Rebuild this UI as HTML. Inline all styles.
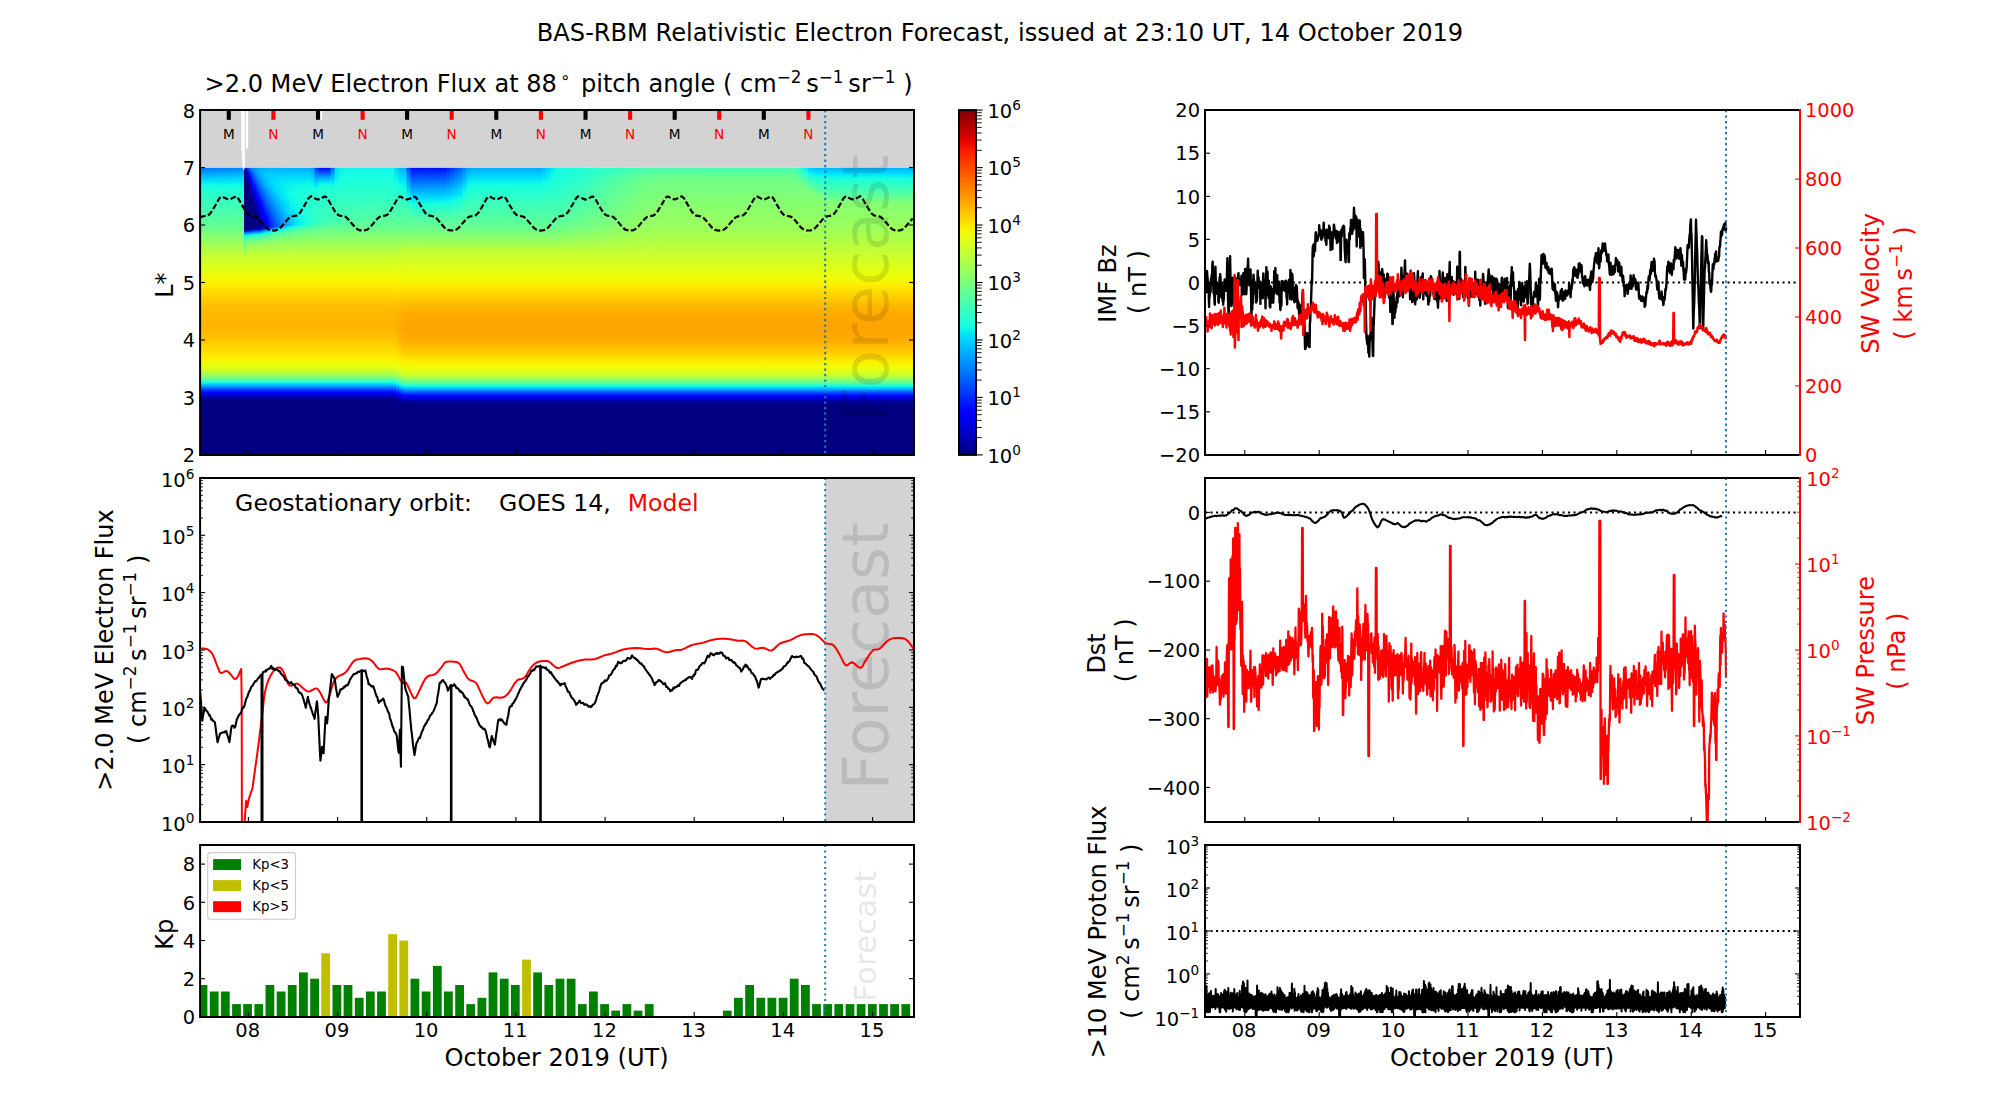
<!DOCTYPE html>
<html lang="en"><head><meta charset="utf-8"><title>BAS-RBM Relativistic Electron Forecast</title><style>html,body{margin:0;padding:0;background:#fff}body{width:2000px;height:1100px;overflow:hidden}svg text{font-family:'DejaVu Sans','Liberation Sans',sans-serif}</style></head><body>
<svg width="2000" height="1100" viewBox="0 0 2000 1100" font-family="'DejaVu Sans','Liberation Sans',sans-serif" style="display:block"><defs><linearGradient id="h0" x1="0" y1="0" x2="0" y2="1"><stop offset="0" stop-color="#c0ff37"/><stop offset=".114" stop-color="#f0fd07"/><stop offset=".137" stop-color="#f9f300"/><stop offset=".16" stop-color="#ffe900"/><stop offset=".263" stop-color="#ffbe00"/><stop offset=".349" stop-color="#ffb400"/><stop offset=".406" stop-color="#ffbd00"/><stop offset=".503" stop-color="#ffe500"/><stop offset=".52" stop-color="#feee00"/><stop offset=".537" stop-color="#f5f701"/><stop offset=".554" stop-color="#eaff0d"/><stop offset=".583" stop-color="#ceff29"/><stop offset=".617" stop-color="#7bff7b"/><stop offset=".64" stop-color="#19ffde"/><stop offset=".646" stop-color="#00e5f7"/><stop offset=".651" stop-color="#00c8ff"/><stop offset=".674" stop-color="#004fff"/><stop offset=".686" stop-color="#0010ff"/><stop offset=".691" stop-color="#0000ff"/><stop offset=".709" stop-color="#0000bb"/><stop offset=".714" stop-color="#0000a9"/><stop offset=".731" stop-color="#000080"/><stop offset="1" stop-color="#000080"/></linearGradient><linearGradient id="h1" x1="0" y1="0" x2="0" y2="1"><stop offset="0" stop-color="#c1ff36"/><stop offset=".114" stop-color="#f0fe07"/><stop offset=".137" stop-color="#f8f400"/><stop offset=".16" stop-color="#ffea00"/><stop offset=".263" stop-color="#ffbd00"/><stop offset=".349" stop-color="#ffb300"/><stop offset=".406" stop-color="#ffbc00"/><stop offset=".491" stop-color="#ffde00"/><stop offset=".52" stop-color="#feed00"/><stop offset=".543" stop-color="#f3f903"/><stop offset=".56" stop-color="#e6ff11"/><stop offset=".583" stop-color="#cfff28"/><stop offset=".617" stop-color="#7fff78"/><stop offset=".64" stop-color="#1fffd8"/><stop offset=".646" stop-color="#06edf1"/><stop offset=".651" stop-color="#00cfff"/><stop offset=".68" stop-color="#0037ff"/><stop offset=".686" stop-color="#0018ff"/><stop offset=".691" stop-color="#0000ff"/><stop offset=".697" stop-color="#0000f0"/><stop offset=".709" stop-color="#0000c1"/><stop offset=".714" stop-color="#0000ae"/><stop offset=".731" stop-color="#000083"/><stop offset=".771" stop-color="#000080"/><stop offset="1" stop-color="#000080"/></linearGradient><linearGradient id="h2" x1="0" y1="0" x2="0" y2="1"><stop offset="0" stop-color="#c2ff34"/><stop offset=".114" stop-color="#efff08"/><stop offset=".143" stop-color="#f9f200"/><stop offset=".16" stop-color="#ffea00"/><stop offset=".263" stop-color="#ffbc00"/><stop offset=".343" stop-color="#ffaf00"/><stop offset=".406" stop-color="#ffb600"/><stop offset=".469" stop-color="#ffcd00"/><stop offset=".526" stop-color="#feed00"/><stop offset=".543" stop-color="#f5f701"/><stop offset=".554" stop-color="#eeff09"/><stop offset=".583" stop-color="#d4ff23"/><stop offset=".6" stop-color="#b4ff43"/><stop offset=".617" stop-color="#8aff6d"/><stop offset=".634" stop-color="#4bffac"/><stop offset=".646" stop-color="#19ffdd"/><stop offset=".651" stop-color="#01e7f6"/><stop offset=".657" stop-color="#00c9ff"/><stop offset=".691" stop-color="#0011ff"/><stop offset=".697" stop-color="#0000ff"/><stop offset=".703" stop-color="#0000ed"/><stop offset=".709" stop-color="#0000d2"/><stop offset=".726" stop-color="#00009d"/><stop offset=".731" stop-color="#00008e"/><stop offset=".749" stop-color="#000080"/><stop offset="1" stop-color="#000080"/></linearGradient><linearGradient id="h3" x1="0" y1="0" x2="0" y2="1"><stop offset="0" stop-color="#c4ff32"/><stop offset=".12" stop-color="#f0fd07"/><stop offset=".143" stop-color="#f8f400"/><stop offset=".166" stop-color="#ffe800"/><stop offset=".263" stop-color="#ffba00"/><stop offset=".297" stop-color="#ffb000"/><stop offset=".371" stop-color="#ffa900"/><stop offset=".434" stop-color="#ffb600"/><stop offset=".491" stop-color="#ffd200"/><stop offset=".531" stop-color="#feee00"/><stop offset=".549" stop-color="#f5f701"/><stop offset=".56" stop-color="#eeff09"/><stop offset=".583" stop-color="#daff1d"/><stop offset=".6" stop-color="#c1ff35"/><stop offset=".617" stop-color="#97ff5f"/><stop offset=".634" stop-color="#62ff95"/><stop offset=".651" stop-color="#18ffde"/><stop offset=".657" stop-color="#00e5f7"/><stop offset=".663" stop-color="#00c7ff"/><stop offset=".691" stop-color="#002fff"/><stop offset=".697" stop-color="#0013ff"/><stop offset=".703" stop-color="#0000ff"/><stop offset=".72" stop-color="#0000bf"/><stop offset=".731" stop-color="#00009b"/><stop offset=".749" stop-color="#000080"/><stop offset="1" stop-color="#000080"/></linearGradient><linearGradient id="h4" x1="0" y1="0" x2="0" y2="1"><stop offset="0" stop-color="#c6ff31"/><stop offset=".12" stop-color="#effe08"/><stop offset=".149" stop-color="#faf200"/><stop offset=".166" stop-color="#ffe900"/><stop offset=".263" stop-color="#ffb800"/><stop offset=".291" stop-color="#ffae00"/><stop offset=".377" stop-color="#ffa500"/><stop offset=".434" stop-color="#ffaf00"/><stop offset=".491" stop-color="#ffcd00"/><stop offset=".537" stop-color="#fdee00"/><stop offset=".554" stop-color="#f4f802"/><stop offset=".566" stop-color="#eeff08"/><stop offset=".6" stop-color="#cdff2a"/><stop offset=".634" stop-color="#75ff82"/><stop offset=".657" stop-color="#13fde4"/><stop offset=".663" stop-color="#00defd"/><stop offset=".703" stop-color="#000aff"/><stop offset=".709" stop-color="#0000f9"/><stop offset=".726" stop-color="#0000b7"/><stop offset=".731" stop-color="#0000a5"/><stop offset=".749" stop-color="#000080"/><stop offset="1" stop-color="#000080"/></linearGradient><linearGradient id="h5" x1="0" y1="0" x2="0" y2="1"><stop offset="0" stop-color="#c7ff30"/><stop offset=".12" stop-color="#efff08"/><stop offset=".149" stop-color="#faf200"/><stop offset=".166" stop-color="#ffe900"/><stop offset=".257" stop-color="#ffba00"/><stop offset=".291" stop-color="#ffac00"/><stop offset=".377" stop-color="#ffa300"/><stop offset=".434" stop-color="#ffad00"/><stop offset=".491" stop-color="#ffcb00"/><stop offset=".537" stop-color="#feee00"/><stop offset=".554" stop-color="#f5f701"/><stop offset=".571" stop-color="#ebff0c"/><stop offset=".6" stop-color="#d0ff26"/><stop offset=".634" stop-color="#7bff7b"/><stop offset=".657" stop-color="#19ffde"/><stop offset=".663" stop-color="#00e6f7"/><stop offset=".669" stop-color="#00c8ff"/><stop offset=".691" stop-color="#004fff"/><stop offset=".703" stop-color="#0010ff"/><stop offset=".709" stop-color="#0000ff"/><stop offset=".726" stop-color="#0000bb"/><stop offset=".731" stop-color="#0000a9"/><stop offset=".749" stop-color="#000080"/><stop offset="1" stop-color="#000080"/></linearGradient><linearGradient id="h6" x1="0" y1="0" x2="0" y2="1"><stop offset="0" stop-color="#006fff"/><stop offset=".12" stop-color="#00caff"/><stop offset=".16" stop-color="#00e3f9"/><stop offset=".22" stop-color="#17ffe0"/><stop offset=".28" stop-color="#27ffd0"/><stop offset=".66" stop-color="#5fff98"/><stop offset="1" stop-color="#c0ff37"/></linearGradient><linearGradient id="h7" x1="0" y1="0" x2="0" y2="1"><stop offset="0" stop-color="#0071ff"/><stop offset=".12" stop-color="#00caff"/><stop offset=".14" stop-color="#00d7ff"/><stop offset=".16" stop-color="#00e3f9"/><stop offset=".22" stop-color="#17ffe0"/><stop offset=".28" stop-color="#27ffd0"/><stop offset=".66" stop-color="#5fff98"/><stop offset="1" stop-color="#c0ff37"/></linearGradient><linearGradient id="h8" x1="0" y1="0" x2="0" y2="1"><stop offset="0" stop-color="#0073ff"/><stop offset=".12" stop-color="#00cbff"/><stop offset=".14" stop-color="#00d8ff"/><stop offset=".16" stop-color="#00e4f8"/><stop offset=".2" stop-color="#10f9e7"/><stop offset=".22" stop-color="#17ffe0"/><stop offset=".28" stop-color="#27ffd0"/><stop offset=".66" stop-color="#5fff98"/><stop offset="1" stop-color="#c0ff37"/></linearGradient><linearGradient id="h9" x1="0" y1="0" x2="0" y2="1"><stop offset="0" stop-color="#0075ff"/><stop offset=".12" stop-color="#00ccff"/><stop offset=".14" stop-color="#00d8ff"/><stop offset=".16" stop-color="#00e4f8"/><stop offset=".2" stop-color="#10f9e7"/><stop offset=".24" stop-color="#1effd9"/><stop offset=".32" stop-color="#2bffcc"/><stop offset=".68" stop-color="#64ff93"/><stop offset="1" stop-color="#c0ff37"/></linearGradient><linearGradient id="h10" x1="0" y1="0" x2="0" y2="1"><stop offset="0" stop-color="#0077ff"/><stop offset=".12" stop-color="#00cdff"/><stop offset=".14" stop-color="#00d9ff"/><stop offset=".16" stop-color="#00e5f7"/><stop offset=".2" stop-color="#10f9e7"/><stop offset=".24" stop-color="#1effd9"/><stop offset=".32" stop-color="#2bffcc"/><stop offset=".68" stop-color="#64ff93"/><stop offset="1" stop-color="#c0ff37"/></linearGradient><linearGradient id="h11" x1="0" y1="0" x2="0" y2="1"><stop offset="0" stop-color="#0079ff"/><stop offset=".12" stop-color="#00ceff"/><stop offset=".14" stop-color="#00daff"/><stop offset=".16" stop-color="#00e5f7"/><stop offset=".2" stop-color="#10fae6"/><stop offset=".24" stop-color="#1effd9"/><stop offset=".32" stop-color="#2bffcc"/><stop offset=".68" stop-color="#64ff93"/><stop offset="1" stop-color="#c0ff37"/></linearGradient><linearGradient id="h12" x1="0" y1="0" x2="0" y2="1"><stop offset="0" stop-color="#007bff"/><stop offset=".12" stop-color="#00cfff"/><stop offset=".14" stop-color="#00daff"/><stop offset=".16" stop-color="#00e6f7"/><stop offset=".2" stop-color="#11fae6"/><stop offset=".24" stop-color="#1effd9"/><stop offset=".32" stop-color="#2bffcc"/><stop offset=".68" stop-color="#64ff93"/><stop offset="1" stop-color="#c0ff37"/></linearGradient><linearGradient id="h13" x1="0" y1="0" x2="0" y2="1"><stop offset="0" stop-color="#007dff"/><stop offset=".12" stop-color="#00cfff"/><stop offset=".14" stop-color="#00dbff"/><stop offset=".16" stop-color="#01e6f6"/><stop offset=".2" stop-color="#11fae6"/><stop offset=".24" stop-color="#1effd9"/><stop offset=".32" stop-color="#2bffcc"/><stop offset=".68" stop-color="#64ff93"/><stop offset="1" stop-color="#c0ff37"/></linearGradient><linearGradient id="h14" x1="0" y1="0" x2="0" y2="1"><stop offset="0" stop-color="#007fff"/><stop offset=".12" stop-color="#00d0ff"/><stop offset=".14" stop-color="#00dcff"/><stop offset=".16" stop-color="#01e7f6"/><stop offset=".2" stop-color="#11fbe6"/><stop offset=".26" stop-color="#23ffd3"/><stop offset=".68" stop-color="#64ff93"/><stop offset="1" stop-color="#c0ff37"/></linearGradient><linearGradient id="h15" x1="0" y1="0" x2="0" y2="1"><stop offset="0" stop-color="#0080ff"/><stop offset=".12" stop-color="#00d1ff"/><stop offset=".14" stop-color="#00dcfe"/><stop offset=".16" stop-color="#01e7f6"/><stop offset=".2" stop-color="#11fbe6"/><stop offset=".26" stop-color="#23ffd3"/><stop offset=".68" stop-color="#64ff93"/><stop offset="1" stop-color="#c0ff37"/></linearGradient><linearGradient id="h16" x1="0" y1="0" x2="0" y2="1"><stop offset="0" stop-color="#0080ff"/><stop offset=".12" stop-color="#00d0ff"/><stop offset=".14" stop-color="#00dbff"/><stop offset=".16" stop-color="#00e6f6"/><stop offset=".2" stop-color="#10fae6"/><stop offset=".24" stop-color="#1effd9"/><stop offset=".32" stop-color="#2bffcc"/><stop offset=".68" stop-color="#64ff93"/><stop offset="1" stop-color="#c0ff37"/></linearGradient><linearGradient id="h17" x1="0" y1="0" x2="0" y2="1"><stop offset="0" stop-color="#00009c"/><stop offset=".02" stop-color="#000080"/><stop offset=".72" stop-color="#000080"/><stop offset=".74" stop-color="#000fff"/><stop offset=".76" stop-color="#0085ff"/><stop offset=".78" stop-color="#00d9ff"/><stop offset=".8" stop-color="#15ffe2"/><stop offset=".9" stop-color="#58ff9f"/><stop offset="1" stop-color="#9eff59"/></linearGradient><linearGradient id="h18" x1="0" y1="0" x2="0" y2="1"><stop offset="0" stop-color="#0005ff"/><stop offset=".02" stop-color="#0000e7"/><stop offset=".06" stop-color="#00009b"/><stop offset=".08" stop-color="#000080"/><stop offset=".72" stop-color="#000080"/><stop offset=".74" stop-color="#001bff"/><stop offset=".76" stop-color="#008dff"/><stop offset=".78" stop-color="#00dffc"/><stop offset=".8" stop-color="#2affcd"/><stop offset=".82" stop-color="#4cffab"/><stop offset=".84" stop-color="#66ff91"/><stop offset=".88" stop-color="#88ff6e"/><stop offset=".96" stop-color="#b0ff47"/><stop offset="1" stop-color="#beff39"/></linearGradient><linearGradient id="h19" x1="0" y1="0" x2="0" y2="1"><stop offset="0" stop-color="#0043ff"/><stop offset=".04" stop-color="#0001ff"/><stop offset=".06" stop-color="#0000f0"/><stop offset=".12" stop-color="#00009c"/><stop offset=".14" stop-color="#000085"/><stop offset=".18" stop-color="#000080"/><stop offset=".7" stop-color="#000080"/><stop offset=".72" stop-color="#000089"/><stop offset=".74" stop-color="#0026ff"/><stop offset=".76" stop-color="#0095ff"/><stop offset=".78" stop-color="#00e4f8"/><stop offset=".8" stop-color="#2dffca"/><stop offset=".82" stop-color="#4effa9"/><stop offset=".86" stop-color="#7aff7d"/><stop offset=".92" stop-color="#9fff58"/><stop offset="1" stop-color="#beff39"/></linearGradient><linearGradient id="h20" x1="0" y1="0" x2="0" y2="1"><stop offset="0" stop-color="#0066ff"/><stop offset=".08" stop-color="#0003ff"/><stop offset=".1" stop-color="#0000f9"/><stop offset=".18" stop-color="#00009e"/><stop offset=".2" stop-color="#00008a"/><stop offset=".22" stop-color="#000080"/><stop offset=".7" stop-color="#000080"/><stop offset=".72" stop-color="#00009b"/><stop offset=".74" stop-color="#0031ff"/><stop offset=".76" stop-color="#009dff"/><stop offset=".78" stop-color="#03e9f4"/><stop offset=".8" stop-color="#30ffc7"/><stop offset=".82" stop-color="#50ffa7"/><stop offset=".86" stop-color="#7bff7c"/><stop offset=".92" stop-color="#a0ff57"/><stop offset="1" stop-color="#beff39"/></linearGradient><linearGradient id="h21" x1="0" y1="0" x2="0" y2="1"><stop offset="0" stop-color="#007cff"/><stop offset=".04" stop-color="#005aff"/><stop offset=".12" stop-color="#0006ff"/><stop offset=".14" stop-color="#0000ff"/><stop offset=".24" stop-color="#00009f"/><stop offset=".28" stop-color="#000080"/><stop offset=".7" stop-color="#000080"/><stop offset=".72" stop-color="#0000ac"/><stop offset=".74" stop-color="#003cff"/><stop offset=".76" stop-color="#00a4ff"/><stop offset=".78" stop-color="#07eff0"/><stop offset=".8" stop-color="#33ffc4"/><stop offset=".82" stop-color="#52ffa5"/><stop offset=".86" stop-color="#7cff7b"/><stop offset=".92" stop-color="#a0ff57"/><stop offset="1" stop-color="#beff39"/></linearGradient><linearGradient id="h22" x1="0" y1="0" x2="0" y2="1"><stop offset="0" stop-color="#0089ff"/><stop offset=".04" stop-color="#0075ff"/><stop offset=".16" stop-color="#0009ff"/><stop offset=".18" stop-color="#0000ff"/><stop offset=".2" stop-color="#0000f4"/><stop offset=".3" stop-color="#0000a0"/><stop offset=".34" stop-color="#000083"/><stop offset=".44" stop-color="#000080"/><stop offset=".7" stop-color="#000080"/><stop offset=".72" stop-color="#0000bd"/><stop offset=".74" stop-color="#0046ff"/><stop offset=".76" stop-color="#00abff"/><stop offset=".78" stop-color="#0bf3ec"/><stop offset=".8" stop-color="#35ffc2"/><stop offset=".82" stop-color="#54ffa3"/><stop offset=".86" stop-color="#7dff7a"/><stop offset=".92" stop-color="#a0ff57"/><stop offset="1" stop-color="#beff39"/></linearGradient><linearGradient id="h23" x1="0" y1="0" x2="0" y2="1"><stop offset="0" stop-color="#0092ff"/><stop offset=".02" stop-color="#0090ff"/><stop offset=".06" stop-color="#007cff"/><stop offset=".2" stop-color="#000cff"/><stop offset=".22" stop-color="#0000ff"/><stop offset=".24" stop-color="#0000fc"/><stop offset=".36" stop-color="#0000a0"/><stop offset=".4" stop-color="#000087"/><stop offset=".42" stop-color="#000080"/><stop offset=".7" stop-color="#000080"/><stop offset=".72" stop-color="#0000ce"/><stop offset=".74" stop-color="#0050ff"/><stop offset=".76" stop-color="#00b2ff"/><stop offset=".78" stop-color="#0ff8e8"/><stop offset=".8" stop-color="#38ffbf"/><stop offset=".82" stop-color="#56ffa1"/><stop offset=".86" stop-color="#7eff79"/><stop offset=".92" stop-color="#a0ff56"/><stop offset="1" stop-color="#beff39"/></linearGradient><linearGradient id="h24" x1="0" y1="0" x2="0" y2="1"><stop offset="0" stop-color="#0098ff"/><stop offset=".04" stop-color="#0096ff"/><stop offset=".1" stop-color="#0077ff"/><stop offset=".26" stop-color="#0001ff"/><stop offset=".28" stop-color="#0000ff"/><stop offset=".42" stop-color="#0000a1"/><stop offset=".48" stop-color="#000080"/><stop offset=".7" stop-color="#000080"/><stop offset=".72" stop-color="#0000de"/><stop offset=".74" stop-color="#005aff"/><stop offset=".76" stop-color="#00b9ff"/><stop offset=".78" stop-color="#13fde4"/><stop offset=".8" stop-color="#3affbc"/><stop offset=".82" stop-color="#58ff9f"/><stop offset=".86" stop-color="#7fff78"/><stop offset=".92" stop-color="#a1ff56"/><stop offset="1" stop-color="#beff39"/></linearGradient><linearGradient id="h25" x1="0" y1="0" x2="0" y2="1"><stop offset="0" stop-color="#009dff"/><stop offset=".04" stop-color="#00a1ff"/><stop offset=".1" stop-color="#008aff"/><stop offset=".3" stop-color="#0004ff"/><stop offset=".32" stop-color="#0000ff"/><stop offset=".36" stop-color="#0000ea"/><stop offset=".5" stop-color="#000097"/><stop offset=".54" stop-color="#000083"/><stop offset=".7" stop-color="#000080"/><stop offset=".72" stop-color="#0000ed"/><stop offset=".74" stop-color="#0063ff"/><stop offset=".76" stop-color="#00bfff"/><stop offset=".78" stop-color="#16ffe0"/><stop offset=".8" stop-color="#3dffba"/><stop offset=".82" stop-color="#59ff9d"/><stop offset=".86" stop-color="#7fff77"/><stop offset=".92" stop-color="#a1ff56"/><stop offset="1" stop-color="#beff39"/></linearGradient><linearGradient id="h26" x1="0" y1="0" x2="0" y2="1"><stop offset="0" stop-color="#00a1ff"/><stop offset=".04" stop-color="#00a9ff"/><stop offset=".08" stop-color="#00a2ff"/><stop offset=".16" stop-color="#007aff"/><stop offset=".34" stop-color="#0006ff"/><stop offset=".38" stop-color="#0000fc"/><stop offset=".54" stop-color="#0000a2"/><stop offset=".62" stop-color="#000080"/><stop offset=".7" stop-color="#000080"/><stop offset=".72" stop-color="#0000fc"/><stop offset=".74" stop-color="#006cff"/><stop offset=".76" stop-color="#00c6ff"/><stop offset=".78" stop-color="#1affdd"/><stop offset=".8" stop-color="#3fffb7"/><stop offset=".82" stop-color="#5bff9c"/><stop offset=".86" stop-color="#80ff77"/><stop offset=".92" stop-color="#a1ff56"/><stop offset="1" stop-color="#beff39"/></linearGradient><linearGradient id="h27" x1="0" y1="0" x2="0" y2="1"><stop offset="0" stop-color="#00a5ff"/><stop offset=".04" stop-color="#00afff"/><stop offset=".1" stop-color="#00a7ff"/><stop offset=".18" stop-color="#0081ff"/><stop offset=".38" stop-color="#0008ff"/><stop offset=".4" stop-color="#0000ff"/><stop offset=".42" stop-color="#0000ff"/><stop offset=".62" stop-color="#00009a"/><stop offset=".68" stop-color="#000080"/><stop offset=".7" stop-color="#000080"/><stop offset=".72" stop-color="#0000ff"/><stop offset=".74" stop-color="#0075ff"/><stop offset=".76" stop-color="#00ccff"/><stop offset=".78" stop-color="#1dffda"/><stop offset=".8" stop-color="#42ffb5"/><stop offset=".82" stop-color="#5dff9a"/><stop offset=".86" stop-color="#81ff76"/><stop offset=".92" stop-color="#a1ff55"/><stop offset="1" stop-color="#beff39"/></linearGradient><linearGradient id="h28" x1="0" y1="0" x2="0" y2="1"><stop offset="0" stop-color="#00a8ff"/><stop offset=".06" stop-color="#00b7ff"/><stop offset=".12" stop-color="#00acff"/><stop offset=".22" stop-color="#007dff"/><stop offset=".44" stop-color="#0001ff"/><stop offset=".48" stop-color="#0000fb"/><stop offset=".68" stop-color="#00009b"/><stop offset=".7" stop-color="#000093"/><stop offset=".72" stop-color="#0012ff"/><stop offset=".74" stop-color="#0085ff"/><stop offset=".76" stop-color="#00d7ff"/><stop offset=".78" stop-color="#24ffd3"/><stop offset=".8" stop-color="#46ffb1"/><stop offset=".82" stop-color="#60ff97"/><stop offset=".86" stop-color="#82ff74"/><stop offset=".94" stop-color="#aaff4d"/><stop offset="1" stop-color="#beff38"/></linearGradient><linearGradient id="h29" x1="0" y1="0" x2="0" y2="1"><stop offset="0" stop-color="#00abff"/><stop offset=".06" stop-color="#00bcff"/><stop offset=".12" stop-color="#00b6ff"/><stop offset=".2" stop-color="#0098ff"/><stop offset=".48" stop-color="#0004ff"/><stop offset=".52" stop-color="#0000ff"/><stop offset=".7" stop-color="#0000ad"/><stop offset=".72" stop-color="#002fff"/><stop offset=".74" stop-color="#0099ff"/><stop offset=".76" stop-color="#00e5f8"/><stop offset=".78" stop-color="#2bffcc"/><stop offset=".8" stop-color="#4bffab"/><stop offset=".84" stop-color="#76ff81"/><stop offset=".9" stop-color="#9aff5d"/><stop offset="1" stop-color="#beff38"/></linearGradient><linearGradient id="h30" x1="0" y1="0" x2="0" y2="1"><stop offset="0" stop-color="#00afff"/><stop offset=".06" stop-color="#00c1ff"/><stop offset=".12" stop-color="#00bfff"/><stop offset=".2" stop-color="#00a6ff"/><stop offset=".52" stop-color="#0007ff"/><stop offset=".54" stop-color="#0000ff"/><stop offset=".58" stop-color="#0000fb"/><stop offset=".7" stop-color="#0000c6"/><stop offset=".72" stop-color="#0049ff"/><stop offset=".74" stop-color="#00abff"/><stop offset=".76" stop-color="#09f1ed"/><stop offset=".78" stop-color="#32ffc5"/><stop offset=".8" stop-color="#50ffa7"/><stop offset=".84" stop-color="#78ff7f"/><stop offset=".9" stop-color="#9bff5c"/><stop offset="1" stop-color="#bfff38"/></linearGradient><linearGradient id="h31" x1="0" y1="0" x2="0" y2="1"><stop offset="0" stop-color="#00b2ff"/><stop offset=".06" stop-color="#00c5ff"/><stop offset=".12" stop-color="#00c7ff"/><stop offset=".2" stop-color="#00b2ff"/><stop offset=".34" stop-color="#0070ff"/><stop offset=".56" stop-color="#000aff"/><stop offset=".58" stop-color="#0001ff"/><stop offset=".62" stop-color="#0000ff"/><stop offset=".68" stop-color="#0000e6"/><stop offset=".7" stop-color="#0000ee"/><stop offset=".72" stop-color="#0061ff"/><stop offset=".74" stop-color="#00bcff"/><stop offset=".76" stop-color="#13fde4"/><stop offset=".78" stop-color="#39ffbe"/><stop offset=".8" stop-color="#55ffa2"/><stop offset=".84" stop-color="#7aff7d"/><stop offset=".9" stop-color="#9bff5b"/><stop offset="1" stop-color="#bfff38"/></linearGradient><linearGradient id="h32" x1="0" y1="0" x2="0" y2="1"><stop offset="0" stop-color="#00b2ff"/><stop offset=".08" stop-color="#00caff"/><stop offset=".14" stop-color="#00caff"/><stop offset=".22" stop-color="#00b5ff"/><stop offset=".6" stop-color="#000dff"/><stop offset=".64" stop-color="#0000ff"/><stop offset=".7" stop-color="#0002ff"/><stop offset=".72" stop-color="#0078ff"/><stop offset=".74" stop-color="#00cbff"/><stop offset=".76" stop-color="#1bffdc"/><stop offset=".78" stop-color="#3fffb8"/><stop offset=".8" stop-color="#59ff9e"/><stop offset=".84" stop-color="#7cff7b"/><stop offset=".92" stop-color="#a4ff53"/><stop offset="1" stop-color="#bfff38"/></linearGradient><linearGradient id="h33" x1="0" y1="0" x2="0" y2="1"><stop offset="0" stop-color="#00b2ff"/><stop offset=".08" stop-color="#00ccff"/><stop offset=".14" stop-color="#00cfff"/><stop offset=".22" stop-color="#00bfff"/><stop offset=".34" stop-color="#008eff"/><stop offset=".62" stop-color="#0017ff"/><stop offset=".68" stop-color="#0001ff"/><stop offset=".7" stop-color="#001fff"/><stop offset=".72" stop-color="#008cff"/><stop offset=".74" stop-color="#00d9ff"/><stop offset=".76" stop-color="#23ffd4"/><stop offset=".78" stop-color="#44ffb3"/><stop offset=".82" stop-color="#6fff88"/><stop offset=".88" stop-color="#94ff63"/><stop offset="1" stop-color="#bfff38"/></linearGradient><linearGradient id="h34" x1="0" y1="0" x2="0" y2="1"><stop offset="0" stop-color="#00b2ff"/><stop offset=".08" stop-color="#00cdff"/><stop offset=".14" stop-color="#00d3ff"/><stop offset=".22" stop-color="#00c7ff"/><stop offset=".34" stop-color="#009bff"/><stop offset=".66" stop-color="#001aff"/><stop offset=".68" stop-color="#0013ff"/><stop offset=".7" stop-color="#003bff"/><stop offset=".72" stop-color="#009fff"/><stop offset=".74" stop-color="#01e6f6"/><stop offset=".76" stop-color="#2affcc"/><stop offset=".78" stop-color="#49ffae"/><stop offset=".82" stop-color="#72ff85"/><stop offset=".88" stop-color="#95ff62"/><stop offset="1" stop-color="#bfff38"/></linearGradient><linearGradient id="h35" x1="0" y1="0" x2="0" y2="1"><stop offset="0" stop-color="#00b1ff"/><stop offset=".08" stop-color="#00ceff"/><stop offset=".16" stop-color="#00d6ff"/><stop offset=".24" stop-color="#00caff"/><stop offset=".38" stop-color="#0097ff"/><stop offset=".68" stop-color="#0024ff"/><stop offset=".7" stop-color="#0054ff"/><stop offset=".72" stop-color="#00b0ff"/><stop offset=".74" stop-color="#0af2ec"/><stop offset=".76" stop-color="#31ffc6"/><stop offset=".78" stop-color="#4effa9"/><stop offset=".82" stop-color="#74ff83"/><stop offset=".88" stop-color="#95ff61"/><stop offset="1" stop-color="#bfff38"/></linearGradient><linearGradient id="h36" x1="0" y1="0" x2="0" y2="1"><stop offset="0" stop-color="#00b1ff"/><stop offset=".1" stop-color="#00d4ff"/><stop offset=".18" stop-color="#00daff"/><stop offset=".28" stop-color="#00c7ff"/><stop offset=".68" stop-color="#0034ff"/><stop offset=".7" stop-color="#006bff"/><stop offset=".72" stop-color="#00c0ff"/><stop offset=".74" stop-color="#13fde4"/><stop offset=".76" stop-color="#37ffc0"/><stop offset=".78" stop-color="#52ffa5"/><stop offset=".82" stop-color="#76ff81"/><stop offset=".88" stop-color="#96ff61"/><stop offset="1" stop-color="#bfff38"/></linearGradient><linearGradient id="h37" x1="0" y1="0" x2="0" y2="1"><stop offset="0" stop-color="#00b1ff"/><stop offset=".1" stop-color="#00d5ff"/><stop offset=".18" stop-color="#00ddfd"/><stop offset=".28" stop-color="#00cfff"/><stop offset=".68" stop-color="#0043ff"/><stop offset=".7" stop-color="#0080ff"/><stop offset=".72" stop-color="#00cfff"/><stop offset=".74" stop-color="#1bffdb"/><stop offset=".76" stop-color="#3dffba"/><stop offset=".8" stop-color="#69ff8e"/><stop offset=".86" stop-color="#8eff69"/><stop offset="1" stop-color="#bfff38"/></linearGradient><linearGradient id="h38" x1="0" y1="0" x2="0" y2="1"><stop offset="0" stop-color="#00b1ff"/><stop offset=".1" stop-color="#00d5ff"/><stop offset=".18" stop-color="#00e1fb"/><stop offset=".26" stop-color="#00daff"/><stop offset=".42" stop-color="#00aaff"/><stop offset=".68" stop-color="#0052ff"/><stop offset=".7" stop-color="#0093ff"/><stop offset=".72" stop-color="#00dcfe"/><stop offset=".74" stop-color="#23ffd4"/><stop offset=".76" stop-color="#42ffb5"/><stop offset=".8" stop-color="#6bff8c"/><stop offset=".86" stop-color="#8fff68"/><stop offset="1" stop-color="#bfff38"/></linearGradient><linearGradient id="h39" x1="0" y1="0" x2="0" y2="1"><stop offset="0" stop-color="#00b0ff"/><stop offset=".12" stop-color="#00dbff"/><stop offset=".2" stop-color="#00e4f8"/><stop offset=".3" stop-color="#00d8ff"/><stop offset=".68" stop-color="#005fff"/><stop offset=".7" stop-color="#00a5ff"/><stop offset=".72" stop-color="#02e9f4"/><stop offset=".74" stop-color="#2affcd"/><stop offset=".76" stop-color="#47ffb0"/><stop offset=".8" stop-color="#6eff89"/><stop offset=".86" stop-color="#8fff67"/><stop offset="1" stop-color="#bfff37"/></linearGradient><linearGradient id="h40" x1="0" y1="0" x2="0" y2="1"><stop offset="0" stop-color="#00b0ff"/><stop offset=".12" stop-color="#00dcff"/><stop offset=".2" stop-color="#01e7f5"/><stop offset=".3" stop-color="#00defd"/><stop offset=".58" stop-color="#008bff"/><stop offset=".68" stop-color="#006cff"/><stop offset=".7" stop-color="#00b6ff"/><stop offset=".72" stop-color="#0cf4eb"/><stop offset=".74" stop-color="#30ffc7"/><stop offset=".76" stop-color="#4bffac"/><stop offset=".8" stop-color="#70ff87"/><stop offset=".86" stop-color="#90ff67"/><stop offset="1" stop-color="#bfff37"/></linearGradient><linearGradient id="h41" x1="0" y1="0" x2="0" y2="1"><stop offset="0" stop-color="#00b0ff"/><stop offset=".12" stop-color="#00ddfe"/><stop offset=".2" stop-color="#04eaf3"/><stop offset=".3" stop-color="#00e4f8"/><stop offset=".36" stop-color="#00d6ff"/><stop offset=".68" stop-color="#0079ff"/><stop offset=".7" stop-color="#00c5ff"/><stop offset=".72" stop-color="#14fee3"/><stop offset=".74" stop-color="#36ffc1"/><stop offset=".76" stop-color="#4fffa8"/><stop offset=".8" stop-color="#72ff85"/><stop offset=".88" stop-color="#99ff5e"/><stop offset="1" stop-color="#bfff37"/></linearGradient><linearGradient id="h42" x1="0" y1="0" x2="0" y2="1"><stop offset="0" stop-color="#00afff"/><stop offset=".12" stop-color="#00ddfe"/><stop offset=".2" stop-color="#05ecf1"/><stop offset=".3" stop-color="#03e9f4"/><stop offset=".38" stop-color="#00d8ff"/><stop offset=".66" stop-color="#0089ff"/><stop offset=".68" stop-color="#0089ff"/><stop offset=".7" stop-color="#00d3ff"/><stop offset=".72" stop-color="#1cffdb"/><stop offset=".74" stop-color="#3bffbb"/><stop offset=".78" stop-color="#65ff92"/><stop offset=".84" stop-color="#89ff6e"/><stop offset="1" stop-color="#bfff37"/></linearGradient><linearGradient id="h43" x1="0" y1="0" x2="0" y2="1"><stop offset="0" stop-color="#00afff"/><stop offset=".12" stop-color="#00ddfd"/><stop offset=".22" stop-color="#08f0ee"/><stop offset=".32" stop-color="#04eaf3"/><stop offset=".42" stop-color="#00d5ff"/><stop offset=".66" stop-color="#0094ff"/><stop offset=".68" stop-color="#009bff"/><stop offset=".7" stop-color="#00dffc"/><stop offset=".72" stop-color="#23ffd4"/><stop offset=".74" stop-color="#40ffb7"/><stop offset=".78" stop-color="#67ff8f"/><stop offset=".84" stop-color="#8aff6d"/><stop offset="1" stop-color="#c0ff37"/></linearGradient><linearGradient id="h44" x1="0" y1="0" x2="0" y2="1"><stop offset="0" stop-color="#00afff"/><stop offset=".12" stop-color="#00defd"/><stop offset=".22" stop-color="#0af2ed"/><stop offset=".32" stop-color="#07efef"/><stop offset=".42" stop-color="#00dcff"/><stop offset=".66" stop-color="#009fff"/><stop offset=".68" stop-color="#00acff"/><stop offset=".7" stop-color="#04ebf2"/><stop offset=".72" stop-color="#29ffcd"/><stop offset=".74" stop-color="#45ffb2"/><stop offset=".78" stop-color="#69ff8d"/><stop offset=".84" stop-color="#8aff6d"/><stop offset="1" stop-color="#c0ff37"/></linearGradient><linearGradient id="h45" x1="0" y1="0" x2="0" y2="1"><stop offset="0" stop-color="#00afff"/><stop offset=".12" stop-color="#00defd"/><stop offset=".22" stop-color="#0cf4eb"/><stop offset=".32" stop-color="#0bf3ec"/><stop offset=".42" stop-color="#00e2fa"/><stop offset=".5" stop-color="#00d1ff"/><stop offset=".66" stop-color="#00a8ff"/><stop offset=".68" stop-color="#00bbff"/><stop offset=".7" stop-color="#0df6ea"/><stop offset=".72" stop-color="#2fffc7"/><stop offset=".74" stop-color="#49ffae"/><stop offset=".78" stop-color="#6bff8b"/><stop offset=".86" stop-color="#93ff64"/><stop offset="1" stop-color="#c0ff37"/></linearGradient><linearGradient id="h46" x1="0" y1="0" x2="0" y2="1"><stop offset="0" stop-color="#00aeff"/><stop offset=".12" stop-color="#00defd"/><stop offset=".22" stop-color="#0df5ea"/><stop offset=".32" stop-color="#0ef7e9"/><stop offset=".46" stop-color="#00e0fb"/><stop offset=".62" stop-color="#00bcff"/><stop offset=".66" stop-color="#00b2ff"/><stop offset=".68" stop-color="#00caff"/><stop offset=".7" stop-color="#15ffe2"/><stop offset=".72" stop-color="#35ffc2"/><stop offset=".76" stop-color="#5fff98"/><stop offset=".82" stop-color="#83ff74"/><stop offset=".98" stop-color="#baff3d"/><stop offset="1" stop-color="#c0ff37"/></linearGradient><linearGradient id="h47" x1="0" y1="0" x2="0" y2="1"><stop offset="0" stop-color="#00aeff"/><stop offset=".12" stop-color="#00defd"/><stop offset=".22" stop-color="#0ef7e9"/><stop offset=".32" stop-color="#10fae6"/><stop offset=".48" stop-color="#00e2f9"/><stop offset=".56" stop-color="#00d2ff"/><stop offset=".66" stop-color="#00baff"/><stop offset=".68" stop-color="#00d7ff"/><stop offset=".7" stop-color="#1cffdb"/><stop offset=".72" stop-color="#3affbd"/><stop offset=".76" stop-color="#61ff96"/><stop offset=".82" stop-color="#84ff73"/><stop offset="1" stop-color="#c0ff37"/></linearGradient><linearGradient id="h48" x1="0" y1="0" x2="0" y2="1"><stop offset="0" stop-color="#00aeff"/><stop offset=".12" stop-color="#00defd"/><stop offset=".18" stop-color="#09f0ee"/><stop offset=".28" stop-color="#15ffe2"/><stop offset=".42" stop-color="#0df6ea"/><stop offset=".54" stop-color="#00e2f9"/><stop offset=".62" stop-color="#00d2ff"/><stop offset=".66" stop-color="#00c9ff"/><stop offset=".68" stop-color="#05ecf2"/><stop offset=".7" stop-color="#28ffcf"/><stop offset=".72" stop-color="#42ffb5"/><stop offset=".76" stop-color="#65ff92"/><stop offset=".84" stop-color="#8dff6a"/><stop offset="1" stop-color="#c0ff37"/></linearGradient><linearGradient id="h49" x1="0" y1="0" x2="0" y2="1"><stop offset="0" stop-color="#00adff"/><stop offset=".12" stop-color="#00defd"/><stop offset=".16" stop-color="#05ebf2"/><stop offset=".24" stop-color="#15ffe2"/><stop offset=".34" stop-color="#19ffde"/><stop offset=".46" stop-color="#12fce4"/><stop offset=".64" stop-color="#00e1fb"/><stop offset=".66" stop-color="#00ddfe"/><stop offset=".68" stop-color="#19ffdd"/><stop offset=".7" stop-color="#36ffc1"/><stop offset=".74" stop-color="#5cff9a"/><stop offset=".8" stop-color="#7eff79"/><stop offset=".98" stop-color="#baff3d"/><stop offset="1" stop-color="#c0ff37"/></linearGradient><linearGradient id="h50" x1="0" y1="0" x2="0" y2="1"><stop offset="0" stop-color="#00acff"/><stop offset=".12" stop-color="#00defd"/><stop offset=".16" stop-color="#05ecf2"/><stop offset=".24" stop-color="#16ffe1"/><stop offset=".36" stop-color="#1effd9"/><stop offset=".56" stop-color="#12fce5"/><stop offset=".64" stop-color="#09f1ee"/><stop offset=".66" stop-color="#0af2ec"/><stop offset=".68" stop-color="#29ffcd"/><stop offset=".72" stop-color="#53ffa3"/><stop offset=".78" stop-color="#77ff7f"/><stop offset=".94" stop-color="#aeff49"/><stop offset="1" stop-color="#c0ff37"/></linearGradient><linearGradient id="h51" x1="0" y1="0" x2="0" y2="1"><stop offset="0" stop-color="#00abff"/><stop offset=".12" stop-color="#00ddfd"/><stop offset=".16" stop-color="#05ecf2"/><stop offset=".22" stop-color="#13fee3"/><stop offset=".32" stop-color="#21ffd6"/><stop offset=".52" stop-color="#1effd9"/><stop offset=".64" stop-color="#14ffe2"/><stop offset=".66" stop-color="#1dffda"/><stop offset=".7" stop-color="#4affad"/><stop offset=".76" stop-color="#70ff86"/><stop offset=".9" stop-color="#a2ff54"/><stop offset="1" stop-color="#c0ff37"/></linearGradient><linearGradient id="h52" x1="0" y1="0" x2="0" y2="1"><stop offset="0" stop-color="#00abff"/><stop offset=".12" stop-color="#00ddfe"/><stop offset=".16" stop-color="#05ecf2"/><stop offset=".22" stop-color="#14fee3"/><stop offset=".34" stop-color="#24ffd3"/><stop offset=".54" stop-color="#24ffd2"/><stop offset=".64" stop-color="#1effd9"/><stop offset=".66" stop-color="#2bffcb"/><stop offset=".7" stop-color="#51ffa6"/><stop offset=".76" stop-color="#73ff84"/><stop offset=".94" stop-color="#aeff48"/><stop offset="1" stop-color="#c0ff37"/></linearGradient><linearGradient id="h53" x1="0" y1="0" x2="0" y2="1"><stop offset="0" stop-color="#009dff"/><stop offset=".14" stop-color="#00dffc"/><stop offset=".18" stop-color="#07eef0"/><stop offset=".24" stop-color="#17ffe0"/><stop offset=".34" stop-color="#26ffd1"/><stop offset=".56" stop-color="#2affcd"/><stop offset=".64" stop-color="#26ffd0"/><stop offset=".7" stop-color="#56ffa0"/><stop offset=".78" stop-color="#7cff7b"/><stop offset="1" stop-color="#c0ff37"/></linearGradient><linearGradient id="h54" x1="0" y1="0" x2="0" y2="1"><stop offset="0" stop-color="#0037ff"/><stop offset=".12" stop-color="#00a6ff"/><stop offset=".18" stop-color="#00d4ff"/><stop offset=".2" stop-color="#00e2fa"/><stop offset=".24" stop-color="#10f9e7"/><stop offset=".28" stop-color="#1fffd8"/><stop offset=".38" stop-color="#2bffcc"/><stop offset=".6" stop-color="#2fffc8"/><stop offset=".64" stop-color="#2effc8"/><stop offset=".7" stop-color="#5bff9c"/><stop offset=".8" stop-color="#84ff73"/><stop offset="1" stop-color="#c0ff37"/></linearGradient><linearGradient id="h55" x1="0" y1="0" x2="0" y2="1"><stop offset="0" stop-color="#0000ff"/><stop offset=".02" stop-color="#001aff"/><stop offset=".08" stop-color="#0078ff"/><stop offset=".14" stop-color="#00c6ff"/><stop offset=".16" stop-color="#00dbff"/><stop offset=".2" stop-color="#14ffe2"/><stop offset=".24" stop-color="#23ffd4"/><stop offset=".56" stop-color="#35ffc2"/><stop offset=".62" stop-color="#34ffc2"/><stop offset=".64" stop-color="#39ffbe"/><stop offset=".7" stop-color="#5eff99"/><stop offset=".82" stop-color="#8bff6c"/><stop offset="1" stop-color="#c0ff37"/></linearGradient><linearGradient id="h56" x1="0" y1="0" x2="0" y2="1"><stop offset="0" stop-color="#0000ff"/><stop offset=".02" stop-color="#001aff"/><stop offset=".08" stop-color="#0078ff"/><stop offset=".14" stop-color="#00c6ff"/><stop offset=".16" stop-color="#00dbff"/><stop offset=".2" stop-color="#15ffe2"/><stop offset=".24" stop-color="#23ffd4"/><stop offset=".56" stop-color="#39ffbe"/><stop offset=".62" stop-color="#39ffbd"/><stop offset=".74" stop-color="#71ff86"/><stop offset="1" stop-color="#c0ff37"/></linearGradient><linearGradient id="h57" x1="0" y1="0" x2="0" y2="1"><stop offset="0" stop-color="#0000ff"/><stop offset=".02" stop-color="#001aff"/><stop offset=".08" stop-color="#0078ff"/><stop offset=".14" stop-color="#00c6ff"/><stop offset=".16" stop-color="#00dbff"/><stop offset=".2" stop-color="#15ffe2"/><stop offset=".24" stop-color="#23ffd4"/><stop offset=".58" stop-color="#3dffba"/><stop offset=".62" stop-color="#3effb9"/><stop offset=".74" stop-color="#72ff85"/><stop offset="1" stop-color="#c0ff37"/></linearGradient><linearGradient id="h58" x1="0" y1="0" x2="0" y2="1"><stop offset="0" stop-color="#0060ff"/><stop offset=".1" stop-color="#00b5ff"/><stop offset=".16" stop-color="#00e0fc"/><stop offset=".22" stop-color="#17ffe0"/><stop offset=".28" stop-color="#26ffd0"/><stop offset=".6" stop-color="#41ffb6"/><stop offset=".62" stop-color="#42ffb5"/><stop offset=".76" stop-color="#79ff7e"/><stop offset="1" stop-color="#c0ff37"/></linearGradient><linearGradient id="h59" x1="0" y1="0" x2="0" y2="1"><stop offset="0" stop-color="#00d7ff"/><stop offset=".08" stop-color="#04eaf3"/><stop offset=".18" stop-color="#16ffe1"/><stop offset=".52" stop-color="#3fffb8"/><stop offset=".62" stop-color="#47ffb0"/><stop offset=".8" stop-color="#86ff71"/><stop offset="1" stop-color="#c0ff37"/></linearGradient><linearGradient id="h60" x1="0" y1="0" x2="0" y2="1"><stop offset="0" stop-color="#06edf1"/><stop offset=".14" stop-color="#17ffe0"/><stop offset=".62" stop-color="#4bffac"/><stop offset=".9" stop-color="#a3ff54"/><stop offset="1" stop-color="#c0ff37"/></linearGradient><linearGradient id="h61" x1="0" y1="0" x2="0" y2="1"><stop offset="0" stop-color="#0df5ea"/><stop offset=".12" stop-color="#18ffdf"/><stop offset=".46" stop-color="#3bffbb"/><stop offset=".6" stop-color="#49ffae"/><stop offset="1" stop-color="#c0ff37"/></linearGradient><linearGradient id="h62" x1="0" y1="0" x2="0" y2="1"><stop offset="0" stop-color="#0ef7e9"/><stop offset=".12" stop-color="#19ffde"/><stop offset=".42" stop-color="#37ffc0"/><stop offset=".6" stop-color="#4affac"/><stop offset="1" stop-color="#c0ff37"/></linearGradient><linearGradient id="h63" x1="0" y1="0" x2="0" y2="1"><stop offset="0" stop-color="#0ef7e9"/><stop offset=".12" stop-color="#19ffde"/><stop offset=".42" stop-color="#38ffbf"/><stop offset=".6" stop-color="#4dffaa"/><stop offset="1" stop-color="#c0ff37"/></linearGradient><linearGradient id="h64" x1="0" y1="0" x2="0" y2="1"><stop offset="0" stop-color="#0ef7e9"/><stop offset=".12" stop-color="#19ffde"/><stop offset=".4" stop-color="#35ffc2"/><stop offset=".6" stop-color="#4fffa8"/><stop offset=".92" stop-color="#a9ff4e"/><stop offset="1" stop-color="#c0ff37"/></linearGradient><linearGradient id="h65" x1="0" y1="0" x2="0" y2="1"><stop offset="0" stop-color="#0ef7e9"/><stop offset=".12" stop-color="#19ffde"/><stop offset=".4" stop-color="#35ffc1"/><stop offset=".62" stop-color="#55ffa2"/><stop offset=".82" stop-color="#8cff6b"/><stop offset="1" stop-color="#c0ff37"/></linearGradient><linearGradient id="h66" x1="0" y1="0" x2="0" y2="1"><stop offset="0" stop-color="#0ef7e9"/><stop offset=".12" stop-color="#19ffde"/><stop offset=".4" stop-color="#36ffc1"/><stop offset=".62" stop-color="#56ffa1"/><stop offset=".78" stop-color="#80ff76"/><stop offset="1" stop-color="#c0ff37"/></linearGradient><linearGradient id="h67" x1="0" y1="0" x2="0" y2="1"><stop offset="0" stop-color="#0ef7e9"/><stop offset=".12" stop-color="#19ffde"/><stop offset=".4" stop-color="#36ffc1"/><stop offset=".62" stop-color="#57ffa0"/><stop offset=".76" stop-color="#7bff7c"/><stop offset="1" stop-color="#c0ff37"/></linearGradient><linearGradient id="h68" x1="0" y1="0" x2="0" y2="1"><stop offset="0" stop-color="#0ef7e9"/><stop offset=".12" stop-color="#19ffde"/><stop offset=".4" stop-color="#36ffc1"/><stop offset=".66" stop-color="#5eff99"/><stop offset="1" stop-color="#c0ff37"/></linearGradient><linearGradient id="h69" x1="0" y1="0" x2="0" y2="1"><stop offset="0" stop-color="#0ef7e9"/><stop offset=".12" stop-color="#19ffde"/><stop offset=".4" stop-color="#36ffc1"/><stop offset=".66" stop-color="#5eff98"/><stop offset="1" stop-color="#c0ff37"/></linearGradient><linearGradient id="h70" x1="0" y1="0" x2="0" y2="1"><stop offset="0" stop-color="#0ef7e9"/><stop offset=".12" stop-color="#19ffde"/><stop offset=".38" stop-color="#33ffc4"/><stop offset=".68" stop-color="#64ff93"/><stop offset="1" stop-color="#c0ff37"/></linearGradient><linearGradient id="h71" x1="0" y1="0" x2="0" y2="1"><stop offset="0" stop-color="#00d4ff"/><stop offset=".08" stop-color="#03e9f4"/><stop offset=".18" stop-color="#15ffe1"/><stop offset=".68" stop-color="#64ff93"/><stop offset="1" stop-color="#c2ff35"/></linearGradient><linearGradient id="h72" x1="0" y1="0" x2="0" y2="1"><stop offset="0" stop-color="#00b3ff"/><stop offset=".12" stop-color="#00dffc"/><stop offset=".16" stop-color="#06edf1"/><stop offset=".22" stop-color="#15ffe2"/><stop offset=".54" stop-color="#4cffab"/><stop offset=".68" stop-color="#64ff93"/><stop offset=".86" stop-color="#9aff5c"/><stop offset="1" stop-color="#c4ff32"/></linearGradient><linearGradient id="h73" x1="0" y1="0" x2="0" y2="1"><stop offset="0" stop-color="#00b3ff"/><stop offset=".12" stop-color="#00ddfe"/><stop offset=".18" stop-color="#09f0ee"/><stop offset=".24" stop-color="#17ffe0"/><stop offset=".5" stop-color="#46ffb1"/><stop offset=".68" stop-color="#64ff93"/><stop offset=".84" stop-color="#93ff64"/><stop offset=".94" stop-color="#b8ff3f"/><stop offset="1" stop-color="#c7ff30"/></linearGradient><linearGradient id="h74" x1="0" y1="0" x2="0" y2="1"><stop offset="0" stop-color="#0048ff"/><stop offset=".22" stop-color="#00bfff"/><stop offset=".28" stop-color="#00dbff"/><stop offset=".32" stop-color="#05ecf2"/><stop offset=".36" stop-color="#14fee3"/><stop offset=".52" stop-color="#48ffaf"/><stop offset=".68" stop-color="#64ff93"/><stop offset=".84" stop-color="#93ff64"/><stop offset=".94" stop-color="#b9ff3e"/><stop offset="1" stop-color="#c7ff30"/></linearGradient><linearGradient id="h75" x1="0" y1="0" x2="0" y2="1"><stop offset="0" stop-color="#0009ff"/><stop offset=".22" stop-color="#0092ff"/><stop offset=".36" stop-color="#00defd"/><stop offset=".4" stop-color="#0cf4eb"/><stop offset=".42" stop-color="#14ffe3"/><stop offset=".58" stop-color="#4effa9"/><stop offset=".74" stop-color="#75ff82"/><stop offset=".86" stop-color="#9cff5b"/><stop offset=".96" stop-color="#beff39"/><stop offset="1" stop-color="#c7ff30"/></linearGradient><linearGradient id="h76" x1="0" y1="0" x2="0" y2="1"><stop offset="0" stop-color="#0008ff"/><stop offset=".22" stop-color="#0092ff"/><stop offset=".36" stop-color="#00dffc"/><stop offset=".4" stop-color="#0cf5eb"/><stop offset=".42" stop-color="#15ffe2"/><stop offset=".58" stop-color="#4effa9"/><stop offset=".74" stop-color="#75ff82"/><stop offset=".86" stop-color="#9cff5b"/><stop offset=".96" stop-color="#beff39"/><stop offset="1" stop-color="#c7ff30"/></linearGradient><linearGradient id="h77" x1="0" y1="0" x2="0" y2="1"><stop offset="0" stop-color="#0009ff"/><stop offset=".2" stop-color="#0087ff"/><stop offset=".36" stop-color="#00dffc"/><stop offset=".4" stop-color="#0df5ea"/><stop offset=".42" stop-color="#15ffe2"/><stop offset=".58" stop-color="#4fffa8"/><stop offset=".74" stop-color="#75ff82"/><stop offset=".86" stop-color="#9cff5b"/><stop offset=".96" stop-color="#beff39"/><stop offset="1" stop-color="#c7ff30"/></linearGradient><linearGradient id="h78" x1="0" y1="0" x2="0" y2="1"><stop offset="0" stop-color="#0008ff"/><stop offset=".2" stop-color="#0088ff"/><stop offset=".34" stop-color="#00d4ff"/><stop offset=".38" stop-color="#04ebf2"/><stop offset=".42" stop-color="#16ffe1"/><stop offset=".58" stop-color="#4fffa8"/><stop offset=".72" stop-color="#6fff87"/><stop offset=".84" stop-color="#93ff64"/><stop offset=".94" stop-color="#b9ff3e"/><stop offset="1" stop-color="#c7ff30"/></linearGradient><linearGradient id="h79" x1="0" y1="0" x2="0" y2="1"><stop offset="0" stop-color="#0009ff"/><stop offset=".2" stop-color="#0088ff"/><stop offset=".34" stop-color="#00d5ff"/><stop offset=".38" stop-color="#05ebf2"/><stop offset=".42" stop-color="#16ffe1"/><stop offset=".58" stop-color="#4fffa8"/><stop offset=".72" stop-color="#6fff87"/><stop offset=".84" stop-color="#93ff64"/><stop offset=".94" stop-color="#b9ff3e"/><stop offset="1" stop-color="#c7ff30"/></linearGradient><linearGradient id="h80" x1="0" y1="0" x2="0" y2="1"><stop offset="0" stop-color="#0008ff"/><stop offset=".2" stop-color="#0088ff"/><stop offset=".34" stop-color="#00d5ff"/><stop offset=".38" stop-color="#05ecf2"/><stop offset=".42" stop-color="#17ffe0"/><stop offset=".58" stop-color="#4fffa7"/><stop offset=".72" stop-color="#6fff87"/><stop offset=".84" stop-color="#93ff64"/><stop offset=".94" stop-color="#b9ff3e"/><stop offset="1" stop-color="#c7ff30"/></linearGradient><linearGradient id="h81" x1="0" y1="0" x2="0" y2="1"><stop offset="0" stop-color="#0009ff"/><stop offset=".2" stop-color="#0089ff"/><stop offset=".34" stop-color="#00d6ff"/><stop offset=".38" stop-color="#06edf1"/><stop offset=".42" stop-color="#17ffe0"/><stop offset=".58" stop-color="#50ffa7"/><stop offset=".72" stop-color="#6fff87"/><stop offset=".84" stop-color="#93ff64"/><stop offset=".94" stop-color="#b9ff3e"/><stop offset="1" stop-color="#c7ff30"/></linearGradient><linearGradient id="h82" x1="0" y1="0" x2="0" y2="1"><stop offset="0" stop-color="#0008ff"/><stop offset=".2" stop-color="#0089ff"/><stop offset=".34" stop-color="#00d6ff"/><stop offset=".36" stop-color="#00e2fa"/><stop offset=".42" stop-color="#18ffdf"/><stop offset=".58" stop-color="#50ffa7"/><stop offset=".72" stop-color="#6fff87"/><stop offset=".84" stop-color="#93ff64"/><stop offset=".94" stop-color="#b9ff3e"/><stop offset="1" stop-color="#c7ff30"/></linearGradient><linearGradient id="h83" x1="0" y1="0" x2="0" y2="1"><stop offset="0" stop-color="#0009ff"/><stop offset=".2" stop-color="#008aff"/><stop offset=".34" stop-color="#00d7ff"/><stop offset=".36" stop-color="#00e3f9"/><stop offset=".4" stop-color="#0ff9e7"/><stop offset=".42" stop-color="#18ffdf"/><stop offset=".56" stop-color="#4bffac"/><stop offset=".72" stop-color="#6fff87"/><stop offset=".84" stop-color="#93ff64"/><stop offset=".94" stop-color="#b9ff3e"/><stop offset="1" stop-color="#c7ff30"/></linearGradient><linearGradient id="h84" x1="0" y1="0" x2="0" y2="1"><stop offset="0" stop-color="#001cff"/><stop offset=".22" stop-color="#00a0ff"/><stop offset=".34" stop-color="#00ddfd"/><stop offset=".36" stop-color="#02e8f5"/><stop offset=".4" stop-color="#13fde4"/><stop offset=".56" stop-color="#4bffab"/><stop offset=".72" stop-color="#6fff87"/><stop offset=".84" stop-color="#93ff64"/><stop offset=".94" stop-color="#b9ff3e"/><stop offset="1" stop-color="#c7ff30"/></linearGradient><linearGradient id="h85" x1="0" y1="0" x2="0" y2="1"><stop offset="0" stop-color="#0033ff"/><stop offset=".22" stop-color="#00acff"/><stop offset=".32" stop-color="#00dbff"/><stop offset=".34" stop-color="#00e5f8"/><stop offset=".4" stop-color="#17ffe0"/><stop offset=".56" stop-color="#4cffab"/><stop offset=".7" stop-color="#6aff8d"/><stop offset=".84" stop-color="#93ff64"/><stop offset=".94" stop-color="#b9ff3e"/><stop offset="1" stop-color="#c7ff30"/></linearGradient><linearGradient id="h86" x1="0" y1="0" x2="0" y2="1"><stop offset="0" stop-color="#004aff"/><stop offset=".24" stop-color="#00c1ff"/><stop offset=".3" stop-color="#00dbff"/><stop offset=".34" stop-color="#05ecf2"/><stop offset=".38" stop-color="#14fee3"/><stop offset=".56" stop-color="#4dffaa"/><stop offset=".7" stop-color="#6aff8d"/><stop offset=".84" stop-color="#93ff64"/><stop offset=".94" stop-color="#b9ff3e"/><stop offset="1" stop-color="#c7ff30"/></linearGradient><linearGradient id="h87" x1="0" y1="0" x2="0" y2="1"><stop offset="0" stop-color="#0061ff"/><stop offset=".24" stop-color="#00ceff"/><stop offset=".28" stop-color="#00defd"/><stop offset=".32" stop-color="#06edf1"/><stop offset=".36" stop-color="#13fde3"/><stop offset=".56" stop-color="#4effa9"/><stop offset=".7" stop-color="#6aff8d"/><stop offset=".84" stop-color="#93ff64"/><stop offset=".94" stop-color="#b9ff3e"/><stop offset="1" stop-color="#c7ff30"/></linearGradient><linearGradient id="h88" x1="0" y1="0" x2="0" y2="1"><stop offset="0" stop-color="#0080ff"/><stop offset=".2" stop-color="#00daff"/><stop offset=".24" stop-color="#03eaf4"/><stop offset=".3" stop-color="#15ffe2"/><stop offset=".46" stop-color="#40ffb7"/><stop offset=".68" stop-color="#64ff93"/><stop offset=".84" stop-color="#93ff64"/><stop offset=".94" stop-color="#b9ff3e"/><stop offset="1" stop-color="#c7ff30"/></linearGradient><linearGradient id="h89" x1="0" y1="0" x2="0" y2="1"><stop offset="0" stop-color="#009fff"/><stop offset=".14" stop-color="#00defd"/><stop offset=".18" stop-color="#07eef0"/><stop offset=".24" stop-color="#18ffdf"/><stop offset=".44" stop-color="#3dffba"/><stop offset=".68" stop-color="#64ff93"/><stop offset=".84" stop-color="#93ff64"/><stop offset=".94" stop-color="#b9ff3e"/><stop offset="1" stop-color="#c7ff30"/></linearGradient><linearGradient id="h90" x1="0" y1="0" x2="0" y2="1"><stop offset="0" stop-color="#00aaff"/><stop offset=".1" stop-color="#00d8ff"/><stop offset=".14" stop-color="#02e8f4"/><stop offset=".2" stop-color="#14fee3"/><stop offset=".32" stop-color="#2bffcc"/><stop offset=".68" stop-color="#64ff93"/><stop offset=".84" stop-color="#93ff64"/><stop offset=".94" stop-color="#b9ff3e"/><stop offset="1" stop-color="#c7ff30"/></linearGradient><linearGradient id="h91" x1="0" y1="0" x2="0" y2="1"><stop offset="0" stop-color="#00acff"/><stop offset=".1" stop-color="#00d9ff"/><stop offset=".14" stop-color="#03e9f4"/><stop offset=".2" stop-color="#14ffe2"/><stop offset=".32" stop-color="#2bffcc"/><stop offset=".68" stop-color="#64ff93"/><stop offset=".84" stop-color="#93ff64"/><stop offset=".94" stop-color="#b9ff3e"/><stop offset="1" stop-color="#c7ff30"/></linearGradient><linearGradient id="h92" x1="0" y1="0" x2="0" y2="1"><stop offset="0" stop-color="#00c0ff"/><stop offset=".08" stop-color="#00ddfd"/><stop offset=".12" stop-color="#04ebf2"/><stop offset=".18" stop-color="#13fde4"/><stop offset=".32" stop-color="#2bffcc"/><stop offset=".68" stop-color="#64ff93"/><stop offset=".84" stop-color="#93ff64"/><stop offset=".94" stop-color="#b9ff3e"/><stop offset="1" stop-color="#c7ff30"/></linearGradient><linearGradient id="h93" x1="0" y1="0" x2="0" y2="1"><stop offset="0" stop-color="#00d4ff"/><stop offset=".06" stop-color="#00e5f7"/><stop offset=".16" stop-color="#14ffe3"/><stop offset=".68" stop-color="#64ff92"/><stop offset=".84" stop-color="#93ff63"/><stop offset=".94" stop-color="#b9ff3e"/><stop offset="1" stop-color="#c7ff30"/></linearGradient><linearGradient id="h94" x1="0" y1="0" x2="0" y2="1"><stop offset="0" stop-color="#02e8f5"/><stop offset=".12" stop-color="#15ffe2"/><stop offset=".48" stop-color="#45ffb2"/><stop offset=".68" stop-color="#65ff92"/><stop offset=".84" stop-color="#94ff63"/><stop offset=".94" stop-color="#b9ff3e"/><stop offset="1" stop-color="#c7ff30"/></linearGradient><linearGradient id="h95" x1="0" y1="0" x2="0" y2="1"><stop offset="0" stop-color="#10fae7"/><stop offset=".1" stop-color="#1affdc"/><stop offset=".4" stop-color="#3affbd"/><stop offset=".68" stop-color="#66ff91"/><stop offset=".84" stop-color="#94ff62"/><stop offset=".96" stop-color="#beff39"/><stop offset="1" stop-color="#c7ff30"/></linearGradient><linearGradient id="h96" x1="0" y1="0" x2="0" y2="1"><stop offset="0" stop-color="#12fbe5"/><stop offset=".2" stop-color="#26ffd1"/><stop offset=".42" stop-color="#3effb8"/><stop offset=".68" stop-color="#67ff8f"/><stop offset=".84" stop-color="#95ff62"/><stop offset=".96" stop-color="#beff39"/><stop offset="1" stop-color="#c7ff30"/></linearGradient><linearGradient id="h97" x1="0" y1="0" x2="0" y2="1"><stop offset="0" stop-color="#13fee3"/><stop offset=".4" stop-color="#3effb9"/><stop offset=".68" stop-color="#69ff8e"/><stop offset=".84" stop-color="#96ff61"/><stop offset=".96" stop-color="#beff38"/><stop offset="1" stop-color="#c7ff30"/></linearGradient><linearGradient id="h98" x1="0" y1="0" x2="0" y2="1"><stop offset="0" stop-color="#16ffe1"/><stop offset=".42" stop-color="#45ffb2"/><stop offset=".68" stop-color="#6cff8b"/><stop offset=".86" stop-color="#9fff57"/><stop offset=".98" stop-color="#c3ff34"/><stop offset="1" stop-color="#c7ff30"/></linearGradient><linearGradient id="h99" x1="0" y1="0" x2="0" y2="1"><stop offset="0" stop-color="#19ffdd"/><stop offset=".24" stop-color="#35ffc2"/><stop offset=".48" stop-color="#51ffa6"/><stop offset=".68" stop-color="#6eff88"/><stop offset=".86" stop-color="#a1ff56"/><stop offset=".98" stop-color="#c3ff34"/><stop offset="1" stop-color="#c7ff30"/></linearGradient><linearGradient id="h100" x1="0" y1="0" x2="0" y2="1"><stop offset="0" stop-color="#1dffda"/><stop offset=".2" stop-color="#36ffc0"/><stop offset=".44" stop-color="#50ffa7"/><stop offset=".68" stop-color="#72ff85"/><stop offset=".86" stop-color="#a2ff55"/><stop offset=".98" stop-color="#c3ff34"/><stop offset="1" stop-color="#c7ff30"/></linearGradient><linearGradient id="h101" x1="0" y1="0" x2="0" y2="1"><stop offset="0" stop-color="#20ffd6"/><stop offset=".18" stop-color="#3affbd"/><stop offset=".46" stop-color="#57ffa0"/><stop offset=".68" stop-color="#75ff82"/><stop offset=".86" stop-color="#a3ff53"/><stop offset="1" stop-color="#c7ff30"/></linearGradient><linearGradient id="h102" x1="0" y1="0" x2="0" y2="1"><stop offset="0" stop-color="#24ffd3"/><stop offset=".16" stop-color="#3effb8"/><stop offset=".46" stop-color="#5cff9b"/><stop offset=".68" stop-color="#79ff7e"/><stop offset=".88" stop-color="#abff4c"/><stop offset="1" stop-color="#c7ff30"/></linearGradient><linearGradient id="h103" x1="0" y1="0" x2="0" y2="1"><stop offset="0" stop-color="#28ffcf"/><stop offset=".16" stop-color="#44ffb2"/><stop offset=".5" stop-color="#66ff91"/><stop offset=".7" stop-color="#81ff76"/><stop offset="1" stop-color="#c7ff30"/></linearGradient><linearGradient id="h104" x1="0" y1="0" x2="0" y2="1"><stop offset="0" stop-color="#2cffcb"/><stop offset=".16" stop-color="#4affac"/><stop offset=".54" stop-color="#6fff88"/><stop offset=".7" stop-color="#84ff73"/><stop offset="1" stop-color="#c7ff30"/></linearGradient><linearGradient id="h105" x1="0" y1="0" x2="0" y2="1"><stop offset="0" stop-color="#30ffc7"/><stop offset=".16" stop-color="#50ffa6"/><stop offset=".64" stop-color="#7eff79"/><stop offset=".88" stop-color="#afff48"/><stop offset="1" stop-color="#c7ff30"/></linearGradient><linearGradient id="h106" x1="0" y1="0" x2="0" y2="1"><stop offset="0" stop-color="#34ffc3"/><stop offset=".14" stop-color="#55ffa2"/><stop offset=".66" stop-color="#84ff73"/><stop offset="1" stop-color="#c7ff30"/></linearGradient><linearGradient id="h107" x1="0" y1="0" x2="0" y2="1"><stop offset="0" stop-color="#38ffbf"/><stop offset=".14" stop-color="#5aff9c"/><stop offset=".68" stop-color="#8aff6c"/><stop offset="1" stop-color="#c7ff30"/></linearGradient><linearGradient id="h108" x1="0" y1="0" x2="0" y2="1"><stop offset="0" stop-color="#3bffbc"/><stop offset=".14" stop-color="#60ff97"/><stop offset=".7" stop-color="#91ff66"/><stop offset="1" stop-color="#c7ff30"/></linearGradient><linearGradient id="h109" x1="0" y1="0" x2="0" y2="1"><stop offset="0" stop-color="#3effb8"/><stop offset=".14" stop-color="#65ff92"/><stop offset=".7" stop-color="#94ff63"/><stop offset="1" stop-color="#c7ff30"/></linearGradient><linearGradient id="h110" x1="0" y1="0" x2="0" y2="1"><stop offset="0" stop-color="#41ffb6"/><stop offset=".14" stop-color="#69ff8e"/><stop offset=".7" stop-color="#96ff61"/><stop offset="1" stop-color="#c7ff30"/></linearGradient><linearGradient id="h111" x1="0" y1="0" x2="0" y2="1"><stop offset="0" stop-color="#43ffb3"/><stop offset=".14" stop-color="#6cff8a"/><stop offset=".7" stop-color="#98ff5f"/><stop offset="1" stop-color="#c7ff30"/></linearGradient><linearGradient id="h112" x1="0" y1="0" x2="0" y2="1"><stop offset="0" stop-color="#45ffb1"/><stop offset=".14" stop-color="#6fff88"/><stop offset=".7" stop-color="#9aff5d"/><stop offset="1" stop-color="#c7ff30"/></linearGradient><linearGradient id="h113" x1="0" y1="0" x2="0" y2="1"><stop offset="0" stop-color="#47ffb0"/><stop offset=".14" stop-color="#71ff86"/><stop offset=".7" stop-color="#9bff5c"/><stop offset="1" stop-color="#c7ff30"/></linearGradient><linearGradient id="h114" x1="0" y1="0" x2="0" y2="1"><stop offset="0" stop-color="#47ffb0"/><stop offset=".14" stop-color="#72ff85"/><stop offset=".7" stop-color="#9cff5b"/><stop offset="1" stop-color="#c7ff30"/></linearGradient><linearGradient id="h115" x1="0" y1="0" x2="0" y2="1"><stop offset="0" stop-color="#47ffaf"/><stop offset=".14" stop-color="#72ff85"/><stop offset=".7" stop-color="#9cff5b"/><stop offset="1" stop-color="#c7ff30"/></linearGradient><linearGradient id="h116" x1="0" y1="0" x2="0" y2="1"><stop offset="0" stop-color="#2fffc7"/><stop offset=".14" stop-color="#68ff8f"/><stop offset=".22" stop-color="#78ff7f"/><stop offset=".7" stop-color="#9cff5b"/><stop offset="1" stop-color="#c7ff30"/></linearGradient><linearGradient id="h117" x1="0" y1="0" x2="0" y2="1"><stop offset="0" stop-color="#15ffe1"/><stop offset=".14" stop-color="#5aff9d"/><stop offset=".22" stop-color="#78ff7f"/><stop offset=".7" stop-color="#9cff5b"/><stop offset="1" stop-color="#c7ff30"/></linearGradient><linearGradient id="h118" x1="0" y1="0" x2="0" y2="1"><stop offset="0" stop-color="#00e1fb"/><stop offset=".04" stop-color="#12fce5"/><stop offset=".14" stop-color="#49ffae"/><stop offset=".22" stop-color="#69ff8e"/><stop offset=".24" stop-color="#75ff81"/><stop offset=".34" stop-color="#80ff77"/><stop offset=".7" stop-color="#9cff5b"/><stop offset="1" stop-color="#c7ff30"/></linearGradient><linearGradient id="h119" x1="0" y1="0" x2="0" y2="1"><stop offset="0" stop-color="#00c2ff"/><stop offset=".04" stop-color="#00dffc"/><stop offset=".08" stop-color="#12fce4"/><stop offset=".16" stop-color="#3effb9"/><stop offset=".24" stop-color="#64ff93"/><stop offset=".28" stop-color="#7cff7b"/><stop offset=".7" stop-color="#9cff5b"/><stop offset="1" stop-color="#c7ff30"/></linearGradient><linearGradient id="h120" x1="0" y1="0" x2="0" y2="1"><stop offset="0" stop-color="#00b6ff"/><stop offset=".04" stop-color="#00d3ff"/><stop offset=".06" stop-color="#00e1fa"/><stop offset=".1" stop-color="#15ffe2"/><stop offset=".16" stop-color="#34ffc3"/><stop offset=".26" stop-color="#61ff96"/><stop offset=".3" stop-color="#7dff7a"/><stop offset=".7" stop-color="#9cff5b"/><stop offset="1" stop-color="#c7ff30"/></linearGradient><linearGradient id="h121" x1="0" y1="0" x2="0" y2="1"><stop offset="0" stop-color="#00b5ff"/><stop offset=".06" stop-color="#00dffc"/><stop offset=".1" stop-color="#12fce5"/><stop offset=".16" stop-color="#2fffc7"/><stop offset=".28" stop-color="#61ff96"/><stop offset=".32" stop-color="#7aff7d"/><stop offset=".38" stop-color="#83ff74"/><stop offset=".7" stop-color="#9cff5b"/><stop offset="1" stop-color="#c7ff30"/></linearGradient><linearGradient id="h122" x1="0" y1="0" x2="0" y2="1"><stop offset="0" stop-color="#00b5ff"/><stop offset=".06" stop-color="#00defd"/><stop offset=".08" stop-color="#05ebf2"/><stop offset=".1" stop-color="#10f9e7"/><stop offset=".14" stop-color="#25ffd2"/><stop offset=".3" stop-color="#61ff96"/><stop offset=".36" stop-color="#81ff75"/><stop offset=".7" stop-color="#9cff5b"/><stop offset="1" stop-color="#c7ff30"/></linearGradient><linearGradient id="h123" x1="0" y1="0" x2="0" y2="1"><stop offset="0" stop-color="#00b5ff"/><stop offset=".06" stop-color="#00dcfe"/><stop offset=".08" stop-color="#03e9f4"/><stop offset=".12" stop-color="#19ffde"/><stop offset=".34" stop-color="#6aff8c"/><stop offset=".38" stop-color="#83ff74"/><stop offset=".7" stop-color="#9cff5b"/><stop offset="1" stop-color="#c7ff30"/></linearGradient><linearGradient id="h124" x1="0" y1="0" x2="0" y2="1"><stop offset="0" stop-color="#00b4ff"/><stop offset=".06" stop-color="#00dbff"/><stop offset=".08" stop-color="#02e8f5"/><stop offset=".12" stop-color="#17ffe0"/><stop offset=".34" stop-color="#63ff94"/><stop offset=".38" stop-color="#75ff82"/><stop offset=".4" stop-color="#84ff73"/><stop offset=".7" stop-color="#9cff5b"/><stop offset="1" stop-color="#c7ff30"/></linearGradient><linearGradient id="h125" x1="0" y1="0" x2="0" y2="1"><stop offset="0" stop-color="#00b4ff"/><stop offset=".06" stop-color="#00daff"/><stop offset=".08" stop-color="#01e7f5"/><stop offset=".12" stop-color="#17ffe0"/><stop offset=".34" stop-color="#62ff94"/><stop offset=".38" stop-color="#75ff82"/><stop offset=".4" stop-color="#84ff73"/><stop offset=".7" stop-color="#9cff5b"/><stop offset="1" stop-color="#c7ff30"/></linearGradient><linearGradient id="h126" x1="0" y1="0" x2="0" y2="1"><stop offset="0" stop-color="#00b2ff"/><stop offset=".06" stop-color="#00d9ff"/><stop offset=".08" stop-color="#00e6f6"/><stop offset=".12" stop-color="#16ffe1"/><stop offset=".34" stop-color="#62ff95"/><stop offset=".38" stop-color="#75ff82"/><stop offset=".4" stop-color="#84ff73"/><stop offset=".7" stop-color="#9cff5b"/><stop offset="1" stop-color="#c7ff30"/></linearGradient><linearGradient id="h127" x1="0" y1="0" x2="0" y2="1"><stop offset="0" stop-color="#00b0ff"/><stop offset=".06" stop-color="#00d7ff"/><stop offset=".08" stop-color="#00e4f8"/><stop offset=".12" stop-color="#14ffe2"/><stop offset=".34" stop-color="#62ff95"/><stop offset=".38" stop-color="#75ff82"/><stop offset=".4" stop-color="#84ff73"/><stop offset=".7" stop-color="#9cff5b"/><stop offset="1" stop-color="#c7ff30"/></linearGradient><linearGradient id="h128" x1="0" y1="0" x2="0" y2="1"><stop offset="0" stop-color="#00aeff"/><stop offset=".06" stop-color="#00d5ff"/><stop offset=".08" stop-color="#00e2f9"/><stop offset=".12" stop-color="#13fde4"/><stop offset=".34" stop-color="#61ff96"/><stop offset=".38" stop-color="#75ff82"/><stop offset=".4" stop-color="#84ff73"/><stop offset=".7" stop-color="#9cff5b"/><stop offset="1" stop-color="#c7ff30"/></linearGradient><linearGradient id="jet" x1="0" y1="1" x2="0" y2="0"><stop offset="0.000" stop-color="#000080"/><stop offset="0.025" stop-color="#00009c"/><stop offset="0.050" stop-color="#0000b9"/><stop offset="0.075" stop-color="#0000d6"/><stop offset="0.100" stop-color="#0000f3"/><stop offset="0.125" stop-color="#0000ff"/><stop offset="0.150" stop-color="#0019ff"/><stop offset="0.175" stop-color="#0033ff"/><stop offset="0.200" stop-color="#004dff"/><stop offset="0.225" stop-color="#0066ff"/><stop offset="0.250" stop-color="#0080ff"/><stop offset="0.275" stop-color="#0099ff"/><stop offset="0.300" stop-color="#00b2ff"/><stop offset="0.325" stop-color="#00ccff"/><stop offset="0.350" stop-color="#00e5f7"/><stop offset="0.375" stop-color="#15ffe2"/><stop offset="0.400" stop-color="#29ffce"/><stop offset="0.425" stop-color="#3effb9"/><stop offset="0.450" stop-color="#52ffa5"/><stop offset="0.475" stop-color="#67ff90"/><stop offset="0.500" stop-color="#7bff7b"/><stop offset="0.525" stop-color="#90ff67"/><stop offset="0.550" stop-color="#a5ff52"/><stop offset="0.575" stop-color="#b9ff3e"/><stop offset="0.600" stop-color="#ceff29"/><stop offset="0.625" stop-color="#e2ff15"/><stop offset="0.650" stop-color="#f7f600"/><stop offset="0.675" stop-color="#ffde00"/><stop offset="0.700" stop-color="#ffc600"/><stop offset="0.725" stop-color="#ffaf00"/><stop offset="0.750" stop-color="#ff9700"/><stop offset="0.775" stop-color="#ff8000"/><stop offset="0.800" stop-color="#ff6800"/><stop offset="0.825" stop-color="#ff5000"/><stop offset="0.850" stop-color="#ff3900"/><stop offset="0.875" stop-color="#ff2100"/><stop offset="0.900" stop-color="#f30900"/><stop offset="0.925" stop-color="#d60000"/><stop offset="0.950" stop-color="#b90000"/><stop offset="0.975" stop-color="#9c0000"/><stop offset="1.000" stop-color="#800000"/></linearGradient></defs><rect width="2000" height="1100" fill="#fff"/><text x="1000" y="41.2" font-size="24.10" text-anchor="middle" fill="#000" id="sup">BAS-RBM Relativistic Electron Forecast, issued at 23:10 UT, 14 October 2019</text>
<text x="204.5" y="92.3" font-size="24.08" text-anchor="start" fill="#000" id="t1">&gt;2.0 MeV Electron Flux at 88<tspan dx="3" dy="-9.4" font-size="16.5">∘</tspan><tspan dy="9.4" dx="3"> </tspan>pitch angle ( cm<tspan dy="-9.6" font-size="16.80">−2</tspan><tspan dy="9.6" font-size="24.00"> </tspan>s<tspan dy="-9.6" font-size="16.80">−1</tspan><tspan dy="9.6" font-size="24.00"> </tspan>sr<tspan dy="-9.6" font-size="16.80">−1</tspan><tspan dy="9.6" font-size="24.00"> </tspan>)</text>
<rect x="200" y="253.3" width="193.5" height="201.6" fill="url(#h0)"/>
<rect x="393" y="253.3" width="3.5" height="201.6" fill="url(#h1)"/>
<rect x="396" y="253.3" width="3.5" height="201.6" fill="url(#h2)"/>
<rect x="399" y="253.3" width="3.5" height="201.6" fill="url(#h3)"/>
<rect x="402" y="253.3" width="3.5" height="201.6" fill="url(#h4)"/>
<rect x="405" y="253.3" width="509" height="201.6" fill="url(#h5)"/>
<rect x="200" y="167.6" width="4.5" height="86.2" fill="url(#h6)"/>
<rect x="204" y="167.6" width="4.5" height="86.2" fill="url(#h7)"/>
<rect x="208" y="167.6" width="4.5" height="86.2" fill="url(#h8)"/>
<rect x="212" y="167.6" width="4.5" height="86.2" fill="url(#h9)"/>
<rect x="216" y="167.6" width="4.5" height="86.2" fill="url(#h10)"/>
<rect x="220" y="167.6" width="4.5" height="86.2" fill="url(#h11)"/>
<rect x="224" y="167.6" width="4.5" height="86.2" fill="url(#h12)"/>
<rect x="228" y="167.6" width="4.5" height="86.2" fill="url(#h13)"/>
<rect x="232" y="167.6" width="4.5" height="86.2" fill="url(#h14)"/>
<rect x="236" y="167.6" width="4.5" height="86.2" fill="url(#h15)"/>
<rect x="240" y="167.6" width="4.5" height="86.2" fill="url(#h16)"/>
<rect x="244" y="167.6" width="2" height="86.2" fill="url(#h17)"/>
<rect x="245.5" y="167.6" width="2" height="86.2" fill="url(#h18)"/>
<rect x="247" y="167.6" width="2" height="86.2" fill="url(#h19)"/>
<rect x="248.5" y="167.6" width="2" height="86.2" fill="url(#h20)"/>
<rect x="250" y="167.6" width="2" height="86.2" fill="url(#h21)"/>
<rect x="251.5" y="167.6" width="2" height="86.2" fill="url(#h22)"/>
<rect x="253" y="167.6" width="2" height="86.2" fill="url(#h23)"/>
<rect x="254.5" y="167.6" width="2" height="86.2" fill="url(#h24)"/>
<rect x="256" y="167.6" width="2" height="86.2" fill="url(#h25)"/>
<rect x="257.5" y="167.6" width="2" height="86.2" fill="url(#h26)"/>
<rect x="259" y="167.6" width="2" height="86.2" fill="url(#h27)"/>
<rect x="260.5" y="167.6" width="2" height="86.2" fill="url(#h28)"/>
<rect x="262" y="167.6" width="2" height="86.2" fill="url(#h29)"/>
<rect x="263.5" y="167.6" width="2" height="86.2" fill="url(#h30)"/>
<rect x="265" y="167.6" width="2" height="86.2" fill="url(#h31)"/>
<rect x="266.5" y="167.6" width="2" height="86.2" fill="url(#h32)"/>
<rect x="268" y="167.6" width="2" height="86.2" fill="url(#h33)"/>
<rect x="269.5" y="167.6" width="2" height="86.2" fill="url(#h34)"/>
<rect x="271" y="167.6" width="2" height="86.2" fill="url(#h35)"/>
<rect x="272.5" y="167.6" width="2" height="86.2" fill="url(#h36)"/>
<rect x="274" y="167.6" width="2" height="86.2" fill="url(#h37)"/>
<rect x="275.5" y="167.6" width="2" height="86.2" fill="url(#h38)"/>
<rect x="277" y="167.6" width="2" height="86.2" fill="url(#h39)"/>
<rect x="278.5" y="167.6" width="2" height="86.2" fill="url(#h40)"/>
<rect x="280" y="167.6" width="2" height="86.2" fill="url(#h41)"/>
<rect x="281.5" y="167.6" width="2" height="86.2" fill="url(#h42)"/>
<rect x="283" y="167.6" width="2" height="86.2" fill="url(#h43)"/>
<rect x="284.5" y="167.6" width="2" height="86.2" fill="url(#h44)"/>
<rect x="286" y="167.6" width="2" height="86.2" fill="url(#h45)"/>
<rect x="287.5" y="167.6" width="2" height="86.2" fill="url(#h46)"/>
<rect x="289" y="167.6" width="2" height="86.2" fill="url(#h47)"/>
<rect x="290.5" y="167.6" width="4.5" height="86.2" fill="url(#h48)"/>
<rect x="294.5" y="167.6" width="4.5" height="86.2" fill="url(#h49)"/>
<rect x="298.5" y="167.6" width="4.5" height="86.2" fill="url(#h50)"/>
<rect x="302.5" y="167.6" width="4.5" height="86.2" fill="url(#h51)"/>
<rect x="306.5" y="167.6" width="4.5" height="86.2" fill="url(#h52)"/>
<rect x="310.5" y="167.6" width="4.5" height="86.2" fill="url(#h53)"/>
<rect x="314.5" y="167.6" width="4.5" height="86.2" fill="url(#h54)"/>
<rect x="318.5" y="167.6" width="4.5" height="86.2" fill="url(#h55)"/>
<rect x="322.5" y="167.6" width="4.5" height="86.2" fill="url(#h56)"/>
<rect x="326.5" y="167.6" width="4.5" height="86.2" fill="url(#h57)"/>
<rect x="330.5" y="167.6" width="4.5" height="86.2" fill="url(#h58)"/>
<rect x="334.5" y="167.6" width="4.5" height="86.2" fill="url(#h59)"/>
<rect x="338.5" y="167.6" width="4.5" height="86.2" fill="url(#h60)"/>
<rect x="342.5" y="167.6" width="4.5" height="86.2" fill="url(#h61)"/>
<rect x="346.5" y="167.6" width="4.5" height="86.2" fill="url(#h62)"/>
<rect x="350.5" y="167.6" width="4.5" height="86.2" fill="url(#h63)"/>
<rect x="354.5" y="167.6" width="4.5" height="86.2" fill="url(#h64)"/>
<rect x="358.5" y="167.6" width="4.5" height="86.2" fill="url(#h65)"/>
<rect x="362.5" y="167.6" width="4.5" height="86.2" fill="url(#h66)"/>
<rect x="366.5" y="167.6" width="4.5" height="86.2" fill="url(#h67)"/>
<rect x="370.5" y="167.6" width="4.5" height="86.2" fill="url(#h68)"/>
<rect x="374.5" y="167.6" width="4.5" height="86.2" fill="url(#h69)"/>
<rect x="378.5" y="167.6" width="4.5" height="86.2" fill="url(#h70)"/>
<rect x="382.5" y="167.6" width="4.5" height="86.2" fill="url(#h70)"/>
<rect x="386.5" y="167.6" width="4.5" height="86.2" fill="url(#h70)"/>
<rect x="390.5" y="167.6" width="4.5" height="86.2" fill="url(#h70)"/>
<rect x="394.5" y="167.6" width="4.5" height="86.2" fill="url(#h71)"/>
<rect x="398.5" y="167.6" width="4.5" height="86.2" fill="url(#h72)"/>
<rect x="402.5" y="167.6" width="4.5" height="86.2" fill="url(#h73)"/>
<rect x="406.5" y="167.6" width="4.5" height="86.2" fill="url(#h74)"/>
<rect x="410.5" y="167.6" width="4.5" height="86.2" fill="url(#h75)"/>
<rect x="414.5" y="167.6" width="4.5" height="86.2" fill="url(#h76)"/>
<rect x="418.5" y="167.6" width="4.5" height="86.2" fill="url(#h77)"/>
<rect x="422.5" y="167.6" width="4.5" height="86.2" fill="url(#h78)"/>
<rect x="426.5" y="167.6" width="4.5" height="86.2" fill="url(#h79)"/>
<rect x="430.5" y="167.6" width="4.5" height="86.2" fill="url(#h80)"/>
<rect x="434.5" y="167.6" width="4.5" height="86.2" fill="url(#h81)"/>
<rect x="438.5" y="167.6" width="4.5" height="86.2" fill="url(#h82)"/>
<rect x="442.5" y="167.6" width="4.5" height="86.2" fill="url(#h83)"/>
<rect x="446.5" y="167.6" width="4.5" height="86.2" fill="url(#h84)"/>
<rect x="450.5" y="167.6" width="4.5" height="86.2" fill="url(#h85)"/>
<rect x="454.5" y="167.6" width="4.5" height="86.2" fill="url(#h86)"/>
<rect x="458.5" y="167.6" width="4.5" height="86.2" fill="url(#h87)"/>
<rect x="462.5" y="167.6" width="4.5" height="86.2" fill="url(#h88)"/>
<rect x="466.5" y="167.6" width="4.5" height="86.2" fill="url(#h89)"/>
<rect x="470.5" y="167.6" width="4.5" height="86.2" fill="url(#h90)"/>
<rect x="474.5" y="167.6" width="4.5" height="86.2" fill="url(#h90)"/>
<rect x="478.5" y="167.6" width="4.5" height="86.2" fill="url(#h90)"/>
<rect x="482.5" y="167.6" width="4.5" height="86.2" fill="url(#h90)"/>
<rect x="486.5" y="167.6" width="4.5" height="86.2" fill="url(#h90)"/>
<rect x="490.5" y="167.6" width="4.5" height="86.2" fill="url(#h90)"/>
<rect x="494.5" y="167.6" width="4.5" height="86.2" fill="url(#h90)"/>
<rect x="498.5" y="167.6" width="4.5" height="86.2" fill="url(#h90)"/>
<rect x="502.5" y="167.6" width="4.5" height="86.2" fill="url(#h90)"/>
<rect x="506.5" y="167.6" width="4.5" height="86.2" fill="url(#h90)"/>
<rect x="510.5" y="167.6" width="4.5" height="86.2" fill="url(#h90)"/>
<rect x="514.5" y="167.6" width="4.5" height="86.2" fill="url(#h90)"/>
<rect x="518.5" y="167.6" width="4.5" height="86.2" fill="url(#h90)"/>
<rect x="522.5" y="167.6" width="4.5" height="86.2" fill="url(#h90)"/>
<rect x="526.5" y="167.6" width="4.5" height="86.2" fill="url(#h90)"/>
<rect x="530.5" y="167.6" width="4.5" height="86.2" fill="url(#h90)"/>
<rect x="534.5" y="167.6" width="4.5" height="86.2" fill="url(#h90)"/>
<rect x="538.5" y="167.6" width="4.5" height="86.2" fill="url(#h91)"/>
<rect x="542.5" y="167.6" width="4.5" height="86.2" fill="url(#h92)"/>
<rect x="546.5" y="167.6" width="4.5" height="86.2" fill="url(#h93)"/>
<rect x="550.5" y="167.6" width="4.5" height="86.2" fill="url(#h94)"/>
<rect x="554.5" y="167.6" width="4.5" height="86.2" fill="url(#h95)"/>
<rect x="558.5" y="167.6" width="4.5" height="86.2" fill="url(#h96)"/>
<rect x="562.5" y="167.6" width="6.5" height="86.2" fill="url(#h97)"/>
<rect x="568.5" y="167.6" width="6.5" height="86.2" fill="url(#h98)"/>
<rect x="574.5" y="167.6" width="6.5" height="86.2" fill="url(#h99)"/>
<rect x="580.5" y="167.6" width="6.5" height="86.2" fill="url(#h100)"/>
<rect x="586.5" y="167.6" width="6.5" height="86.2" fill="url(#h101)"/>
<rect x="592.5" y="167.6" width="6.5" height="86.2" fill="url(#h102)"/>
<rect x="598.5" y="167.6" width="6.5" height="86.2" fill="url(#h103)"/>
<rect x="604.5" y="167.6" width="6.5" height="86.2" fill="url(#h104)"/>
<rect x="610.5" y="167.6" width="6.5" height="86.2" fill="url(#h105)"/>
<rect x="616.5" y="167.6" width="6.5" height="86.2" fill="url(#h106)"/>
<rect x="622.5" y="167.6" width="6.5" height="86.2" fill="url(#h107)"/>
<rect x="628.5" y="167.6" width="6.5" height="86.2" fill="url(#h108)"/>
<rect x="634.5" y="167.6" width="6.5" height="86.2" fill="url(#h109)"/>
<rect x="640.5" y="167.6" width="6.5" height="86.2" fill="url(#h110)"/>
<rect x="646.5" y="167.6" width="6.5" height="86.2" fill="url(#h111)"/>
<rect x="652.5" y="167.6" width="6.5" height="86.2" fill="url(#h112)"/>
<rect x="658.5" y="167.6" width="6.5" height="86.2" fill="url(#h113)"/>
<rect x="664.5" y="167.6" width="6.5" height="86.2" fill="url(#h114)"/>
<rect x="670.5" y="167.6" width="6.5" height="86.2" fill="url(#h115)"/>
<rect x="676.5" y="167.6" width="6.5" height="86.2" fill="url(#h115)"/>
<rect x="682.5" y="167.6" width="6.5" height="86.2" fill="url(#h115)"/>
<rect x="688.5" y="167.6" width="6.5" height="86.2" fill="url(#h115)"/>
<rect x="694.5" y="167.6" width="30.5" height="86.2" fill="url(#h115)"/>
<rect x="724.5" y="167.6" width="30.5" height="86.2" fill="url(#h115)"/>
<rect x="754.5" y="167.6" width="30.5" height="86.2" fill="url(#h115)"/>
<rect x="784.5" y="167.6" width="4.5" height="86.2" fill="url(#h115)"/>
<rect x="788.5" y="167.6" width="4.5" height="86.2" fill="url(#h115)"/>
<rect x="792.5" y="167.6" width="4.5" height="86.2" fill="url(#h115)"/>
<rect x="796.5" y="167.6" width="4.5" height="86.2" fill="url(#h116)"/>
<rect x="800.5" y="167.6" width="4.5" height="86.2" fill="url(#h117)"/>
<rect x="804.5" y="167.6" width="4.5" height="86.2" fill="url(#h118)"/>
<rect x="808.5" y="167.6" width="4.5" height="86.2" fill="url(#h119)"/>
<rect x="812.5" y="167.6" width="4.5" height="86.2" fill="url(#h120)"/>
<rect x="816.5" y="167.6" width="4.5" height="86.2" fill="url(#h121)"/>
<rect x="820.5" y="167.6" width="4.5" height="86.2" fill="url(#h122)"/>
<rect x="824.5" y="167.6" width="4.5" height="86.2" fill="url(#h123)"/>
<rect x="828.5" y="167.6" width="4.5" height="86.2" fill="url(#h124)"/>
<rect x="832.5" y="167.6" width="4.5" height="86.2" fill="url(#h124)"/>
<rect x="836.5" y="167.6" width="4.5" height="86.2" fill="url(#h125)"/>
<rect x="840.5" y="167.6" width="30.5" height="86.2" fill="url(#h126)"/>
<rect x="870.5" y="167.6" width="30.5" height="86.2" fill="url(#h127)"/>
<rect x="900.5" y="167.6" width="13.5" height="86.2" fill="url(#h128)"/>
<rect x="200.1" y="110.1" width="713.9" height="57.5" fill="#d3d3d3"/>
<path d="M241.2 110H244.9V166L244.2 170H243L241.3 147Z" fill="#fff"/>
<path d="M247.05 110V148.5" stroke="#fff" stroke-width="2.3" fill="none"/>
<path d="M321.2 110V119.5" stroke="#fff" stroke-width="1.8" fill="none"/>
<line x1="228.8" y1="111" x2="228.8" y2="119.8" stroke="#000" stroke-width="4.1"/>
<line x1="273.4" y1="111" x2="273.4" y2="119.8" stroke="#f00" stroke-width="4.1"/>
<text x="228.8" y="138.9" font-size="13.60" text-anchor="middle" fill="#000">M</text>
<text x="273.4" y="138.9" font-size="13.60" text-anchor="middle" fill="#f00">N</text>
<line x1="318" y1="111" x2="318" y2="119.8" stroke="#000" stroke-width="4.1"/>
<line x1="362.6" y1="111" x2="362.6" y2="119.8" stroke="#f00" stroke-width="4.1"/>
<text x="318" y="138.9" font-size="13.60" text-anchor="middle" fill="#000">M</text>
<text x="362.6" y="138.9" font-size="13.60" text-anchor="middle" fill="#f00">N</text>
<line x1="407.1" y1="111" x2="407.1" y2="119.8" stroke="#000" stroke-width="4.1"/>
<line x1="451.7" y1="111" x2="451.7" y2="119.8" stroke="#f00" stroke-width="4.1"/>
<text x="407.1" y="138.9" font-size="13.60" text-anchor="middle" fill="#000">M</text>
<text x="451.7" y="138.9" font-size="13.60" text-anchor="middle" fill="#f00">N</text>
<line x1="496.3" y1="111" x2="496.3" y2="119.8" stroke="#000" stroke-width="4.1"/>
<line x1="540.9" y1="111" x2="540.9" y2="119.8" stroke="#f00" stroke-width="4.1"/>
<text x="496.3" y="138.9" font-size="13.60" text-anchor="middle" fill="#000">M</text>
<text x="540.9" y="138.9" font-size="13.60" text-anchor="middle" fill="#f00">N</text>
<line x1="585.5" y1="111" x2="585.5" y2="119.8" stroke="#000" stroke-width="4.1"/>
<line x1="630.1" y1="111" x2="630.1" y2="119.8" stroke="#f00" stroke-width="4.1"/>
<text x="585.5" y="138.9" font-size="13.60" text-anchor="middle" fill="#000">M</text>
<text x="630.1" y="138.9" font-size="13.60" text-anchor="middle" fill="#f00">N</text>
<line x1="674.7" y1="111" x2="674.7" y2="119.8" stroke="#000" stroke-width="4.1"/>
<line x1="719.2" y1="111" x2="719.2" y2="119.8" stroke="#f00" stroke-width="4.1"/>
<text x="674.7" y="138.9" font-size="13.60" text-anchor="middle" fill="#000">M</text>
<text x="719.2" y="138.9" font-size="13.60" text-anchor="middle" fill="#f00">N</text>
<line x1="763.8" y1="111" x2="763.8" y2="119.8" stroke="#000" stroke-width="4.1"/>
<line x1="808.4" y1="111" x2="808.4" y2="119.8" stroke="#f00" stroke-width="4.1"/>
<text x="763.8" y="138.9" font-size="13.60" text-anchor="middle" fill="#000">M</text>
<text x="808.4" y="138.9" font-size="13.60" text-anchor="middle" fill="#f00">N</text>
<path d="M200.1 217.8L201.6 216.8L203.1 216.3L204.6 216L206.1 215.8L207.6 215.5L209.1 214.6L210.6 212.9L212.1 210.8L213.6 208.3L215.1 205.8L216.6 203.3L218.1 200.5L219.6 197.9L221.1 196.7L222.6 196.7L224.1 197.6L225.6 198.3L227.1 198.9L228.6 199.5L230.1 199.1L231.6 198.5L233.1 197.8L234.6 196.9L236.1 196.3L237.6 197.5L239.1 199.8L240.6 202.6L242.1 205.1L243.6 207.6L245.1 210.2L246.6 212.5L248.1 214.2L249.6 215.3L251.1 215.7L252.6 215.9L254.1 216.2L255.6 216.7L257.1 217.5L258.6 218.7L260.1 220.5L261.6 222.2L263.1 224L264.6 225.8L266.1 227.6L267.6 228.8L269.1 229.8L270.6 230.2L272.1 230.4L273.6 230.6L275.1 230.3L276.6 230.1L278.1 229.5L279.6 228.4L281.1 227.1L282.6 225.3L284.1 223.5L285.6 221.7L287.1 220L288.6 218.4L290.1 217.1L291.6 216.5L293.1 216.1L294.6 215.9L296.1 215.7L297.6 215L299.1 213.7L300.6 212L302.1 209.4L303.6 206.9L305.1 204.4L306.6 201.8L308.1 198.9L309.6 197.2L311.1 196.3L312.6 197.2L314.1 198L315.6 198.7L317.1 199.3L318.6 199.4L320.1 198.8L321.6 198.2L323.1 197.3L324.6 196.5L326.1 197L327.6 198.5L329.1 201.3L330.6 204L332.1 206.5L333.6 209L335.1 211.6L336.6 213.4L338.1 214.9L339.6 215.6L341.1 215.8L342.6 216L344.1 216.5L345.6 216.9L347.1 218.2L348.6 219.7L350.1 221.5L351.6 223.2L353.1 225L354.6 226.8L356.1 228.3L357.6 229.3L359.1 230.1L360.6 230.3L362.1 230.5L363.6 230.4L365.1 230.2L366.6 230L368.1 228.9L369.6 227.9L371.1 226.1L372.6 224.3L374.1 222.5L375.6 220.8L377.1 219L378.6 217.7L380.1 216.7L381.6 216.3L383.1 215.9L384.6 215.7L386.1 215.4L387.6 214.5L389.1 212.8L390.6 210.6L392.1 208L393.6 205.5L395.1 203L396.6 200.2L398.1 197.7L399.6 196.5L401.1 196.8L402.6 197.7L404.1 198.4L405.6 199L407.1 199.6L408.6 199L410.1 198.4L411.6 197.7L413.1 196.9L414.6 196.5L416.1 197.7L417.6 200.1L419.1 202.9L420.6 205.4L422.1 207.9L423.6 210.4L425.1 212.7L426.6 214.4L428.1 215.4L429.6 215.7L431.1 215.9L432.6 216.3L434.1 216.7L435.6 217.6L437.1 218.9L438.6 220.7L440.1 222.4L441.6 224.2L443.1 226L444.6 227.8L446.1 228.9L447.6 229.9L449.1 230.2L450.6 230.4L452.1 230.5L453.6 230.3L455.1 230.1L456.6 229.4L458.1 228.3L459.6 226.9L461.1 225.1L462.6 223.3L464.1 221.5L465.6 219.8L467.1 218.2L468.6 217L470.1 216.5L471.6 216.1L473.1 215.8L474.6 215.6L476.1 214.9L477.6 213.5L479.1 211.7L480.6 209.2L482.1 206.7L483.6 204.1L485.1 201.5L486.6 198.6L488.1 197.1L489.6 196.4L491.1 197.3L492.6 198.1L494.1 198.7L495.6 199.3L497.1 199.3L498.6 198.7L500.1 198.1L501.6 197.2L503.1 196.4L504.6 197.1L506.1 198.8L507.6 201.6L509.1 204.3L510.6 206.8L512.1 209.3L513.6 211.8L515.1 213.6L516.6 215L518.1 215.6L519.6 215.8L521.1 216.1L522.6 216.5L524.1 217L525.6 218.3L527.1 219.9L528.6 221.6L530.1 223.4L531.6 225.2L533.1 227L534.6 228.4L536.1 229.4L537.6 230.1L539.1 230.3L540.6 230.6L542.1 230.4L543.6 230.2L545.1 229.9L546.6 228.8L548.1 227.7L549.6 225.9L551.1 224.1L552.6 222.3L554.1 220.6L555.6 218.8L557.1 217.5L558.6 216.7L560.1 216.2L561.6 215.9L563.1 215.7L564.6 215.3L566.1 214.3L567.6 212.6L569.1 210.3L570.6 207.8L572.1 205.3L573.6 202.7L575.1 199.9L576.6 197.6L578.1 196.4L579.6 196.9L581.1 197.7L582.6 198.5L584.1 199.1L585.6 199.6L587.1 199L588.6 198.4L590.1 197.6L591.6 196.8L593.1 196.6L594.6 197.8L596.1 200.3L597.6 203.1L599.1 205.7L600.6 208.2L602.1 210.7L603.6 212.9L605.1 214.6L606.6 215.4L608.1 215.8L609.6 215.9L611.1 216.3L612.6 216.7L614.1 217.7L615.6 219.1L617.1 220.9L618.6 222.6L620.1 224.4L621.6 226.2L623.1 227.9L624.6 229L626.1 230L627.6 230.2L629.1 230.5L630.6 230.5L632.1 230.3L633.6 230.1L635.1 229.3L636.6 228.2L638.1 226.7L639.6 224.9L641.1 223.1L642.6 221.4L644.1 219.6L645.6 218.1L647.1 216.9L648.6 216.4L650.1 216L651.6 215.8L653.1 215.6L654.6 214.8L656.1 213.4L657.6 211.4L659.1 208.9L660.6 206.4L662.1 203.9L663.6 201.2L665.1 198.3L666.6 196.9L668.1 196.5L669.6 197.4L671.1 198.2L672.6 198.8L674.1 199.4L675.6 199.2L677.1 198.6L678.6 198L680.1 197.1L681.6 196.3L683.1 197.3L684.6 199.1L686.1 201.9L687.6 204.5L689.1 207.1L690.6 209.6L692.1 212.1L693.6 213.8L695.1 215.1L696.6 215.7L698.1 215.9L699.6 216.1L701.1 216.6L702.6 217.2L704.1 218.4L705.6 220.1L707.1 221.8L708.6 223.6L710.1 225.4L711.6 227.2L713.1 228.5L714.6 229.6L716.1 230.1L717.6 230.4L719.1 230.6L720.6 230.4L722.1 230.2L723.6 229.8L725.1 228.7L726.6 227.5L728.1 225.7L729.6 223.9L731.1 222.1L732.6 220.4L734.1 218.7L735.6 217.4L737.1 216.6L738.6 216.2L740.1 215.9L741.6 215.7L743.1 215.2L744.6 214.1L746.1 212.4L747.6 210L749.1 207.5L750.6 205L752.1 202.4L753.6 199.6L755.1 197.5L756.6 196.3L758.1 197L759.6 197.8L761.1 198.5L762.6 199.1L764.1 199.5L765.6 198.9L767.1 198.3L768.6 197.5L770.1 196.7L771.6 196.7L773.1 197.9L774.6 200.6L776.1 203.4L777.6 205.9L779.1 208.5L780.6 211L782.1 213L783.6 214.7L785.1 215.5L786.6 215.8L788.1 216L789.6 216.4L791.1 216.8L792.6 217.9L794.1 219.3L795.6 221L797.1 222.8L798.6 224.6L800.1 226.4L801.6 228L803.1 229.1L804.6 230L806.1 230.3L807.6 230.5L809.1 230.5L810.6 230.3L812.1 230L813.6 229.2L815.1 228.1L816.6 226.5L818.1 224.7L819.6 222.9L821.1 221.2L822.6 219.4L824.1 218L825.6 216.8L827.1 216.4L828.6 216L830.1 215.8L831.6 215.6L833.1 214.8L834.6 213.2L836.1 211.2L837.6 208.6L839.1 206.1L840.6 203.6L842.1 200.9L843.6 198.1L845.1 196.8L846.6 196.6L848.1 197.5L849.6 198.3L851.1 198.9L852.6 199.4L854.1 199.2L855.6 198.6L857.1 197.9L858.6 197.1L860.1 196.2L861.6 197.4L863.1 199.4L864.6 202.2L866.1 204.8L867.6 207.3L869.1 209.8L870.6 212.3L872.1 214L873.6 215.2L875.1 215.7L876.6 215.9L878.1 216.2L879.6 216.6L881.1 217.3L882.6 218.6L884.1 220.3L885.6 222L887.1 223.8L888.6 225.6L890.1 227.4L891.6 228.6L893.1 229.7L894.6 230.2L896.1 230.4L897.6 230.6L899.1 230.4L900.6 230.1L902.1 229.6L903.6 228.6L905.1 227.3L906.6 225.5L908.1 223.7L909.6 222L911.1 220.2L912.6 218.5" fill="none" stroke="#000" stroke-width="2.2" stroke-linejoin="round" stroke-dasharray="5.9 2.4"/>
<line x1="825.2" y1="110.1" x2="825.2" y2="454.9" stroke="#1f77b4" stroke-width="2.0" stroke-dasharray="2.1 3.4"/>
<text x="888.4" y="422.7" font-size="63.50" text-anchor="start" fill="#000" transform="rotate(-90 888.4 422.7)" fill-opacity="0.115" id="fc1">Forecast</text>
<line x1="248.4" y1="454.9" x2="248.4" y2="449.9" stroke="#000" stroke-width="1.1"/>
<line x1="337.6" y1="454.9" x2="337.6" y2="449.9" stroke="#000" stroke-width="1.1"/>
<line x1="426.7" y1="454.9" x2="426.7" y2="449.9" stroke="#000" stroke-width="1.1"/>
<line x1="515.9" y1="454.9" x2="515.9" y2="449.9" stroke="#000" stroke-width="1.1"/>
<line x1="605.1" y1="454.9" x2="605.1" y2="449.9" stroke="#000" stroke-width="1.1"/>
<line x1="694.2" y1="454.9" x2="694.2" y2="449.9" stroke="#000" stroke-width="1.1"/>
<line x1="783.4" y1="454.9" x2="783.4" y2="449.9" stroke="#000" stroke-width="1.1"/>
<line x1="872.6" y1="454.9" x2="872.6" y2="449.9" stroke="#000" stroke-width="1.1"/>
<text x="195.2" y="462.1" font-size="19.44" text-anchor="end" fill="#000">2</text>
<line x1="200.1" y1="397.4" x2="205.1" y2="397.4" stroke="#000" stroke-width="1.1"/>
<line x1="914" y1="397.4" x2="909" y2="397.4" stroke="#000" stroke-width="1.1"/>
<text x="195.2" y="404.6" font-size="19.44" text-anchor="end" fill="#000">3</text>
<line x1="200.1" y1="340" x2="205.1" y2="340" stroke="#000" stroke-width="1.1"/>
<line x1="914" y1="340" x2="909" y2="340" stroke="#000" stroke-width="1.1"/>
<text x="195.2" y="347.2" font-size="19.44" text-anchor="end" fill="#000">4</text>
<line x1="200.1" y1="282.5" x2="205.1" y2="282.5" stroke="#000" stroke-width="1.1"/>
<line x1="914" y1="282.5" x2="909" y2="282.5" stroke="#000" stroke-width="1.1"/>
<text x="195.2" y="289.7" font-size="19.44" text-anchor="end" fill="#000">5</text>
<line x1="200.1" y1="225" x2="205.1" y2="225" stroke="#000" stroke-width="1.1"/>
<line x1="914" y1="225" x2="909" y2="225" stroke="#000" stroke-width="1.1"/>
<text x="195.2" y="232.2" font-size="19.44" text-anchor="end" fill="#000">6</text>
<line x1="200.1" y1="167.6" x2="205.1" y2="167.6" stroke="#000" stroke-width="1.1"/>
<line x1="914" y1="167.6" x2="909" y2="167.6" stroke="#000" stroke-width="1.1"/>
<text x="195.2" y="174.8" font-size="19.44" text-anchor="end" fill="#000">7</text>
<text x="195.2" y="118.2" font-size="19.44" text-anchor="end" fill="#000">8</text>
<path d="M200.1 110.1H914M200.1 454.9H914M200.1 110.1V454.9" fill="none" stroke="#000" stroke-width="2" stroke-linecap="square"/>
<path d="M914 110.1V454.9" fill="none" stroke="#000" stroke-width="2" stroke-linecap="square"/>
<text x="173" y="297.8" font-size="24.00" text-anchor="start" fill="#000" transform="rotate(-90 173 297.8)">L*</text>
<rect x="959" y="110.1" width="17" height="344.8" fill="url(#jet)" stroke="#000" stroke-width="2"/>
<line x1="976" y1="454.9" x2="982.6" y2="454.9" stroke="#000" stroke-width="1.1"/>
<text x="987.5" y="462.6" font-size="19.44" text-anchor="start" fill="#000">10<tspan dy="-8.1" font-size="13.61">0</tspan></text>
<line x1="976" y1="437.6" x2="981.7" y2="437.6" stroke="#000" stroke-width="0.9"/>
<line x1="976" y1="427.5" x2="981.7" y2="427.5" stroke="#000" stroke-width="0.9"/>
<line x1="976" y1="420.3" x2="981.7" y2="420.3" stroke="#000" stroke-width="0.9"/>
<line x1="976" y1="414.7" x2="981.7" y2="414.7" stroke="#000" stroke-width="0.9"/>
<line x1="976" y1="410.2" x2="981.7" y2="410.2" stroke="#000" stroke-width="0.9"/>
<line x1="976" y1="406.3" x2="981.7" y2="406.3" stroke="#000" stroke-width="0.9"/>
<line x1="976" y1="403" x2="981.7" y2="403" stroke="#000" stroke-width="0.9"/>
<line x1="976" y1="400.1" x2="981.7" y2="400.1" stroke="#000" stroke-width="0.9"/>
<line x1="976" y1="397.4" x2="982.6" y2="397.4" stroke="#000" stroke-width="1.1"/>
<text x="987.5" y="405.1" font-size="19.44" text-anchor="start" fill="#000">10<tspan dy="-8.1" font-size="13.61">1</tspan></text>
<line x1="976" y1="380.1" x2="981.7" y2="380.1" stroke="#000" stroke-width="0.9"/>
<line x1="976" y1="370" x2="981.7" y2="370" stroke="#000" stroke-width="0.9"/>
<line x1="976" y1="362.8" x2="981.7" y2="362.8" stroke="#000" stroke-width="0.9"/>
<line x1="976" y1="357.3" x2="981.7" y2="357.3" stroke="#000" stroke-width="0.9"/>
<line x1="976" y1="352.7" x2="981.7" y2="352.7" stroke="#000" stroke-width="0.9"/>
<line x1="976" y1="348.9" x2="981.7" y2="348.9" stroke="#000" stroke-width="0.9"/>
<line x1="976" y1="345.5" x2="981.7" y2="345.5" stroke="#000" stroke-width="0.9"/>
<line x1="976" y1="342.6" x2="981.7" y2="342.6" stroke="#000" stroke-width="0.9"/>
<line x1="976" y1="340" x2="982.6" y2="340" stroke="#000" stroke-width="1.1"/>
<text x="987.5" y="347.7" font-size="19.44" text-anchor="start" fill="#000">10<tspan dy="-8.1" font-size="13.61">2</tspan></text>
<line x1="976" y1="322.7" x2="981.7" y2="322.7" stroke="#000" stroke-width="0.9"/>
<line x1="976" y1="312.5" x2="981.7" y2="312.5" stroke="#000" stroke-width="0.9"/>
<line x1="976" y1="305.4" x2="981.7" y2="305.4" stroke="#000" stroke-width="0.9"/>
<line x1="976" y1="299.8" x2="981.7" y2="299.8" stroke="#000" stroke-width="0.9"/>
<line x1="976" y1="295.2" x2="981.7" y2="295.2" stroke="#000" stroke-width="0.9"/>
<line x1="976" y1="291.4" x2="981.7" y2="291.4" stroke="#000" stroke-width="0.9"/>
<line x1="976" y1="288.1" x2="981.7" y2="288.1" stroke="#000" stroke-width="0.9"/>
<line x1="976" y1="285.1" x2="981.7" y2="285.1" stroke="#000" stroke-width="0.9"/>
<line x1="976" y1="282.5" x2="982.6" y2="282.5" stroke="#000" stroke-width="1.1"/>
<text x="987.5" y="290.2" font-size="19.44" text-anchor="start" fill="#000">10<tspan dy="-8.1" font-size="13.61">3</tspan></text>
<line x1="976" y1="265.2" x2="981.7" y2="265.2" stroke="#000" stroke-width="0.9"/>
<line x1="976" y1="255.1" x2="981.7" y2="255.1" stroke="#000" stroke-width="0.9"/>
<line x1="976" y1="247.9" x2="981.7" y2="247.9" stroke="#000" stroke-width="0.9"/>
<line x1="976" y1="242.3" x2="981.7" y2="242.3" stroke="#000" stroke-width="0.9"/>
<line x1="976" y1="237.8" x2="981.7" y2="237.8" stroke="#000" stroke-width="0.9"/>
<line x1="976" y1="233.9" x2="981.7" y2="233.9" stroke="#000" stroke-width="0.9"/>
<line x1="976" y1="230.6" x2="981.7" y2="230.6" stroke="#000" stroke-width="0.9"/>
<line x1="976" y1="227.7" x2="981.7" y2="227.7" stroke="#000" stroke-width="0.9"/>
<line x1="976" y1="225" x2="982.6" y2="225" stroke="#000" stroke-width="1.1"/>
<text x="987.5" y="232.7" font-size="19.44" text-anchor="start" fill="#000">10<tspan dy="-8.1" font-size="13.61">4</tspan></text>
<line x1="976" y1="207.7" x2="981.7" y2="207.7" stroke="#000" stroke-width="0.9"/>
<line x1="976" y1="197.6" x2="981.7" y2="197.6" stroke="#000" stroke-width="0.9"/>
<line x1="976" y1="190.4" x2="981.7" y2="190.4" stroke="#000" stroke-width="0.9"/>
<line x1="976" y1="184.9" x2="981.7" y2="184.9" stroke="#000" stroke-width="0.9"/>
<line x1="976" y1="180.3" x2="981.7" y2="180.3" stroke="#000" stroke-width="0.9"/>
<line x1="976" y1="176.5" x2="981.7" y2="176.5" stroke="#000" stroke-width="0.9"/>
<line x1="976" y1="173.1" x2="981.7" y2="173.1" stroke="#000" stroke-width="0.9"/>
<line x1="976" y1="170.2" x2="981.7" y2="170.2" stroke="#000" stroke-width="0.9"/>
<line x1="976" y1="167.6" x2="982.6" y2="167.6" stroke="#000" stroke-width="1.1"/>
<text x="987.5" y="175.3" font-size="19.44" text-anchor="start" fill="#000">10<tspan dy="-8.1" font-size="13.61">5</tspan></text>
<line x1="976" y1="150.3" x2="981.7" y2="150.3" stroke="#000" stroke-width="0.9"/>
<line x1="976" y1="140.1" x2="981.7" y2="140.1" stroke="#000" stroke-width="0.9"/>
<line x1="976" y1="133" x2="981.7" y2="133" stroke="#000" stroke-width="0.9"/>
<line x1="976" y1="127.4" x2="981.7" y2="127.4" stroke="#000" stroke-width="0.9"/>
<line x1="976" y1="122.8" x2="981.7" y2="122.8" stroke="#000" stroke-width="0.9"/>
<line x1="976" y1="119" x2="981.7" y2="119" stroke="#000" stroke-width="0.9"/>
<line x1="976" y1="115.7" x2="981.7" y2="115.7" stroke="#000" stroke-width="0.9"/>
<line x1="976" y1="112.7" x2="981.7" y2="112.7" stroke="#000" stroke-width="0.9"/>
<line x1="976" y1="110.1" x2="982.6" y2="110.1" stroke="#000" stroke-width="1.1"/>
<text x="987.5" y="117.8" font-size="19.44" text-anchor="start" fill="#000">10<tspan dy="-8.1" font-size="13.61">6</tspan></text>
<rect x="825.2" y="478" width="88.8" height="343.9" fill="#d3d3d3"/>
<text x="888" y="790.6" font-size="63.50" text-anchor="start" fill="#000" transform="rotate(-90 888 790.6)" fill-opacity="0.115" id="fc2">Forecast</text>
<clipPath id="c2"><rect x="200.1" y="478" width="713.9" height="343.9"/></clipPath>
<g clip-path="url(#c2)">
<path d="M200.5 648.3L200.5 648.3L200.6 648.4L201.3 648.5L203 648.5L205.3 648.7L207.5 649.3L209.3 650.5L211.1 652.2L212.8 654.8L214.6 658.9L216.4 663.9L218 668L219.1 670.5L219.9 672.2L221 673L222.7 672.7L224.6 671.5L226.4 671L227.9 671.6L229.2 672.8L230.5 674.2L231.9 676L233.4 677.9L234.7 679L235.8 678.8L236.9 677.8L237.9 676.3L241.2 669L241.7 700L241.9 830L244.1 830L245.3 812L246.2 800.7L247.3 807L248.9 798.6L252.5 788L257.7 750.5L259.2 738.7L260.6 727.4L261.9 717L263 707.6L263.9 699.2L265 692L266.3 686.4L267.7 682.1L269.2 678.4L270.9 675L272.7 672.2L274.4 670L275.9 668.6L277.3 667.8L278.6 667.5L279.7 667.5L280.7 668L281.7 669L282.8 670.6L283.8 672.6L284.9 675L285.9 677.9L287 681.1L288 683.6L288.9 684.9L289.9 685.6L291.2 685.7L293 685L295.2 683.9L297.4 683.6L299.5 684.9L301.7 687L303.7 688.8L305.4 690.1L307.1 691.2L308.9 691.6L311.3 690.7L313.9 689.1L316.2 688.4L317.8 689.2L319 690.8L320.4 693L322.1 696.3L324 700.1L325.6 702.4L326.8 702.3L327.7 700.7L328.8 698L330.1 693.7L331.6 688.2L333 683.6L334.3 680.7L335.6 678.6L337.1 677L339.1 675.8L341.4 674.9L343.4 674L344.9 672.9L346.1 671.7L347.6 670L349.5 667.1L351.7 663.7L353.9 661L355.9 659.8L358 659.3L360.1 659L362.5 658.6L365.1 658.3L367.4 658.5L369.3 659.1L370.9 660.2L372.7 661.7L374.7 664.1L376.7 667L379 669L381.6 669.3L384.5 668.7L387.3 668.6L390.2 669.2L393.1 670.2L395.7 672L398 675.4L400.1 679.6L401.9 682.6L403.4 682.9L404.6 682L406.1 682.6L408.2 686.5L410.5 691.9L412.4 696L413.6 697.8L414.5 698.3L415.5 697.8L416.8 696L418.2 693.1L419.7 689.9L421.4 686.3L423.2 682.5L424.9 679.4L426.3 677.6L427.6 676.5L429.1 675.7L431 675.2L433.2 674.9L435.4 674L437.6 672L439.8 669.4L441.7 667L443.1 665L444.2 663.2L445.8 662L448.4 661.5L451.5 661.4L454.2 661.7L456.2 662L457.8 662.5L459.4 663.8L461.2 666.4L462.9 669.9L464.6 673L466 675.4L467.2 677.6L468.8 679.4L471 680.5L473.6 681.2L476.1 683L478.3 686.8L480.4 691.7L482.4 696L484.2 699.4L485.8 702.2L487.6 703.5L489.5 702.3L491.6 699.6L493.9 697.6L496.6 697.3L499.6 697.7L502.3 697.6L504.5 696.7L506.4 695.3L508.6 693L511.3 689.1L514.1 684.2L516.9 680.5L519.4 679.2L521.8 678.9L524.2 677.8L526.7 674.6L529.1 670.5L531.5 667L533.6 664.8L535.6 663.2L537.8 662L540.6 661.3L543.7 661L546.2 661L547.7 661.1L548.6 661.5L550 662.3L552.1 664.2L554.7 666.6L557.3 668L560 667.7L562.8 666.5L565.7 665.2L568.7 664L571.8 662.8L575 661.7L578.4 660.8L582 660.1L585.5 659.6L588.7 659.4L591.9 659.4L595 659L598.1 658L601.3 656.6L604.3 655.4L607.1 654.7L609.8 654.1L612.7 653.3L616 652.1L619.5 650.7L623.2 649.5L627.2 648.7L631.5 648.2L635.7 648L640 648.2L644.3 648.7L648.2 649L651.3 648.9L653.9 648.6L656.6 648.7L659.7 649.8L662.8 651.4L666 652.3L669.2 652L672.5 651L675.4 650.2L677.6 650.1L679.4 650.1L681.7 649.7L684.9 648.3L688.5 646.5L692.1 645L695.6 644.1L699.1 643.6L702.6 642.9L706 641.8L709.4 640.6L713 639.7L717 639.1L721.3 638.7L725.6 638.7L730 639.2L734.3 640.1L738.1 640.8L740.8 640.8L743 640.6L745.4 641.2L748.4 643.4L751.7 646.4L754.8 648.5L757.7 648.7L760.4 648L763.2 647.7L766 648.8L768.8 650.2L771.6 650.6L774.3 648.8L777 646L779.9 643.5L783.2 642.2L786.8 641.2L790.4 640.1L793.8 638.4L797.2 636.5L800.8 635.1L805.1 634.3L809.6 634L813.4 634.1L815.9 634.9L817.8 636.1L819.6 637.6L821.7 639.5L823.7 641.6L825.9 643.3L828.3 643.9L830.8 644L833.2 645L835.4 647.5L837.4 650.8L839.5 654.3L841.6 658.4L843.7 662.7L845.8 665.4L847.8 665L849.8 663.1L852 662.1L854.8 663.9L857.8 666.7L860.4 668L862.3 666.6L863.8 663.8L865.6 660.6L867.9 657L870.5 653.1L873 650.2L875.1 649.4L877.1 649.6L879.2 649.1L881.6 647L884.1 644.2L886.5 641.8L888.5 640.2L890.4 639.1L892.8 638.3L896.2 637.9L900 637.9L903.3 638.3L905.4 639.1L907 640.2L908.5 641.8L910.4 644.2L912.3 646.9L913.7 649.1L914.5 650.2L914.8 650.7L915 651" fill="none" stroke="#f00" stroke-width="2.0" stroke-linejoin="round"/>
<path d="M200.2 692L200.9 701.1L201.6 712L202.3 720.6L203 716.3L203.7 712.9L204.4 707.7L205.1 708.4L205.8 709.8L206.5 710.8L207.2 711.3L207.9 712.7L208.6 713.8L209.3 715.6L209.6 715L210 715.6L210.7 717.7L211.4 719.7L212.1 719.2L212.8 720.7L213.5 720.9L214.2 721.6L214.9 722.4L215.6 727.4L216.3 733.2L217 738.4L217.6 742.3L217.7 741.6L218.4 739.2L219.1 736.8L219.8 734.9L220 733.7L220.5 733.4L221.2 733L221.9 732.7L222.6 732.5L223.3 732.2L224 732.5L224.7 731.7L225.4 732.1L225.9 731.1L226.1 731.1L226.8 733.2L227.5 735.5L228.2 737.5L228.9 740.2L229.5 742.2L229.6 741.2L230.3 735.4L231 730L231.6 726.3L231.7 726.1L232.4 725.5L233.1 725.8L233.8 726.2L234.5 727.7L234.7 727.6L235.2 726.9L235.9 723.8L236.6 720.5L236.8 719.1L237.3 718.8L238 717.2L238.7 715.5L239.4 714.8L240.1 713.6L240.8 713.1L241.5 711.6L242.2 708.5L242.9 708.5L243 707.4L243.6 707.3L244.3 706.3L245 703.6L245.7 700.8L246.4 698.3L247.1 697.4L247.8 695.4L248.5 693.2L249.2 691.3L249.9 690.8L250.6 688.7L251.3 686.8L251.4 686.6L252 686.2L252.7 685.7L253.4 684L254.1 683L254.8 681.9L255.5 680.9L256.2 681.2L256.9 680.1L257.6 679.4L257.7 678.9L258.3 678L259 677.8L259.7 676.5L260.4 675.3L261.1 674.8L261.5 674.5L261.8 674.6L262.5 673.8L263.2 671.9L263.9 671.9L264.6 671.6L265.3 671.5L266 670L266.1 671.5L266.7 669.8L267.4 669.8L268.1 669.2L268.8 668.5L269.5 668.7L270.2 667.9L270.9 666.1L271.3 665.8L271.6 666.9L272.3 668.9L273 667.9L273.7 668.4L274.4 669.7L275.1 670.1L275.8 669.8L276.5 669.3L277.2 669.2L277.9 670.1L278.6 671.2L279.3 670.9L280 671.5L280.7 673.3L281.4 674.1L282.1 674.7L282.8 675.6L283.5 675.9L284.2 677.4L284.9 678.9L285.6 680.2L286.3 680.3L287 680.7L287.7 681.5L288.4 682.4L289.1 682.9L289.8 683.3L290.5 682.7L291.2 682L291.9 683.5L292.6 684L293.3 684.7L294 684.9L294.7 685L295.4 687L296.1 687.9L296.8 687.8L297.4 688.8L297.5 689.1L298.2 690.3L298.9 692.4L299.6 692.7L300.3 692.5L301 693.6L301.7 694.3L302.4 695.8L302.6 696.2L303.1 698.1L303.8 700.2L304.5 703L305.2 705.2L305.8 707.8L305.9 707L306.6 702.9L307.3 700.1L307.9 696.7L308 698.2L308.7 700.8L309.4 703.4L310.1 705.8L310.8 708.1L311 707.4L311.5 710.1L312.2 711.6L312.9 714.4L313.6 715.9L314.3 717.9L314.6 718.8L315 715.2L315.7 710.1L316.4 705.2L316.9 701.2L317.1 702.7L317.8 710.6L318.3 716.7L318.5 721.7L319.2 736.6L319.9 751.1L320.4 760.7L320.6 759.7L321.3 753.5L322 747.1L322.1 746.8L322.7 749.9L323.4 753.3L323.6 753.3L324.1 743.9L324.8 730.3L325.5 718.2L325.6 716.7L326.2 719.9L326.9 722.8L327.1 723.3L327.6 717.8L328.3 707.1L328.8 699.5L329 697.8L329.7 692.6L330.4 686.6L331.1 680.5L331.8 674.1L331.9 674.6L332.5 675.2L333.2 676L333.9 677.6L334.6 678.7L335.3 683L336 688.2L336.7 691.9L337.4 696L337.6 697L338.1 695.6L338.8 694.3L339.5 692.6L340.2 690.2L340.3 689.4L340.9 689.2L341.6 689.5L342.3 688.9L343 688.4L343.7 686.9L344.4 687.5L345.1 686.2L345.8 685.5L346.5 685.4L347.2 685.4L347.6 685.5L347.9 684.5L348.6 683.2L349.3 681.7L350 679.5L350.7 678.6L351.4 677.2L352.1 676.5L352.8 675.2L353.5 674.4L353.9 673.9L354.2 674L354.9 674.1L355.6 673.7L356.3 672.8L357 673.2L357.7 671.9L358.4 671.6L359.1 671.9L359.8 671.2L360.5 671.3L361.2 670.4L361.9 670.1L362.6 670.5L363.3 670.8L364 671.2L364.7 670.6L365.4 670.5L366.1 673.7L366.8 676.8L367.5 678.8L368.2 681.7L368.5 684.1L368.9 683.5L369.6 684.6L370.3 684.9L371 686.1L371.7 686L372.4 686.7L373.1 686.1L373.7 687.1L373.8 688.4L374.5 689.5L375.2 692.6L375.9 694.2L376.6 696.4L377.3 696.9L378 700.5L378.7 702.2L378.9 702.8L379.4 701.7L380.1 700.8L380.8 701.1L381.5 699.9L382.2 699.7L382.9 698.6L383.1 698.5L383.6 699.3L384.3 701.4L385 704.6L385.7 706L386.4 707.5L387.1 708.5L387.3 709.5L387.8 711.5L388.5 712.2L389.2 713.8L389.9 717.8L390.6 719.9L391.3 722L392 724.4L392.5 726.4L392.7 726.9L393.4 728.1L394.1 730.9L394.8 732L395.5 732.8L396.2 734.3L396.7 735.6L396.9 737.3L397.6 743.6L398.3 750.2L398.8 752.7L399 748.6L399.7 733.9L399.9 729.8L400.4 748.1L400.9 766.7L401.1 747.5L401.8 677L401.9 666.6L402.5 667.9L403 667.2L403.2 669.5L403.9 676.1L404.6 683L405.1 687.3L405.3 687.7L406 690.9L406.7 692.2L407.4 694.7L408.1 696.1L408.2 696.6L408.8 703.1L409.5 709.6L410.2 718.1L410.9 725.3L411.3 730.3L411.6 731.8L412.3 737.9L413 744.6L413.7 749.5L414.4 754.1L414.5 755.1L415.1 751.3L415.8 746.7L416.2 744.1L416.5 743.2L417.2 742.2L417.9 740.5L418.6 738.6L419.3 738L419.7 737L420 737.9L420.7 735.5L421.4 733.2L422.1 731.3L422.8 730.1L423.5 728.1L424.2 726L424.9 725.8L425.6 723.6L426.3 723.5L427 722L427.7 719.9L428.4 719.8L429.1 718.1L429.8 716.1L430.5 715.1L431.2 714.7L431.9 713.5L432.6 712.4L433.3 711.7L434 709.9L434.7 708.4L435.4 706.6L436.1 704.3L436.4 704L436.8 702.6L437.5 696.7L438.2 693.2L438.9 688.6L439.6 683.3L440.3 682.5L441 682.7L441.7 681L442.4 680.4L442.7 680.4L443.1 680L443.8 681.3L444.5 682.4L445.2 682.8L445.8 684L445.9 684L446.6 686.1L447.3 688L447.9 690.7L448 690.4L448.7 689.1L449.4 687.5L450.1 686L450.8 685L451.1 685.5L451.5 685L452.2 685.9L452.9 685.7L453.6 685.3L454.2 684.2L454.3 685.7L455 685.1L455.7 686.3L456.4 688L457.1 688.1L457.8 688.2L458.5 688.9L459.2 690.2L459.9 691.5L460.5 692L460.6 691L461.3 691.6L462 692.8L462.7 693L463.4 694.1L464.1 696.6L464.8 696.4L465.5 698L466.2 698.1L466.9 698.8L467.6 699.8L467.8 699.3L468.3 700.6L469 702.9L469.7 704.4L470.4 705.8L471.1 706.2L471.8 707.4L472.5 708.9L473 710.1L473.2 711.2L473.9 711.9L474.6 714.7L475.3 715.8L476 717.2L476.7 718.2L477.4 720.2L478.1 722L478.8 723.2L479.3 724.7L479.5 725.3L480.2 725.7L480.9 727L481.6 726.8L482.3 728.2L483 728.5L483.7 729.3L484.4 728.7L485.1 729.8L485.5 730.3L485.8 732.2L486.5 734.1L487.2 738L487.9 739.9L488.6 743.6L489.3 746.5L489.7 747.3L490 747L490.7 741.9L491.4 738L491.8 736L492.1 737L492.8 738.9L493.5 741.1L494.2 743L494.9 744.6L495.6 738.8L496.3 733.7L497 729.4L497.7 723.6L498.1 721L498.4 719.8L499.1 719.8L499.8 719.2L500.5 720.5L501.2 719.3L501.9 719.5L502.3 720.2L502.6 720.9L503.3 721.9L504 722.9L504.7 723.4L505.4 724.3L506.1 724.5L506.5 724.7L506.8 721.9L507.5 718.6L508.2 715.7L508.9 711.2L509.6 706.8L510.3 706.4L511 706.4L511.7 706.1L512.4 703.9L513.1 703.5L513.8 702.2L514.5 701.7L514.8 700L515.2 700.3L515.9 698.7L516.6 697.4L517.3 695.9L518 693.8L518.7 692.9L519.4 691.1L520.1 689.4L520.8 688.5L521.1 687.8L521.5 686.6L522.2 686.1L522.9 684.3L523.6 683.1L524.3 682.3L525 681.5L525.7 680.5L526.4 679.7L527.1 677.8L527.4 676.3L527.8 676.8L528.5 676.4L529.2 674.8L529.9 674.1L530.6 672.7L531.3 670.9L532 671L532.7 670.4L533.4 669.5L533.6 670.1L534.1 670.2L534.8 668.9L535.5 667.7L536.2 666.4L536.9 666.7L537.6 666.4L538.3 666.6L538.8 666.4L539 666.1L539.7 666.2L540.4 665.6L541.1 667L541.8 666.8L542.5 667.5L543.2 667.1L543.9 667.4L544.6 668L545.3 667.8L546 667.5L546.2 669.1L546.7 669L547.4 669.9L548.1 670.3L548.8 670.5L549.5 672.2L550 672.7L550.2 672.9L550.9 672.1L551.6 673.5L552.3 675L553 675.9L553.7 676.5L554.4 678L555.1 678.6L555.8 679.5L556.3 680.4L556.5 680.9L557.2 680.8L557.9 682.3L558.6 683L559.3 683.2L560 685.2L560.5 685.3L560.7 685.5L561.4 684L562.1 683.9L562.8 683.9L563.5 684L564.2 683.6L564.6 683.1L564.9 683.6L565.6 686.4L566.3 687.5L567 688.9L567.7 691.6L568.4 691.5L569.1 691.9L569.8 693.5L570.5 695.3L570.9 695.9L571.2 696.8L571.9 698L572.6 698.1L573.3 699.6L574 699.8L574.7 701.6L575.4 702.7L576.1 704.8L576.8 704.3L577.5 703.1L578.2 702.6L578.9 702L579.3 701.1L579.6 700.5L580.3 702L581 703.2L581.7 702.8L582.4 702.9L583.1 702.9L583.8 704L584.5 704.9L585.2 704.2L585.9 704.4L586.6 704.5L587.3 705.2L588 706L588.7 706.8L589.4 706.6L590.1 706.2L590.8 707.1L591.5 706.6L592.2 705.5L592.9 704.8L593.6 704.2L594.3 703.8L595 702.8L595.7 700.9L596.4 698.8L597.1 696L597.8 694.6L598.5 692.6L599.2 691.1L599.9 688.1L600.6 685.8L601.2 684.6L601.3 683.5L602 683.4L602.7 682.9L603.4 682.4L604.1 682L604.8 680.4L605.4 680.6L605.5 680.9L606.2 680.8L606.9 680.4L607.6 679.2L608.3 678.4L609 675.5L609.7 675.2L610.4 675L611.1 674.2L611.8 673L612.5 671.5L612.7 670.9L613.2 670.3L613.9 669.6L614.6 668.8L615.3 667.6L616 665.7L616.7 666.1L617.4 664.3L618.1 661.7L618.8 662.3L619 662.7L619.5 662.6L620.2 663.2L620.9 663.2L621.6 662.5L622.1 662.7L622.3 661.8L623 661.4L623.7 660.8L624.4 660.8L625.1 661.2L625.8 660.2L626.5 660.2L627.2 658.4L627.9 657.8L628.6 658.3L629.3 658.6L630 658.6L630.7 658.5L631.4 656.6L631.5 656.4L632.1 655.4L632.8 656.5L633.5 657.5L634.2 657.8L634.9 657.9L635.6 658.8L636.3 659.6L636.7 659.8L637 659.6L637.7 660.5L638.4 661.3L639.1 662.1L639.8 663.1L640.5 663.6L641.2 663.3L641.9 664.2L642.6 665.3L643.3 665.8L644 666.8L644.1 666.5L644.7 668.3L645.4 669.2L646.1 670L646.8 671.2L647.5 672.3L648.2 672.9L648.9 674.2L649.6 675.1L650.3 675.8L651 677.1L651.7 677.9L652.4 679.8L653.1 681.6L653.8 682.6L654.5 685.2L655.2 684.3L655.9 682.8L656.6 682.1L657.3 681.6L658 681L658.7 679.9L659.4 680.7L660.1 680.4L660.8 681.1L661.5 682.2L662.2 682.3L662.9 683.4L663.6 684.3L664.3 684.2L665 683.2L665.7 685.3L666.4 687L667.1 686.6L667.8 687.9L668.5 689L669.2 688.9L669.9 689.8L670.2 691.3L670.6 691L671.3 690.4L672 690.5L672.7 689.3L673.4 687.7L674.1 688.4L674.8 687.3L675.5 687L676.2 687.3L676.9 686.7L677.5 686.1L677.6 685.5L678.3 685.4L679 686L679.7 684.4L680.4 683L681.1 682.8L681.8 681.9L682.5 681.6L683.2 681.1L683.9 680.9L684.6 680.4L685.3 679.9L685.9 680L686 679L686.7 678.8L687.4 678.7L688.1 677.7L688.8 677.2L689.5 677.1L690.2 676.9L690.9 677.7L691.6 677.4L692.1 678.9L692.3 677.5L693 675.9L693.7 676.2L694.4 674.1L695.1 674.2L695.8 670.6L696.5 669.7L697.2 669.9L697.9 669.7L698.6 668.5L699.3 666.7L700 665.6L700.5 665.3L700.7 665.1L701.4 664.8L702.1 663.2L702.8 663L703.5 662.8L704.2 663.5L704.9 662.1L705.6 661L706.3 659.2L707 657.5L707.7 655.7L708.4 656.1L709.1 656.9L709.8 655.7L710.5 653.3L711 653.5L711.2 653.6L711.9 653.5L712.6 654.7L713.3 655L714 655.3L714.7 654L715.4 654L716.1 653.1L716.8 653.9L717.5 652.9L718.2 653.8L718.9 653.6L719.6 653.5L720.3 652.4L720.4 653.1L721 652.4L721.7 652.6L722.4 653.1L723.1 655.5L723.8 655.8L724.5 655.7L725.2 656.6L725.9 658.5L726.6 658.2L727.3 657.7L728 657.6L728.7 658.4L729.4 660.2L729.8 660L730.1 659.9L730.8 659.8L731.5 659.8L732.2 661.4L732.9 662L733.6 662.6L734.3 662.1L735 663.2L735.7 663.9L736 664.9L736.4 665.5L737.1 665.7L737.8 666.5L738.5 667.3L739.2 667.8L739.9 668L740.6 669.6L741.3 671.6L742 670L742.7 669.7L743.4 668L744.1 666.6L744.8 665.7L745.4 664.7L745.5 665.5L746.2 666.6L746.9 665.3L747.6 667L748.3 667.9L749 669.6L749.7 669.2L750.4 669.9L750.7 670.9L751.1 671.7L751.8 673.3L752.5 673.3L753.2 673.9L753.9 675.5L754.6 675.7L755.3 677.4L755.9 679L756 679.3L756.7 680.7L757.4 683L758.1 685.6L758.6 687.8L758.8 687.4L759.5 685L760.2 682.1L760.9 679.4L761.1 679L761.6 678.9L762.3 679L763 678.8L763.7 679.1L764.4 678.9L765.1 679.2L765.8 679.2L766.5 679.4L767.2 678.5L767.9 678L768.6 677.5L769.3 677.9L769.5 678.5L770 678.8L770.7 678.1L771.4 677.3L772.1 677.1L772.8 676.4L773.5 675.1L774.2 675.3L774.9 674.5L775.6 673.2L776.3 673L777 672.3L777.7 672.2L778.4 671.5L779.1 671.1L779.8 670.5L779.9 670.7L780.5 670.5L781.2 669.8L781.9 669L782.6 668.8L783.3 666.8L784 666.4L784.7 666.4L785.4 665.6L786.1 665.2L786.8 663.4L787.5 663.3L788.2 661.8L788.3 662.4L788.9 661.5L789.6 660.9L790.3 659.1L791 658.1L791.7 656.2L792.4 656.1L792.5 656.6L793.1 656.7L793.8 657.3L794.5 657.3L795.2 657L795.9 657.1L796.6 656.5L797.3 657L798 656.9L798.7 656.9L799.4 656.6L800.1 656.2L800.8 655.8L801.5 656.8L802.2 658.5L802.9 658.3L803.6 659.7L804.3 663L805 663.2L805.7 663.6L806.4 664.5L807.1 665.1L807.8 665.8L808.5 666.5L809.2 666.6L809.9 668.2L810.6 668.8L811.3 670L812 670.5L812.7 671.5L813.4 671.8L814.1 674.1L814.4 674.1L814.8 675L815.5 675.7L816.2 675.9L816.9 677.4L817.6 679.5L818.3 681.1L819 682.2L819.6 683.2L819.7 682.9L820.4 684.1L821.1 685.9L821.8 687.3L822.5 688.6L823.2 689.2L823.9 690.3L824.2 690.6" fill="none" stroke="#000" stroke-width="2.1" stroke-linejoin="round"/>
<line x1="262" y1="674" x2="262" y2="821.9" stroke="#000" stroke-width="3.0"/>
<line x1="361.7" y1="670" x2="361.7" y2="821.9" stroke="#000" stroke-width="2.6"/>
<line x1="451.2" y1="686" x2="451.2" y2="821.9" stroke="#000" stroke-width="2.6"/>
<line x1="540.5" y1="667" x2="540.5" y2="821.9" stroke="#000" stroke-width="2.6"/>
</g>
<line x1="825.2" y1="478" x2="825.2" y2="821.9" stroke="#1f77b4" stroke-width="2.0" stroke-dasharray="2.1 3.4"/>
<line x1="248.4" y1="821.9" x2="248.4" y2="816.9" stroke="#000" stroke-width="1.1"/>
<line x1="337.6" y1="821.9" x2="337.6" y2="816.9" stroke="#000" stroke-width="1.1"/>
<line x1="426.7" y1="821.9" x2="426.7" y2="816.9" stroke="#000" stroke-width="1.1"/>
<line x1="515.9" y1="821.9" x2="515.9" y2="816.9" stroke="#000" stroke-width="1.1"/>
<line x1="605.1" y1="821.9" x2="605.1" y2="816.9" stroke="#000" stroke-width="1.1"/>
<line x1="694.2" y1="821.9" x2="694.2" y2="816.9" stroke="#000" stroke-width="1.1"/>
<line x1="783.4" y1="821.9" x2="783.4" y2="816.9" stroke="#000" stroke-width="1.1"/>
<line x1="872.6" y1="821.9" x2="872.6" y2="816.9" stroke="#000" stroke-width="1.1"/>
<line x1="200.1" y1="821.9" x2="205.1" y2="821.9" stroke="#000" stroke-width="1.1"/>
<line x1="914" y1="821.9" x2="909" y2="821.9" stroke="#000" stroke-width="1.1"/>
<text x="194.3" y="830.7" font-size="19.44" text-anchor="end" fill="#000">10<tspan dy="-8.1" font-size="13.61">0</tspan></text>
<line x1="200.1" y1="804.6" x2="202.9" y2="804.6" stroke="#000" stroke-width="0.9"/>
<line x1="914" y1="804.6" x2="911.2" y2="804.6" stroke="#000" stroke-width="0.9"/>
<line x1="200.1" y1="794.6" x2="202.9" y2="794.6" stroke="#000" stroke-width="0.9"/>
<line x1="914" y1="794.6" x2="911.2" y2="794.6" stroke="#000" stroke-width="0.9"/>
<line x1="200.1" y1="787.4" x2="202.9" y2="787.4" stroke="#000" stroke-width="0.9"/>
<line x1="914" y1="787.4" x2="911.2" y2="787.4" stroke="#000" stroke-width="0.9"/>
<line x1="200.1" y1="781.8" x2="202.9" y2="781.8" stroke="#000" stroke-width="0.9"/>
<line x1="914" y1="781.8" x2="911.2" y2="781.8" stroke="#000" stroke-width="0.9"/>
<line x1="200.1" y1="777.3" x2="202.9" y2="777.3" stroke="#000" stroke-width="0.9"/>
<line x1="914" y1="777.3" x2="911.2" y2="777.3" stroke="#000" stroke-width="0.9"/>
<line x1="200.1" y1="773.5" x2="202.9" y2="773.5" stroke="#000" stroke-width="0.9"/>
<line x1="914" y1="773.5" x2="911.2" y2="773.5" stroke="#000" stroke-width="0.9"/>
<line x1="200.1" y1="770.1" x2="202.9" y2="770.1" stroke="#000" stroke-width="0.9"/>
<line x1="914" y1="770.1" x2="911.2" y2="770.1" stroke="#000" stroke-width="0.9"/>
<line x1="200.1" y1="767.2" x2="202.9" y2="767.2" stroke="#000" stroke-width="0.9"/>
<line x1="914" y1="767.2" x2="911.2" y2="767.2" stroke="#000" stroke-width="0.9"/>
<line x1="200.1" y1="764.6" x2="205.1" y2="764.6" stroke="#000" stroke-width="1.1"/>
<line x1="914" y1="764.6" x2="909" y2="764.6" stroke="#000" stroke-width="1.1"/>
<text x="194.3" y="773.4" font-size="19.44" text-anchor="end" fill="#000">10<tspan dy="-8.1" font-size="13.61">1</tspan></text>
<line x1="200.1" y1="747.3" x2="202.9" y2="747.3" stroke="#000" stroke-width="0.9"/>
<line x1="914" y1="747.3" x2="911.2" y2="747.3" stroke="#000" stroke-width="0.9"/>
<line x1="200.1" y1="737.2" x2="202.9" y2="737.2" stroke="#000" stroke-width="0.9"/>
<line x1="914" y1="737.2" x2="911.2" y2="737.2" stroke="#000" stroke-width="0.9"/>
<line x1="200.1" y1="730.1" x2="202.9" y2="730.1" stroke="#000" stroke-width="0.9"/>
<line x1="914" y1="730.1" x2="911.2" y2="730.1" stroke="#000" stroke-width="0.9"/>
<line x1="200.1" y1="724.5" x2="202.9" y2="724.5" stroke="#000" stroke-width="0.9"/>
<line x1="914" y1="724.5" x2="911.2" y2="724.5" stroke="#000" stroke-width="0.9"/>
<line x1="200.1" y1="720" x2="202.9" y2="720" stroke="#000" stroke-width="0.9"/>
<line x1="914" y1="720" x2="911.2" y2="720" stroke="#000" stroke-width="0.9"/>
<line x1="200.1" y1="716.1" x2="202.9" y2="716.1" stroke="#000" stroke-width="0.9"/>
<line x1="914" y1="716.1" x2="911.2" y2="716.1" stroke="#000" stroke-width="0.9"/>
<line x1="200.1" y1="712.8" x2="202.9" y2="712.8" stroke="#000" stroke-width="0.9"/>
<line x1="914" y1="712.8" x2="911.2" y2="712.8" stroke="#000" stroke-width="0.9"/>
<line x1="200.1" y1="709.9" x2="202.9" y2="709.9" stroke="#000" stroke-width="0.9"/>
<line x1="914" y1="709.9" x2="911.2" y2="709.9" stroke="#000" stroke-width="0.9"/>
<line x1="200.1" y1="707.3" x2="205.1" y2="707.3" stroke="#000" stroke-width="1.1"/>
<line x1="914" y1="707.3" x2="909" y2="707.3" stroke="#000" stroke-width="1.1"/>
<text x="194.3" y="716.1" font-size="19.44" text-anchor="end" fill="#000">10<tspan dy="-8.1" font-size="13.61">2</tspan></text>
<line x1="200.1" y1="690" x2="202.9" y2="690" stroke="#000" stroke-width="0.9"/>
<line x1="914" y1="690" x2="911.2" y2="690" stroke="#000" stroke-width="0.9"/>
<line x1="200.1" y1="679.9" x2="202.9" y2="679.9" stroke="#000" stroke-width="0.9"/>
<line x1="914" y1="679.9" x2="911.2" y2="679.9" stroke="#000" stroke-width="0.9"/>
<line x1="200.1" y1="672.8" x2="202.9" y2="672.8" stroke="#000" stroke-width="0.9"/>
<line x1="914" y1="672.8" x2="911.2" y2="672.8" stroke="#000" stroke-width="0.9"/>
<line x1="200.1" y1="667.2" x2="202.9" y2="667.2" stroke="#000" stroke-width="0.9"/>
<line x1="914" y1="667.2" x2="911.2" y2="667.2" stroke="#000" stroke-width="0.9"/>
<line x1="200.1" y1="662.7" x2="202.9" y2="662.7" stroke="#000" stroke-width="0.9"/>
<line x1="914" y1="662.7" x2="911.2" y2="662.7" stroke="#000" stroke-width="0.9"/>
<line x1="200.1" y1="658.8" x2="202.9" y2="658.8" stroke="#000" stroke-width="0.9"/>
<line x1="914" y1="658.8" x2="911.2" y2="658.8" stroke="#000" stroke-width="0.9"/>
<line x1="200.1" y1="655.5" x2="202.9" y2="655.5" stroke="#000" stroke-width="0.9"/>
<line x1="914" y1="655.5" x2="911.2" y2="655.5" stroke="#000" stroke-width="0.9"/>
<line x1="200.1" y1="652.6" x2="202.9" y2="652.6" stroke="#000" stroke-width="0.9"/>
<line x1="914" y1="652.6" x2="911.2" y2="652.6" stroke="#000" stroke-width="0.9"/>
<line x1="200.1" y1="650" x2="205.1" y2="650" stroke="#000" stroke-width="1.1"/>
<line x1="914" y1="650" x2="909" y2="650" stroke="#000" stroke-width="1.1"/>
<text x="194.3" y="658.8" font-size="19.44" text-anchor="end" fill="#000">10<tspan dy="-8.1" font-size="13.61">3</tspan></text>
<line x1="200.1" y1="632.7" x2="202.9" y2="632.7" stroke="#000" stroke-width="0.9"/>
<line x1="914" y1="632.7" x2="911.2" y2="632.7" stroke="#000" stroke-width="0.9"/>
<line x1="200.1" y1="622.6" x2="202.9" y2="622.6" stroke="#000" stroke-width="0.9"/>
<line x1="914" y1="622.6" x2="911.2" y2="622.6" stroke="#000" stroke-width="0.9"/>
<line x1="200.1" y1="615.4" x2="202.9" y2="615.4" stroke="#000" stroke-width="0.9"/>
<line x1="914" y1="615.4" x2="911.2" y2="615.4" stroke="#000" stroke-width="0.9"/>
<line x1="200.1" y1="609.9" x2="202.9" y2="609.9" stroke="#000" stroke-width="0.9"/>
<line x1="914" y1="609.9" x2="911.2" y2="609.9" stroke="#000" stroke-width="0.9"/>
<line x1="200.1" y1="605.3" x2="202.9" y2="605.3" stroke="#000" stroke-width="0.9"/>
<line x1="914" y1="605.3" x2="911.2" y2="605.3" stroke="#000" stroke-width="0.9"/>
<line x1="200.1" y1="601.5" x2="202.9" y2="601.5" stroke="#000" stroke-width="0.9"/>
<line x1="914" y1="601.5" x2="911.2" y2="601.5" stroke="#000" stroke-width="0.9"/>
<line x1="200.1" y1="598.2" x2="202.9" y2="598.2" stroke="#000" stroke-width="0.9"/>
<line x1="914" y1="598.2" x2="911.2" y2="598.2" stroke="#000" stroke-width="0.9"/>
<line x1="200.1" y1="595.3" x2="202.9" y2="595.3" stroke="#000" stroke-width="0.9"/>
<line x1="914" y1="595.3" x2="911.2" y2="595.3" stroke="#000" stroke-width="0.9"/>
<line x1="200.1" y1="592.6" x2="205.1" y2="592.6" stroke="#000" stroke-width="1.1"/>
<line x1="914" y1="592.6" x2="909" y2="592.6" stroke="#000" stroke-width="1.1"/>
<text x="194.3" y="601.4" font-size="19.44" text-anchor="end" fill="#000">10<tspan dy="-8.1" font-size="13.61">4</tspan></text>
<line x1="200.1" y1="575.4" x2="202.9" y2="575.4" stroke="#000" stroke-width="0.9"/>
<line x1="914" y1="575.4" x2="911.2" y2="575.4" stroke="#000" stroke-width="0.9"/>
<line x1="200.1" y1="565.3" x2="202.9" y2="565.3" stroke="#000" stroke-width="0.9"/>
<line x1="914" y1="565.3" x2="911.2" y2="565.3" stroke="#000" stroke-width="0.9"/>
<line x1="200.1" y1="558.1" x2="202.9" y2="558.1" stroke="#000" stroke-width="0.9"/>
<line x1="914" y1="558.1" x2="911.2" y2="558.1" stroke="#000" stroke-width="0.9"/>
<line x1="200.1" y1="552.6" x2="202.9" y2="552.6" stroke="#000" stroke-width="0.9"/>
<line x1="914" y1="552.6" x2="911.2" y2="552.6" stroke="#000" stroke-width="0.9"/>
<line x1="200.1" y1="548" x2="202.9" y2="548" stroke="#000" stroke-width="0.9"/>
<line x1="914" y1="548" x2="911.2" y2="548" stroke="#000" stroke-width="0.9"/>
<line x1="200.1" y1="544.2" x2="202.9" y2="544.2" stroke="#000" stroke-width="0.9"/>
<line x1="914" y1="544.2" x2="911.2" y2="544.2" stroke="#000" stroke-width="0.9"/>
<line x1="200.1" y1="540.9" x2="202.9" y2="540.9" stroke="#000" stroke-width="0.9"/>
<line x1="914" y1="540.9" x2="911.2" y2="540.9" stroke="#000" stroke-width="0.9"/>
<line x1="200.1" y1="537.9" x2="202.9" y2="537.9" stroke="#000" stroke-width="0.9"/>
<line x1="914" y1="537.9" x2="911.2" y2="537.9" stroke="#000" stroke-width="0.9"/>
<line x1="200.1" y1="535.3" x2="205.1" y2="535.3" stroke="#000" stroke-width="1.1"/>
<line x1="914" y1="535.3" x2="909" y2="535.3" stroke="#000" stroke-width="1.1"/>
<text x="194.3" y="544.1" font-size="19.44" text-anchor="end" fill="#000">10<tspan dy="-8.1" font-size="13.61">5</tspan></text>
<line x1="200.1" y1="518.1" x2="202.9" y2="518.1" stroke="#000" stroke-width="0.9"/>
<line x1="914" y1="518.1" x2="911.2" y2="518.1" stroke="#000" stroke-width="0.9"/>
<line x1="200.1" y1="508" x2="202.9" y2="508" stroke="#000" stroke-width="0.9"/>
<line x1="914" y1="508" x2="911.2" y2="508" stroke="#000" stroke-width="0.9"/>
<line x1="200.1" y1="500.8" x2="202.9" y2="500.8" stroke="#000" stroke-width="0.9"/>
<line x1="914" y1="500.8" x2="911.2" y2="500.8" stroke="#000" stroke-width="0.9"/>
<line x1="200.1" y1="495.3" x2="202.9" y2="495.3" stroke="#000" stroke-width="0.9"/>
<line x1="914" y1="495.3" x2="911.2" y2="495.3" stroke="#000" stroke-width="0.9"/>
<line x1="200.1" y1="490.7" x2="202.9" y2="490.7" stroke="#000" stroke-width="0.9"/>
<line x1="914" y1="490.7" x2="911.2" y2="490.7" stroke="#000" stroke-width="0.9"/>
<line x1="200.1" y1="486.9" x2="202.9" y2="486.9" stroke="#000" stroke-width="0.9"/>
<line x1="914" y1="486.9" x2="911.2" y2="486.9" stroke="#000" stroke-width="0.9"/>
<line x1="200.1" y1="483.6" x2="202.9" y2="483.6" stroke="#000" stroke-width="0.9"/>
<line x1="914" y1="483.6" x2="911.2" y2="483.6" stroke="#000" stroke-width="0.9"/>
<line x1="200.1" y1="480.6" x2="202.9" y2="480.6" stroke="#000" stroke-width="0.9"/>
<line x1="914" y1="480.6" x2="911.2" y2="480.6" stroke="#000" stroke-width="0.9"/>
<line x1="200.1" y1="478" x2="205.1" y2="478" stroke="#000" stroke-width="1.1"/>
<line x1="914" y1="478" x2="909" y2="478" stroke="#000" stroke-width="1.1"/>
<text x="194.3" y="486.8" font-size="19.44" text-anchor="end" fill="#000">10<tspan dy="-8.1" font-size="13.61">6</tspan></text>
<path d="M200.1 478H914M200.1 821.9H914M200.1 478V821.9" fill="none" stroke="#000" stroke-width="2" stroke-linecap="square"/>
<path d="M914 478V821.9" fill="none" stroke="#000" stroke-width="2" stroke-linecap="square"/>
<text x="235.1" y="511.3" font-size="23.60" text-anchor="start" fill="#000" id="geo">Geostationary orbit:</text>
<text x="499.1" y="511.3" font-size="23.60" text-anchor="start" fill="#000" id="geo2">GOES 14,</text>
<text x="627.7" y="511.3" font-size="23.60" text-anchor="start" fill="#f00" id="geo3">Model</text>
<text x="113.2" y="650" font-size="24.00" text-anchor="middle" fill="#000" transform="rotate(-90 113.2 650)" id="yl2a">&gt;2.0 MeV Electron Flux</text>
<text x="145.5" y="744" font-size="24.00" text-anchor="start" fill="#000" transform="rotate(-90 145.5 744)" id="yl2b">( cm<tspan dy="-9.6" font-size="16.80">−2</tspan><tspan dy="9.6" font-size="24.00"> </tspan>s<tspan dy="-9.6" font-size="16.80">−1</tspan><tspan dy="9.6" font-size="24.00"> </tspan>sr<tspan dy="-9.6" font-size="16.80">−1</tspan><tspan dy="9.6" font-size="24.00"> </tspan>)</text>
<clipPath id="c3"><rect x="200.1" y="845" width="713.9" height="171.9"/></clipPath>
<g clip-path="url(#c3)">
<rect x="198.6" y="985" width="8.8" height="31.9" fill="#008000"/>
<rect x="209.8" y="991.5" width="8.8" height="25.4" fill="#008000"/>
<rect x="220.9" y="991.5" width="8.8" height="25.4" fill="#008000"/>
<rect x="232.1" y="1004.1" width="8.8" height="12.8" fill="#008000"/>
<rect x="243.2" y="1004.1" width="8.8" height="12.8" fill="#008000"/>
<rect x="254.4" y="1004.1" width="8.8" height="12.8" fill="#008000"/>
<rect x="265.5" y="985" width="8.8" height="31.9" fill="#008000"/>
<rect x="276.7" y="991.5" width="8.8" height="25.4" fill="#008000"/>
<rect x="287.8" y="985" width="8.8" height="31.9" fill="#008000"/>
<rect x="299" y="972.4" width="8.8" height="44.5" fill="#008000"/>
<rect x="310.2" y="978.7" width="8.8" height="38.2" fill="#008000"/>
<rect x="321.3" y="953.3" width="8.8" height="63.6" fill="#bfbf00"/>
<rect x="332.5" y="985" width="8.8" height="31.9" fill="#008000"/>
<rect x="343.6" y="985" width="8.8" height="31.9" fill="#008000"/>
<rect x="354.8" y="997.8" width="8.8" height="19.1" fill="#008000"/>
<rect x="365.9" y="991.5" width="8.8" height="25.4" fill="#008000"/>
<rect x="377.1" y="991.5" width="8.8" height="25.4" fill="#008000"/>
<rect x="388.2" y="934.2" width="8.8" height="82.7" fill="#bfbf00"/>
<rect x="399.4" y="940.5" width="8.8" height="76.4" fill="#bfbf00"/>
<rect x="410.5" y="978.7" width="8.8" height="38.2" fill="#008000"/>
<rect x="421.7" y="991.5" width="8.8" height="25.4" fill="#008000"/>
<rect x="432.9" y="965.9" width="8.8" height="51" fill="#008000"/>
<rect x="444" y="991.5" width="8.8" height="25.4" fill="#008000"/>
<rect x="455.2" y="985" width="8.8" height="31.9" fill="#008000"/>
<rect x="466.3" y="1004.1" width="8.8" height="12.8" fill="#008000"/>
<rect x="477.5" y="997.8" width="8.8" height="19.1" fill="#008000"/>
<rect x="488.6" y="972.4" width="8.8" height="44.5" fill="#008000"/>
<rect x="499.8" y="978.7" width="8.8" height="38.2" fill="#008000"/>
<rect x="510.9" y="985" width="8.8" height="31.9" fill="#008000"/>
<rect x="522.1" y="959.6" width="8.8" height="57.3" fill="#bfbf00"/>
<rect x="533.2" y="972.4" width="8.8" height="44.5" fill="#008000"/>
<rect x="544.4" y="985" width="8.8" height="31.9" fill="#008000"/>
<rect x="555.6" y="978.7" width="8.8" height="38.2" fill="#008000"/>
<rect x="566.7" y="978.7" width="8.8" height="38.2" fill="#008000"/>
<rect x="577.9" y="1004.1" width="8.8" height="12.8" fill="#008000"/>
<rect x="589" y="991.5" width="8.8" height="25.4" fill="#008000"/>
<rect x="600.2" y="1004.1" width="8.8" height="12.8" fill="#008000"/>
<rect x="611.3" y="1010.6" width="8.8" height="6.3" fill="#008000"/>
<rect x="622.5" y="1004.1" width="8.8" height="12.8" fill="#008000"/>
<rect x="633.6" y="1010.6" width="8.8" height="6.3" fill="#008000"/>
<rect x="644.8" y="1004.1" width="8.8" height="12.8" fill="#008000"/>
<rect x="722.9" y="1010.6" width="8.8" height="6.3" fill="#008000"/>
<rect x="734" y="997.8" width="8.8" height="19.1" fill="#008000"/>
<rect x="745.2" y="985" width="8.8" height="31.9" fill="#008000"/>
<rect x="756.4" y="997.8" width="8.8" height="19.1" fill="#008000"/>
<rect x="767.5" y="997.8" width="8.8" height="19.1" fill="#008000"/>
<rect x="778.7" y="997.8" width="8.8" height="19.1" fill="#008000"/>
<rect x="789.8" y="978.7" width="8.8" height="38.2" fill="#008000"/>
<rect x="801" y="985" width="8.8" height="31.9" fill="#008000"/>
<rect x="812.1" y="1004.1" width="8.8" height="12.8" fill="#008000"/>
<rect x="823.3" y="1004.1" width="8.8" height="12.8" fill="#008000"/>
<rect x="834.4" y="1004.1" width="8.8" height="12.8" fill="#008000"/>
<rect x="845.6" y="1004.1" width="8.8" height="12.8" fill="#008000"/>
<rect x="856.7" y="1004.1" width="8.8" height="12.8" fill="#008000"/>
<rect x="867.9" y="1004.1" width="8.8" height="12.8" fill="#008000"/>
<rect x="879.1" y="1004.1" width="8.8" height="12.8" fill="#008000"/>
<rect x="890.2" y="1004.1" width="8.8" height="12.8" fill="#008000"/>
<rect x="901.4" y="1004.1" width="8.8" height="12.8" fill="#008000"/>
</g>
<line x1="825.2" y1="845" x2="825.2" y2="1016.9" stroke="#1f77b4" stroke-width="2.0" stroke-dasharray="2.1 3.4"/>
<text x="876.3" y="1001.7" font-size="31.00" text-anchor="start" fill="#000" transform="rotate(-90 876.3 1001.7)" fill-opacity="0.115" id="fc3">Forecast</text>
<line x1="248.4" y1="1016.9" x2="248.4" y2="1011.9" stroke="#000" stroke-width="1.1"/>
<text x="247.7" y="1037.1" font-size="19.44" text-anchor="middle" fill="#000">08</text>
<line x1="337.6" y1="1016.9" x2="337.6" y2="1011.9" stroke="#000" stroke-width="1.1"/>
<text x="336.9" y="1037.1" font-size="19.44" text-anchor="middle" fill="#000">09</text>
<line x1="426.7" y1="1016.9" x2="426.7" y2="1011.9" stroke="#000" stroke-width="1.1"/>
<text x="426" y="1037.1" font-size="19.44" text-anchor="middle" fill="#000">10</text>
<line x1="515.9" y1="1016.9" x2="515.9" y2="1011.9" stroke="#000" stroke-width="1.1"/>
<text x="515.2" y="1037.1" font-size="19.44" text-anchor="middle" fill="#000">11</text>
<line x1="605.1" y1="1016.9" x2="605.1" y2="1011.9" stroke="#000" stroke-width="1.1"/>
<text x="604.4" y="1037.1" font-size="19.44" text-anchor="middle" fill="#000">12</text>
<line x1="694.2" y1="1016.9" x2="694.2" y2="1011.9" stroke="#000" stroke-width="1.1"/>
<text x="693.5" y="1037.1" font-size="19.44" text-anchor="middle" fill="#000">13</text>
<line x1="783.4" y1="1016.9" x2="783.4" y2="1011.9" stroke="#000" stroke-width="1.1"/>
<text x="782.7" y="1037.1" font-size="19.44" text-anchor="middle" fill="#000">14</text>
<line x1="872.6" y1="1016.9" x2="872.6" y2="1011.9" stroke="#000" stroke-width="1.1"/>
<text x="871.9" y="1037.1" font-size="19.44" text-anchor="middle" fill="#000">15</text>
<line x1="200.1" y1="1016.9" x2="205.1" y2="1016.9" stroke="#000" stroke-width="1.1"/>
<line x1="914" y1="1016.9" x2="909" y2="1016.9" stroke="#000" stroke-width="1.1"/>
<text x="195.2" y="1024.1" font-size="19.44" text-anchor="end" fill="#000">0</text>
<line x1="200.1" y1="978.7" x2="205.1" y2="978.7" stroke="#000" stroke-width="1.1"/>
<line x1="914" y1="978.7" x2="909" y2="978.7" stroke="#000" stroke-width="1.1"/>
<text x="195.2" y="985.9" font-size="19.44" text-anchor="end" fill="#000">2</text>
<line x1="200.1" y1="940.5" x2="205.1" y2="940.5" stroke="#000" stroke-width="1.1"/>
<line x1="914" y1="940.5" x2="909" y2="940.5" stroke="#000" stroke-width="1.1"/>
<text x="195.2" y="947.7" font-size="19.44" text-anchor="end" fill="#000">4</text>
<line x1="200.1" y1="902.3" x2="205.1" y2="902.3" stroke="#000" stroke-width="1.1"/>
<line x1="914" y1="902.3" x2="909" y2="902.3" stroke="#000" stroke-width="1.1"/>
<text x="195.2" y="909.5" font-size="19.44" text-anchor="end" fill="#000">6</text>
<line x1="200.1" y1="864.1" x2="205.1" y2="864.1" stroke="#000" stroke-width="1.1"/>
<line x1="914" y1="864.1" x2="909" y2="864.1" stroke="#000" stroke-width="1.1"/>
<text x="195.2" y="871.3" font-size="19.44" text-anchor="end" fill="#000">8</text>
<path d="M200.1 845H914M200.1 1016.9H914M200.1 845V1016.9" fill="none" stroke="#000" stroke-width="2" stroke-linecap="square"/>
<path d="M914 845V1016.9" fill="none" stroke="#000" stroke-width="2" stroke-linecap="square"/>
<text x="173" y="949.8" font-size="24.00" text-anchor="start" fill="#000" transform="rotate(-90 173 949.8)">Kp</text>
<text x="556.6" y="1065.5" font-size="24.10" text-anchor="middle" fill="#000" id="xl">October 2019 (UT)</text>
<rect x="207.7" y="852.6" width="87.8" height="66.6" rx="2.8" fill="#fff" fill-opacity="0.8" stroke="#ccc" stroke-width="1.1"/>
<rect x="213.1" y="859.1" width="28.0" height="11" fill="#008000"/>
<text x="252.3" y="869.2" font-size="13.30" text-anchor="start" fill="#000">Kp&lt;3</text>
<rect x="213.1" y="880.1" width="28.0" height="11" fill="#bfbf00"/>
<text x="252.3" y="890.2" font-size="13.30" text-anchor="start" fill="#000">Kp&lt;5</text>
<rect x="213.1" y="901.2" width="28.0" height="11" fill="#f00"/>
<text x="252.3" y="911.3" font-size="13.30" text-anchor="start" fill="#000">Kp&gt;5</text>
<line x1="1205" y1="282.5" x2="1800" y2="282.5" stroke="#000" stroke-width="2.0" stroke-dasharray="2.1 3.4"/>
<path d="M1205.5 283L1205.8 282.3L1206.1 292.5L1206.4 277.5L1206.7 287.5L1207 270.9L1207.3 275.6L1207.6 278L1207.9 291.8L1208.2 289.2L1208.5 282.5L1208.8 296.9L1209.1 307.1L1209.4 292.1L1209.7 296.5L1210 288.7L1210.3 290.1L1210.6 291.9L1210.9 279.2L1211.2 284.4L1211.5 277.3L1211.8 274.2L1212.1 277.1L1212.4 264.3L1212.7 261.6L1213 275.2L1213.3 286.2L1213.6 293.8L1213.9 285.9L1214.2 291.7L1214.5 302.5L1214.8 304.7L1215.1 282.5L1215.4 266.7L1215.7 277.2L1216 290.2L1216.3 286.7L1216.6 293.8L1216.9 291.4L1217.2 290.2L1217.5 290.3L1217.8 289.8L1218.1 284L1218.4 301.4L1218.7 302.8L1219 290.4L1219.3 286.3L1219.6 277.3L1219.9 286.3L1220.2 274.2L1220.5 277.6L1220.8 289.4L1221.1 294.4L1221.4 297.5L1221.7 283.5L1222 293.5L1222.3 290L1222.6 301L1222.9 292.2L1223.2 304.7L1223.5 299.9L1223.8 299.9L1224.1 289.3L1224.4 283.1L1224.7 279.5L1225 289.7L1225.3 282L1225.6 280.4L1225.9 290.8L1226.2 290.3L1226.5 282.7L1226.8 283.1L1227.1 267.8L1227.4 258.1L1227.7 270L1228 297.2L1228.3 306.8L1228.6 317.2L1228.9 305.8L1229.2 290.1L1229.5 296.3L1229.8 279.8L1230.1 256.2L1230.4 273.3L1230.7 288.7L1231 294.6L1231.3 306L1231.6 305.7L1231.9 302.2L1232.2 287.3L1232.5 287.2L1232.8 277.6L1233.1 279.7L1233.4 301.2L1233.7 297.8L1234 297.3L1234.3 287.4L1234.6 311.6L1234.9 283.5L1235.2 277.5L1235.5 291.1L1235.8 283.2L1236.1 278.4L1236.4 287.5L1236.7 294.6L1237 297.9L1237.3 285.8L1237.6 293.6L1237.9 280.1L1238.2 275.8L1238.5 273.1L1238.8 283.8L1239.1 283.8L1239.4 278.7L1239.7 285L1240 279.3L1240.3 281L1240.6 284L1240.9 283.6L1241.2 279.7L1241.5 275.7L1241.8 294.9L1242.1 277.2L1242.4 289L1242.7 285.9L1243 285.3L1243.3 273.2L1243.6 281.7L1243.9 280.8L1244.2 294.2L1244.5 286.1L1244.8 276.2L1245.1 268.9L1245.4 283.7L1245.7 287.5L1246 280.6L1246.3 294.2L1246.6 288.3L1246.9 279.3L1247.2 280.9L1247.5 266.4L1247.8 268.5L1248.1 258.7L1248.4 270.2L1248.7 277.6L1249 275.4L1249.3 285.4L1249.6 275.3L1249.9 281.4L1250.2 279.3L1250.5 269.4L1250.8 281L1251.1 297L1251.4 318.8L1251.7 304.3L1252 300.3L1252.3 309.6L1252.6 290.4L1252.9 303.4L1253.2 281.9L1253.5 274.7L1253.8 279.3L1254.1 280.5L1254.4 293.5L1254.7 282.5L1255 285L1255.3 284.6L1255.6 289.1L1255.9 295.8L1256.2 302.6L1256.5 300.9L1256.8 300.7L1257.1 297.7L1257.4 281.7L1257.7 270.7L1258 284.5L1258.3 276.5L1258.6 277.6L1258.9 287.5L1259.2 287.9L1259.5 284.3L1259.8 281.5L1260.1 288.2L1260.4 303.9L1260.7 283.6L1261 285.1L1261.3 296.4L1261.6 296L1261.9 287.5L1262.2 288.2L1262.5 291.5L1262.8 298.4L1263.1 278.2L1263.4 273.4L1263.7 280.6L1264 285.5L1264.3 286.1L1264.6 287.6L1264.9 292.2L1265.2 290.5L1265.5 308.3L1265.8 288.3L1266.1 280.4L1266.4 267.1L1266.7 278.7L1267 282.2L1267.3 280.9L1267.6 271.6L1267.9 294.9L1268.2 294.2L1268.5 297.8L1268.8 280.6L1269.1 286.6L1269.4 291.8L1269.7 306L1270 304L1270.3 307.5L1270.6 286.2L1270.9 286.9L1271.2 290.4L1271.5 291L1271.8 290L1272.1 289.1L1272.4 302.6L1272.7 294.3L1273 300L1273.3 302.6L1273.6 294.3L1273.9 294.1L1274.2 271.1L1274.5 274.2L1274.8 291.1L1275.1 284.6L1275.4 268L1275.7 286L1276 275.3L1276.3 293.1L1276.6 290.2L1276.9 277L1277.2 275.1L1277.5 294.2L1277.8 292L1278.1 288.5L1278.4 289.3L1278.7 286.9L1279 281.6L1279.3 290.2L1279.6 302.8L1279.9 297.5L1280.2 308.3L1280.5 310.1L1280.8 287.6L1281.1 295.4L1281.4 305.7L1281.7 281.2L1282 281.1L1282.3 290.4L1282.6 283.5L1282.9 287.9L1283.2 287.4L1283.5 281.6L1283.8 285.7L1284.1 285.4L1284.4 288.7L1284.7 290.7L1285 286.1L1285.3 281.7L1285.6 280.7L1285.9 289.9L1286.2 281.1L1286.5 297.4L1286.8 285.8L1287.1 304.4L1287.4 295.2L1287.7 287.9L1288 283L1288.3 289.2L1288.6 289.7L1288.9 280L1289.2 284.3L1289.5 289.3L1289.8 289.2L1290.1 299L1290.4 270L1290.7 274.3L1291 272.8L1291.3 281.6L1291.6 299.5L1291.9 279.3L1292.2 273.9L1292.5 277.1L1292.8 290.1L1293.1 298.6L1293.4 287.8L1293.7 296.6L1294 293.6L1294.3 302.3L1294.6 299L1294.9 301.9L1295.2 299.2L1295.5 290L1295.8 284.9L1296.1 295.4L1296.4 290.7L1296.7 286.1L1297 291L1297.3 300.5L1297.6 307.9L1297.9 300.4L1298.2 301.7L1298.5 309.4L1298.8 303.3L1299.1 315L1299.4 314.7L1299.7 304.6L1300 314.4L1300.3 308.2L1300.6 319.5L1300.9 309.7L1301.2 316.5L1301.5 324.1L1301.8 314L1302.1 306.9L1302.4 295.9L1302.7 292L1303 292.9L1303.3 308.3L1303.6 315L1303.9 311L1304.2 323L1304.5 322.9L1304.8 338.6L1305.1 349L1305.4 349L1305.7 343.9L1306 347.2L1306.3 342.2L1306.6 339L1306.9 340.1L1307.2 332.9L1307.5 337.3L1307.8 341L1308.1 345.3L1308.4 340.1L1308.7 337.6L1309 345.2L1309.3 347L1309.6 347L1309.9 322.9L1310.2 321.6L1310.5 309.6L1310.8 308.7L1311.1 299.4L1311.4 291.2L1311.7 279.9L1312 284L1312.3 271.9L1312.6 251.2L1312.9 246.3L1313.2 247.1L1313.5 244.5L1313.8 256.2L1314.1 249.6L1314.4 247.7L1314.7 248.5L1315 251.1L1315.3 241.4L1315.6 233.4L1315.9 232.3L1316.2 238.9L1316.5 237.8L1316.8 241L1317.1 235.4L1317.4 240.6L1317.7 239.4L1318 237L1318.3 237.5L1318.6 236.3L1318.9 234.7L1319.2 225.3L1319.5 229.4L1319.8 229.4L1320.1 232.4L1320.4 233L1320.7 230.1L1321 232.8L1321.3 239.7L1321.6 238.6L1321.9 235.4L1322.2 234.2L1322.5 238L1322.8 231.5L1323.1 231.3L1323.4 229.3L1323.7 222.6L1324 230.1L1324.3 234.9L1324.6 231.4L1324.9 230.3L1325.2 233.4L1325.5 240.9L1325.8 235.8L1326.1 243.2L1326.4 244.7L1326.7 229.6L1327 230.1L1327.3 233.5L1327.6 231.8L1327.9 237.5L1328.2 237.4L1328.5 238.2L1328.8 235.1L1329.1 225.8L1329.4 231.4L1329.7 227.4L1330 234.8L1330.3 236L1330.6 250.1L1330.9 245.5L1331.2 232.2L1331.5 245.3L1331.8 244L1332.1 246.6L1332.4 249.1L1332.7 238.7L1333 232.6L1333.3 238.2L1333.6 231.9L1333.9 224.6L1334.2 226.2L1334.5 229.4L1334.8 235.4L1335.1 233L1335.4 230.6L1335.7 234.7L1336 235.5L1336.3 239.2L1336.6 231L1336.9 243L1337.2 233.6L1337.5 239.5L1337.8 242L1338.1 234.9L1338.4 234.4L1338.7 231.9L1339 236.3L1339.3 240.2L1339.6 237.6L1339.9 237.3L1340.2 232.5L1340.5 260L1340.8 260L1341.1 235.5L1341.4 229.8L1341.7 236.6L1342 230.6L1342.3 229.2L1342.6 227.2L1342.9 231.2L1343.2 231.7L1343.5 225.6L1343.8 226.3L1344.1 226.6L1344.4 235.7L1344.7 248.6L1345 253.1L1345.3 258.4L1345.6 262.2L1345.9 252.5L1346.2 248L1346.5 239.6L1346.8 252.6L1347.1 253.5L1347.4 242.1L1347.7 247.1L1348 244.4L1348.3 250.5L1348.6 262L1348.9 262L1349.2 234.7L1349.5 233L1349.8 239.5L1350.1 232.6L1350.4 228.2L1350.7 230.4L1351 219.9L1351.3 219.9L1351.6 230.3L1351.9 221.9L1352.2 233.7L1352.5 226.1L1352.8 224.7L1353.1 230.2L1353.4 229.6L1353.7 217.6L1354 207.8L1354.3 218.4L1354.6 214.3L1354.9 217.7L1355.2 227.7L1355.5 226.3L1355.8 222.9L1356.1 216.4L1356.4 223.5L1356.7 246.4L1357 231.5L1357.3 219.2L1357.6 221.5L1357.9 236.6L1358.2 232.6L1358.5 232L1358.8 232.4L1359.1 234.9L1359.4 227.2L1359.7 220.5L1360 227.5L1360.3 247.7L1360.6 229.1L1360.9 231.1L1361.2 232.4L1361.5 231.9L1361.8 236.8L1362.1 233.5L1362.4 245.8L1362.7 239.9L1363 232.3L1363.3 239.6L1363.6 251.2L1363.9 278L1364.2 267.1L1364.5 276.2L1364.8 259.2L1365.1 272.1L1365.4 292.9L1365.7 303L1366 319.9L1366.3 331.8L1366.6 339.5L1366.9 339.8L1367.2 343.8L1367.5 335.6L1367.8 345.2L1368.1 343.8L1368.4 353L1368.7 353L1369 348.4L1369.3 356.6L1369.6 343.2L1369.9 338.9L1370.2 334.3L1370.5 339.4L1370.8 331.1L1371.1 323.9L1371.4 317.7L1371.7 320.2L1372 330.7L1372.3 333.6L1372.6 346.9L1372.9 356L1373.2 356L1373.5 326.7L1373.8 322.6L1374.1 313.8L1374.4 306.9L1374.7 292L1375 295.8L1375.3 289.8L1375.6 286L1375.9 281.9L1376.2 278.5L1376.5 285.2L1376.8 286.6L1377.1 282L1377.4 273.5L1377.7 276.1L1378 274.1L1378.3 261.8L1378.6 265.2L1378.9 272.1L1379.2 270.7L1379.5 272.3L1379.8 281.4L1380.1 287.2L1380.4 272.7L1380.7 278.7L1381 280.8L1381.3 283.6L1381.6 279.5L1381.9 282.1L1382.2 269L1382.5 272.9L1382.8 281.9L1383.1 274.4L1383.4 275.2L1383.7 274.3L1384 279.8L1384.3 288.9L1384.6 284L1384.9 297L1385.2 288.2L1385.5 292.4L1385.8 293L1386.1 282.5L1386.4 278.6L1386.7 283.1L1387 278.4L1387.3 273.8L1387.6 279L1387.9 274.1L1388.2 280.5L1388.5 282.2L1388.8 289.9L1389.1 297.8L1389.4 284.2L1389.7 285.9L1390 294.5L1390.3 311.9L1390.6 304.7L1390.9 302.1L1391.2 295.5L1391.5 312.1L1391.8 303L1392.1 304.6L1392.4 324L1392.7 324L1393 290.3L1393.3 287.9L1393.6 295.8L1393.9 305.9L1394.2 301.7L1394.5 317.9L1394.8 309.9L1395.1 312.9L1395.4 311.8L1395.7 305.6L1396 307.5L1396.3 307.3L1396.6 297.2L1396.9 299.5L1397.2 293.3L1397.5 302.5L1397.8 292L1398.1 284.9L1398.4 281.3L1398.7 287.5L1399 296.5L1399.3 282.6L1399.6 286.9L1399.9 289L1400.2 282.8L1400.5 287.2L1400.8 288.9L1401.1 282.1L1401.4 267.6L1401.7 274.7L1402 275L1402.3 279L1402.6 284L1402.9 297.2L1403.2 288L1403.5 292.3L1403.8 289.4L1404.1 282.4L1404.4 275.6L1404.7 268.7L1405 260.4L1405.3 273.1L1405.6 280.8L1405.9 275.8L1406.2 284.2L1406.5 283.9L1406.8 282.5L1407.1 276.3L1407.4 273.6L1407.7 282.3L1408 285.2L1408.3 282.3L1408.6 288.5L1408.9 289L1409.2 277.1L1409.5 289.7L1409.8 286.2L1410.1 299.3L1410.4 286.8L1410.7 270.8L1411 281.4L1411.3 295.1L1411.6 288.8L1411.9 288.5L1412.2 302.1L1412.5 301.7L1412.8 299.8L1413.1 290.2L1413.4 283.7L1413.7 275.8L1414 273.2L1414.3 278.4L1414.6 285.6L1414.9 299.1L1415.2 304.4L1415.5 298.5L1415.8 294.8L1416.1 294.6L1416.4 290.3L1416.7 299.6L1417 289.2L1417.3 285.9L1417.6 276.2L1417.9 271.2L1418.2 280.8L1418.5 290L1418.8 294.3L1419.1 296.9L1419.4 285.1L1419.7 297.9L1420 295.9L1420.3 288.6L1420.6 287L1420.9 280.1L1421.2 277L1421.5 282.1L1421.8 280.4L1422.1 283.3L1422.4 284.9L1422.7 273.4L1423 286.9L1423.3 299.4L1423.6 287.4L1423.9 288.8L1424.2 293.3L1424.5 289.3L1424.8 288.6L1425.1 282.2L1425.4 280.2L1425.7 284.4L1426 293.7L1426.3 291.2L1426.6 295.8L1426.9 293.8L1427.2 289.8L1427.5 294.2L1427.8 294.7L1428.1 299.5L1428.4 304.6L1428.7 300.6L1429 298.6L1429.3 301.2L1429.6 292.8L1429.9 289.7L1430.2 295.8L1430.5 285.4L1430.8 276.2L1431.1 276.4L1431.4 287L1431.7 290.4L1432 290.1L1432.3 290.4L1432.6 284.2L1432.9 287.5L1433.2 285.2L1433.5 294.7L1433.8 293.7L1434.1 297.9L1434.4 299L1434.7 295.8L1435 292.1L1435.3 289L1435.6 295.4L1435.9 299.3L1436.2 291L1436.5 290.6L1436.8 294.7L1437.1 295.6L1437.4 302.2L1437.7 300.7L1438 307.8L1438.3 297.8L1438.6 300L1438.9 295.4L1439.2 288.6L1439.5 271L1439.8 278.5L1440.1 284.7L1440.4 290.4L1440.7 298.2L1441 296.9L1441.3 291.7L1441.6 284.4L1441.9 283.1L1442.2 287.3L1442.5 276.3L1442.8 272.5L1443.1 278.2L1443.4 291L1443.7 289.2L1444 292.5L1444.3 287.4L1444.6 278.9L1444.9 278L1445.2 284.7L1445.5 281.2L1445.8 282.8L1446.1 285.1L1446.4 297.9L1446.7 301L1447 281.5L1447.3 274.2L1447.6 283.5L1447.9 283.2L1448.2 286.7L1448.5 289.8L1448.8 294.5L1449.1 274.8L1449.4 271.8L1449.7 261.9L1450 281L1450.3 282.7L1450.6 280.7L1450.9 282.5L1451.2 288.9L1451.5 288.4L1451.8 277L1452.1 284.4L1452.4 292.8L1452.7 287.2L1453 288.6L1453.3 281.3L1453.6 294.9L1453.9 284.1L1454.2 282.9L1454.5 285.8L1454.8 288.3L1455.1 291.4L1455.4 282.2L1455.7 288.4L1456 284.6L1456.3 286L1456.6 289L1456.9 283.2L1457.2 266.6L1457.5 285L1457.8 284.4L1458.1 279.8L1458.4 291.5L1458.7 297.8L1459 293L1459.3 299.1L1459.6 252L1459.9 252L1460.2 282.6L1460.5 289.4L1460.8 286.3L1461.1 279L1461.4 281.7L1461.7 284.9L1462 281.6L1462.3 285.3L1462.6 293.9L1462.9 290.7L1463.2 297.3L1463.5 294.3L1463.8 297.2L1464.1 293.7L1464.4 292.7L1464.7 284L1465 290L1465.3 266.9L1465.6 274.2L1465.9 279.1L1466.2 281.3L1466.5 294.2L1466.8 286.2L1467.1 289.4L1467.4 292.9L1467.7 297.7L1468 298.2L1468.3 297.4L1468.6 297.5L1468.9 305.7L1469.2 289.9L1469.5 279.6L1469.8 284.1L1470.1 286.9L1470.4 293.4L1470.7 291.2L1471 296.8L1471.3 280L1471.6 279.5L1471.9 286.6L1472.2 284.7L1472.5 290.2L1472.8 286.1L1473.1 283.5L1473.4 290.2L1473.7 293.2L1474 288.8L1474.3 297.1L1474.6 289.4L1474.9 290L1475.2 271.7L1475.5 282.9L1475.8 293.4L1476.1 293.6L1476.4 285.6L1476.7 292.5L1477 291.3L1477.3 284.2L1477.6 279.6L1477.9 286.2L1478.2 281.7L1478.5 280L1478.8 290.9L1479.1 295.1L1479.4 300.1L1479.7 292L1480 294.1L1480.3 305.5L1480.6 296.6L1480.9 289.5L1481.2 294L1481.5 295.8L1481.8 283.8L1482.1 289.4L1482.4 295L1482.7 283.2L1483 274L1483.3 275.9L1483.6 282L1483.9 285.2L1484.2 290.1L1484.5 282.3L1484.8 295L1485.1 303.9L1485.4 299.9L1485.7 291.6L1486 286.5L1486.3 289.2L1486.6 289.1L1486.9 289.4L1487.2 284L1487.5 285.3L1487.8 281.8L1488.1 276.9L1488.4 273.7L1488.7 269.4L1489 282.2L1489.3 274L1489.6 276.9L1489.9 281.4L1490.2 286.8L1490.5 283.8L1490.8 290L1491.1 285.9L1491.4 283.9L1491.7 281.2L1492 276.1L1492.3 277.4L1492.6 280.3L1492.9 284.1L1493.2 297L1493.5 281.7L1493.8 280.7L1494.1 277.9L1494.4 287L1494.7 293.8L1495 288.8L1495.3 283.4L1495.6 291.9L1495.9 290.9L1496.2 278.7L1496.5 278.7L1496.8 284.3L1497.1 280.5L1497.4 302.7L1497.7 290.4L1498 289.1L1498.3 290.7L1498.6 291.9L1498.9 284.8L1499.2 284L1499.5 289.1L1499.8 294.4L1500.1 297.5L1500.4 295L1500.7 291.4L1501 292.2L1501.3 289.1L1501.6 280.7L1501.9 277.6L1502.2 287.4L1502.5 285.3L1502.8 285.3L1503.1 292.5L1503.4 288.8L1503.7 285.6L1504 295.8L1504.3 289.5L1504.6 278.6L1504.9 279.5L1505.2 284.9L1505.5 298.4L1505.8 295.6L1506.1 298.3L1506.4 286.2L1506.7 293.3L1507 278L1507.3 290.1L1507.6 294.6L1507.9 307.8L1508.2 301.3L1508.5 300.7L1508.8 294.4L1509.1 287.2L1509.4 289.7L1509.7 297.1L1510 285L1510.3 291.2L1510.6 302.5L1510.9 287.3L1511.2 275.8L1511.5 274.6L1511.8 267.3L1512.1 284.6L1512.4 285L1512.7 280.5L1513 272.3L1513.3 285.9L1513.6 284.3L1513.9 287.1L1514.2 290.2L1514.5 302.6L1514.8 293.1L1515.1 300.5L1515.4 304.7L1515.7 300.3L1516 307.7L1516.3 291.8L1516.6 293.9L1516.9 302.9L1517.2 309.4L1517.5 308.4L1517.8 308.6L1518.1 289L1518.4 291.7L1518.7 293.7L1519 290.2L1519.3 281.9L1519.6 282.8L1519.9 299.3L1520.2 294.3L1520.5 289L1520.8 304L1521.1 305.3L1521.4 299.3L1521.7 300.7L1522 285.5L1522.3 283L1522.6 297.3L1522.9 288.5L1523.2 288.8L1523.5 300.6L1523.8 301.5L1524.1 293.6L1524.4 287.5L1524.7 286.7L1525 294.4L1525.3 285.1L1525.6 289.9L1525.9 296L1526.2 297.3L1526.5 294.9L1526.8 281.2L1527.1 290.5L1527.4 300.9L1527.7 303.8L1528 297.5L1528.3 289.5L1528.6 284.4L1528.9 284.9L1529.2 279.5L1529.5 271.2L1529.8 263.7L1530.1 268.5L1530.4 278L1530.7 289.6L1531 303.9L1531.3 302.3L1531.6 301L1531.9 310.9L1532.2 297.9L1532.5 306.9L1532.8 308.4L1533.1 298.8L1533.4 298.1L1533.7 295.2L1534 291.9L1534.3 297L1534.6 294.2L1534.9 295.9L1535.2 294.3L1535.5 291.3L1535.8 283.3L1536.1 293.8L1536.4 295.2L1536.7 296.8L1537 285.7L1537.3 292.8L1537.6 296.1L1537.9 308.1L1538.2 301.4L1538.5 286.7L1538.8 291.9L1539.1 278.7L1539.4 286.6L1539.7 299.8L1540 296.7L1540.3 279.7L1540.6 281.3L1540.9 271.1L1541.2 265.7L1541.5 255.2L1541.8 255.4L1542.1 257.5L1542.4 262.7L1542.7 263.9L1543 260.9L1543.3 254L1543.6 254L1543.9 258.7L1544.2 257.1L1544.5 257.9L1544.8 255.7L1545.1 260.6L1545.4 267.7L1545.7 264L1546 265.7L1546.3 266.7L1546.6 262.9L1546.9 269.2L1547.2 268.5L1547.5 270.2L1547.8 268.6L1548.1 268L1548.4 267L1548.7 273.1L1549 271.9L1549.3 269.1L1549.6 270.3L1549.9 271.4L1550.2 273.8L1550.5 273.8L1550.8 274.3L1551.1 270.5L1551.4 271.1L1551.7 268.8L1552 274.5L1552.3 281.1L1552.6 288.9L1552.9 283.4L1553.2 282.5L1553.5 290.4L1553.8 287.6L1554.1 288.8L1554.4 289L1554.7 284L1555 285L1555.3 293.5L1555.6 295L1555.9 300.7L1556.2 298L1556.5 291.8L1556.8 293.9L1557.1 292.7L1557.4 294.1L1557.7 299.5L1558 307.3L1558.3 303.3L1558.6 297.8L1558.9 299.8L1559.2 299.9L1559.5 298.5L1559.8 296.4L1560.1 295.6L1560.4 294.9L1560.7 290.8L1561 296.8L1561.3 298.9L1561.6 298.9L1561.9 288.9L1562.2 291.6L1562.5 299.3L1562.8 300.8L1563.1 295.4L1563.4 295.2L1563.7 298.7L1564 296.4L1564.3 299.3L1564.6 291.7L1564.9 294.8L1565.2 298.8L1565.5 290.4L1565.8 296L1566.1 293.1L1566.4 292L1566.7 291.2L1567 292.1L1567.3 295.5L1567.6 293.4L1567.9 290.6L1568.2 292.6L1568.5 293.4L1568.8 293.6L1569.1 283.5L1569.4 291.4L1569.7 293.9L1570 291.6L1570.3 291.6L1570.6 297.2L1570.9 290L1571.2 287.6L1571.5 289.2L1571.8 283.9L1572.1 285.6L1572.4 279.4L1572.7 281.2L1573 276.2L1573.3 269.3L1573.6 269.6L1573.9 269.6L1574.2 267.2L1574.5 270.2L1574.8 268.5L1575.1 275.7L1575.4 272.6L1575.7 273.4L1576 274.1L1576.3 269.6L1576.6 273.6L1576.9 277.2L1577.2 275.7L1577.5 277.9L1577.8 277.3L1578.1 269.3L1578.4 274.3L1578.7 263.7L1579 268.7L1579.3 267L1579.6 263.3L1579.9 265.5L1580.2 264.5L1580.5 270.6L1580.8 271.8L1581.1 267.6L1581.4 265.3L1581.7 267.2L1582 277.1L1582.3 276.3L1582.6 279.9L1582.9 283.5L1583.2 282.4L1583.5 280L1583.8 281.8L1584.1 284.7L1584.4 286.2L1584.7 278.1L1585 276.2L1585.3 276.5L1585.6 284.5L1585.9 285.2L1586.2 279.7L1586.5 281L1586.8 284L1587.1 284.4L1587.4 285.4L1587.7 284.9L1588 285.1L1588.3 279.7L1588.6 284.1L1588.9 284.3L1589.2 285.5L1589.5 286.6L1589.8 288.4L1590.1 289.9L1590.4 276.2L1590.7 284.8L1591 273.6L1591.3 271.4L1591.6 278.7L1591.9 278.6L1592.2 280.3L1592.5 282L1592.8 275.4L1593.1 278.9L1593.4 272.9L1593.7 268.5L1594 266.5L1594.3 262.6L1594.6 261.1L1594.9 257.8L1595.2 258.6L1595.5 255.8L1595.8 253.3L1596.1 258.3L1596.4 258.4L1596.7 253L1597 262.6L1597.3 258L1597.6 258.9L1597.9 263.7L1598.2 258.6L1598.5 248.3L1598.8 257.6L1599.1 268.3L1599.4 266.6L1599.7 256.7L1600 261.6L1600.3 260.5L1600.6 261.3L1600.9 257L1601.2 250.9L1601.5 250L1601.8 250.2L1602.1 252.8L1602.4 246.7L1602.7 243.4L1603 245.9L1603.3 249.6L1603.6 250.9L1603.9 247.2L1604.2 247.9L1604.5 250.3L1604.8 249.7L1605.1 243.5L1605.4 248.1L1605.7 250.7L1606 251.6L1606.3 254.5L1606.6 255.8L1606.9 256.3L1607.2 261.5L1607.5 256.6L1607.8 258.5L1608.1 256.5L1608.4 254.5L1608.7 262.4L1609 264.6L1609.3 267.1L1609.6 271.5L1609.9 274.6L1610.2 270.6L1610.5 262.6L1610.8 267.2L1611.1 267.2L1611.4 266.6L1611.7 275L1612 271.2L1612.3 269.1L1612.6 271.9L1612.9 270.2L1613.2 266.1L1613.5 274.2L1613.8 266.5L1614.1 268.2L1614.4 268.5L1614.7 272.4L1615 264.9L1615.3 265.1L1615.6 263.6L1615.9 258L1616.2 260L1616.5 260.1L1616.8 262.5L1617.1 260.9L1617.4 260.3L1617.7 265.8L1618 271.2L1618.3 271.4L1618.6 270.3L1618.9 263.5L1619.2 262.5L1619.5 268.6L1619.8 272L1620.1 271.2L1620.4 275.6L1620.7 270.6L1621 268L1621.3 266.6L1621.6 273L1621.9 274.3L1622.2 276.2L1622.5 279.7L1622.8 282.3L1623.1 275.8L1623.4 279.6L1623.7 286.3L1624 286.5L1624.3 287L1624.6 296.2L1624.9 289.7L1625.2 288.7L1625.5 286.8L1625.8 288.2L1626.1 285.2L1626.4 285.8L1626.7 284.7L1627 289.2L1627.3 290.3L1627.6 293.9L1627.9 292.2L1628.2 286.6L1628.5 286.2L1628.8 285.8L1629.1 283.4L1629.4 288.8L1629.7 284L1630 283.4L1630.3 283.2L1630.6 275.4L1630.9 279.2L1631.2 288L1631.5 288.8L1631.8 285.1L1632.1 278.2L1632.4 278.6L1632.7 286.4L1633 282.9L1633.3 279.6L1633.6 275.2L1633.9 277.6L1634.2 277.9L1634.5 282.8L1634.8 280.9L1635.1 283.7L1635.4 279.5L1635.7 285.8L1636 289.5L1636.3 283.1L1636.6 282.4L1636.9 288L1637.2 287.4L1637.5 289.5L1637.8 288L1638.1 282.7L1638.4 284.1L1638.7 289.6L1639 297.3L1639.3 298.7L1639.6 295.6L1639.9 295.7L1640.2 296.1L1640.5 298.5L1640.8 296.7L1641.1 300.9L1641.4 297.3L1641.7 297.8L1642 298.8L1642.3 296.4L1642.6 297.2L1642.9 298.6L1643.2 301.3L1643.5 298.9L1643.8 300.6L1644.1 299.6L1644.4 297.6L1644.7 306.9L1645 303.3L1645.3 305.5L1645.6 300.6L1645.9 299.2L1646.2 295.1L1646.5 292.2L1646.8 291.1L1647.1 292.6L1647.4 285.9L1647.7 289.3L1648 287.4L1648.3 282L1648.6 278L1648.9 276.2L1649.2 278.5L1649.5 280.4L1649.8 277.7L1650.1 271.4L1650.4 269.7L1650.7 274.3L1651 269.7L1651.3 265.5L1651.6 261.9L1651.9 271.2L1652.2 270.7L1652.5 266.8L1652.8 270.7L1653.1 264.9L1653.4 268.3L1653.7 266.1L1654 258.6L1654.3 264.5L1654.6 261.2L1654.9 272L1655.2 275.4L1655.5 276.6L1655.8 275.5L1656.1 277.1L1656.4 279.1L1656.7 281.3L1657 286.4L1657.3 289.6L1657.6 289.8L1657.9 287.3L1658.2 283.2L1658.5 281.7L1658.8 293.4L1659.1 295.2L1659.4 298.6L1659.7 293.8L1660 295L1660.3 296.2L1660.6 298.8L1660.9 294.9L1661.2 297.2L1661.5 291.5L1661.8 294.2L1662.1 299.9L1662.4 300L1662.7 301L1663 300.9L1663.3 305.1L1663.6 303.6L1663.9 296.9L1664.2 296.9L1664.5 299.9L1664.8 298.2L1665.1 294.2L1665.4 289.1L1665.7 290.6L1666 288.5L1666.3 286.1L1666.6 280.3L1666.9 274.4L1667.2 267.6L1667.5 266L1667.8 271.2L1668.1 265.4L1668.4 261.7L1668.7 264L1669 267.2L1669.3 263.3L1669.6 268.9L1669.9 272.9L1670.2 266.8L1670.5 270.7L1670.8 267.2L1671.1 263.4L1671.4 268.5L1671.7 275L1672 272.7L1672.3 266L1672.6 269.9L1672.9 268.9L1673.2 268.7L1673.5 268.8L1673.8 259.7L1674.1 261.8L1674.4 261.3L1674.7 256.4L1675 252.5L1675.3 247.3L1675.6 248.4L1675.9 249.8L1676.2 251.5L1676.5 258.5L1676.8 254.8L1677.1 256L1677.4 252.8L1677.7 251.8L1678 250L1678.3 253.8L1678.6 257.5L1678.9 257.3L1679.2 258.9L1679.5 252.9L1679.8 254.5L1680.1 255.2L1680.4 248.2L1680.7 251.4L1681 258.4L1681.3 265.7L1681.6 261.1L1681.9 254.9L1682.2 260.4L1682.5 261L1682.8 262.4L1683.1 262L1683.4 270.8L1683.7 271.9L1684 279.5L1684.3 273.8L1684.6 273.8L1684.9 279.6L1685.2 279.5L1685.5 274.8L1685.8 268.5L1686.1 272.6L1686.4 269.4L1686.7 266.9L1687 259.6L1687.3 253.4L1687.6 245.2L1687.9 248.7L1688.2 247L1688.5 246.1L1688.8 247.6L1689.1 242.1L1689.4 237.5L1689.7 234.1L1690 234.9L1690.3 226L1690.6 222L1690.9 219.4L1691.2 231.8L1691.5 234.6L1691.8 248.8L1692.1 262L1692.4 279.7L1692.7 294.1L1693 313.6L1693.3 328.5L1693.6 315.7L1693.9 309.6L1694.2 303.2L1694.5 291.9L1694.8 278.3L1695.1 261L1695.4 246.9L1695.7 235.1L1696 219.7L1696.3 230.3L1696.6 236.7L1696.9 246L1697.2 252.6L1697.5 265.1L1697.8 275.4L1698.1 284.2L1698.4 288.7L1698.7 297.6L1699 304.3L1699.3 309.1L1699.6 320.4L1699.9 328.2L1700.2 320.4L1700.5 303.9L1700.8 286.6L1701.1 270.2L1701.4 257.6L1701.7 245.4L1702 236.3L1702.3 236.7L1702.6 269.9L1702.9 299.7L1703.2 329.3L1703.5 314.1L1703.8 302.4L1704.1 289.1L1704.4 279.7L1704.7 268.6L1705 268.6L1705.3 260.3L1705.6 254.7L1705.9 247.8L1706.2 240.2L1706.5 247.5L1706.8 250.3L1707.1 255.7L1707.4 254.7L1707.7 258.4L1708 263.4L1708.3 261.8L1708.6 261.7L1708.9 272.2L1709.2 272.6L1709.5 283.9L1709.8 281.4L1710.1 280.1L1710.4 286.9L1710.7 290.3L1711 291.9L1711.3 290.5L1711.6 281L1711.9 285L1712.2 278.5L1712.5 271.1L1712.8 264.2L1713.1 264.5L1713.4 269.2L1713.7 264.6L1714 262.9L1714.3 264.1L1714.6 258.4L1714.9 259L1715.2 253.8L1715.5 254L1715.8 254.1L1716.1 251.5L1716.4 261.6L1716.7 260.2L1717 260.3L1717.3 259.6L1717.6 260.5L1717.9 261.1L1718.2 260.7L1718.5 259L1718.8 256.8L1719.1 256.4L1719.4 247.9L1719.7 246.6L1720 246.9L1720.3 241.2L1720.6 238.8L1720.9 231.7L1721.2 236.5L1721.5 234.6L1721.8 233.8L1722.1 234.8L1722.4 229.4L1722.7 230.1L1723 228.6L1723.3 227L1723.6 227.6L1723.9 224.5L1724.2 228.4L1724.5 228L1724.8 229.2L1725.1 229.4L1725.4 222.6L1725.7 231L1726 228.8L1726.3 227.6" fill="none" stroke="#000" stroke-width="2.4" stroke-linejoin="round"/>
<path d="M1205.5 325L1205.8 318.9L1206.1 317.2L1206.4 320.2L1206.7 322.3L1207 324.6L1207.3 323.7L1207.6 331.5L1207.9 325.8L1208.2 325.9L1208.5 323.4L1208.8 321L1209.1 322.5L1209.4 327L1209.7 320L1210 313.5L1210.3 316.3L1210.6 323.9L1210.9 319L1211.2 322.7L1211.5 328.3L1211.8 326.6L1212.1 315.3L1212.4 321.1L1212.7 318.9L1213 319.8L1213.3 316L1213.6 320.4L1213.9 324L1214.2 319.9L1214.5 314.9L1214.8 314L1215.1 325.4L1215.4 321L1215.7 317.4L1216 322.3L1216.3 317.4L1216.6 317.3L1216.9 314.2L1217.2 319.1L1217.5 319.2L1217.8 324.8L1218.1 320.1L1218.4 316.7L1218.7 313.2L1219 318.7L1219.3 315L1219.6 316.6L1219.9 314.8L1220.2 323.2L1220.5 315.2L1220.8 310.5L1221.1 315.9L1221.4 316.1L1221.7 315.8L1222 320.8L1222.3 321.8L1222.6 321.7L1222.9 327.1L1223.2 318.5L1223.5 323.2L1223.8 317.7L1224.1 320.5L1224.4 307.7L1224.7 313L1225 319.6L1225.3 323.4L1225.6 320.1L1225.9 314.9L1226.2 322.4L1226.5 327.4L1226.8 313.9L1227.1 318.3L1227.4 321.5L1227.7 322L1228 314.1L1228.3 319.3L1228.6 320L1228.9 318L1229.2 324.1L1229.5 326.8L1229.8 318.6L1230.1 330.4L1230.4 314.2L1230.7 334.4L1231 314.1L1231.3 330.3L1231.6 311.7L1231.9 322L1232.2 328.5L1232.5 314.7L1232.8 324.9L1233.1 310.6L1233.4 337L1233.7 317.4L1234 319L1234.3 322.8L1234.6 275L1234.9 347.4L1235.2 334.8L1235.5 323.3L1235.8 318.4L1236.1 316.8L1236.4 319.7L1236.7 311.5L1237 332.6L1237.3 280L1237.6 280L1237.9 280L1238.2 322.9L1238.5 340L1238.8 312.7L1239.1 306.9L1239.4 305.5L1239.7 318.2L1240 314.7L1240.3 301.5L1240.6 317.7L1240.9 296.1L1241.2 306.4L1241.5 327L1241.8 326.7L1242.1 306.3L1242.4 311.2L1242.7 311.9L1243 322.5L1243.3 322.2L1243.6 326.4L1243.9 324.5L1244.2 323.8L1244.5 317.7L1244.8 318L1245.1 318.2L1245.4 315L1245.7 324L1246 323.3L1246.3 315.1L1246.6 322.7L1246.9 318.5L1247.2 323.1L1247.5 319.6L1247.8 316.9L1248.1 315.9L1248.4 314L1248.7 316.6L1249 313.8L1249.3 320.8L1249.6 318.3L1249.9 319.7L1250.2 322.3L1250.5 317.3L1250.8 314.5L1251.1 325.6L1251.4 316.5L1251.7 317.1L1252 322L1252.3 323.3L1252.6 321L1252.9 317.3L1253.2 324.8L1253.5 325L1253.8 322.8L1254.1 321.9L1254.4 325.3L1254.7 327.6L1255 324.3L1255.3 323.2L1255.6 325.1L1255.9 315L1256.2 325.9L1256.5 319.4L1256.8 321L1257.1 324.1L1257.4 322.5L1257.7 326.8L1258 330.8L1258.3 325.3L1258.6 325.9L1258.9 325.7L1259.2 327.7L1259.5 324.3L1259.8 322.8L1260.1 322L1260.4 323L1260.7 326.2L1261 320.2L1261.3 324.7L1261.6 322.9L1261.9 321.9L1262.2 316.6L1262.5 318L1262.8 324.9L1263.1 321.7L1263.4 327.6L1263.7 321.3L1264 318.1L1264.3 322.5L1264.6 319.6L1264.9 323.7L1265.2 326.8L1265.5 325.9L1265.8 324.3L1266.1 320.6L1266.4 324.3L1266.7 325.5L1267 323.4L1267.3 323.2L1267.6 321.7L1267.9 323.9L1268.2 324.2L1268.5 323.4L1268.8 325.3L1269.1 326.4L1269.4 326L1269.7 325L1270 323.8L1270.3 326.9L1270.6 325.4L1270.9 328.2L1271.2 327.5L1271.5 330.8L1271.8 326.5L1272.1 325.2L1272.4 326.4L1272.7 326.6L1273 325.5L1273.3 325.6L1273.6 327.4L1273.9 326L1274.2 321.5L1274.5 321.6L1274.8 328.9L1275.1 324.5L1275.4 324.7L1275.7 324.4L1276 324.3L1276.3 325.1L1276.6 328.7L1276.9 326.7L1277.2 324.7L1277.5 325.7L1277.8 327.5L1278.1 321.6L1278.4 329.4L1278.7 323.3L1279 326L1279.3 330.2L1279.6 330L1279.9 330.8L1280.2 329.5L1280.5 326.1L1280.8 332.3L1281.1 338.4L1281.4 331.9L1281.7 329L1282 327.7L1282.3 327.2L1282.6 326.6L1282.9 329.5L1283.2 325.5L1283.5 330.4L1283.8 325L1284.1 321.7L1284.4 323.3L1284.7 325.3L1285 324.5L1285.3 325.8L1285.6 324.3L1285.9 323.2L1286.2 323.6L1286.5 321.6L1286.8 322L1287.1 322.9L1287.4 319L1287.7 327.4L1288 319.8L1288.3 322.3L1288.6 325L1288.9 324.8L1289.2 327.5L1289.5 326L1289.8 323.5L1290.1 324.9L1290.4 326.9L1290.7 329.1L1291 325.3L1291.3 326.7L1291.6 325.1L1291.9 321.1L1292.2 317.5L1292.5 319.8L1292.8 319.6L1293.1 316.1L1293.4 321.6L1293.7 324.7L1294 325L1294.3 320.1L1294.6 320L1294.9 318.2L1295.2 320.8L1295.5 321.4L1295.8 321.9L1296.1 321.3L1296.4 325.4L1296.7 323.7L1297 322.6L1297.3 322.4L1297.6 327.7L1297.9 323.2L1298.2 324.8L1298.5 319.7L1298.8 325L1299.1 323.3L1299.4 315.2L1299.7 324.2L1300 316.5L1300.3 315.1L1300.6 321.5L1300.9 324L1301.2 321.7L1301.5 320.3L1301.8 318.7L1302.1 319L1302.4 317.1L1302.7 290L1303 290L1303.3 335L1303.6 324.2L1303.9 326.7L1304.2 323.9L1304.5 321.4L1304.8 313.5L1305.1 311.9L1305.4 311L1305.7 311.2L1306 316.6L1306.3 309.6L1306.6 315.3L1306.9 318.6L1307.2 316.8L1307.5 317.6L1307.8 304.3L1308.1 309.8L1308.4 312.6L1308.7 312.5L1309 312.3L1309.3 311L1309.6 310L1309.9 310.1L1310.2 313.1L1310.5 307.8L1310.8 308.1L1311.1 311.5L1311.4 309.3L1311.7 308.9L1312 305.5L1312.3 305.6L1312.6 308.9L1312.9 302.8L1313.2 304.9L1313.5 309.2L1313.8 310.5L1314.1 311.1L1314.4 312.5L1314.7 306.4L1315 304.8L1315.3 308.4L1315.6 306.8L1315.9 305.1L1316.2 309.3L1316.5 312.5L1316.8 314.1L1317.1 313.2L1317.4 311.8L1317.7 317.5L1318 313.6L1318.3 312.3L1318.6 312L1318.9 313.1L1319.2 313.4L1319.5 314.9L1319.8 312.7L1320.1 315.5L1320.4 317.7L1320.7 318L1321 316.5L1321.3 315.2L1321.6 320.8L1321.9 318.1L1322.2 321.8L1322.5 324.1L1322.8 314L1323.1 319.3L1323.4 318.8L1323.7 315.5L1324 319.3L1324.3 320.6L1324.6 320.1L1324.9 321.5L1325.2 319.5L1325.5 319.2L1325.8 324.1L1326.1 322.1L1326.4 317.6L1326.7 312.7L1327 315.7L1327.3 314.4L1327.6 315.6L1327.9 320L1328.2 318.7L1328.5 318.1L1328.8 318.9L1329.1 325.3L1329.4 326.6L1329.7 323.1L1330 320.4L1330.3 322L1330.6 317.9L1330.9 316.3L1331.2 319.4L1331.5 318.8L1331.8 319.3L1332.1 320.8L1332.4 321.3L1332.7 323.2L1333 319.7L1333.3 321.3L1333.6 322.5L1333.9 324.6L1334.2 323.1L1334.5 319.5L1334.8 315.2L1335.1 319.2L1335.4 317L1335.7 320.2L1336 321.9L1336.3 319.5L1336.6 322.5L1336.9 324.2L1337.2 320.3L1337.5 321.5L1337.8 321.5L1338.1 316.7L1338.4 319L1338.7 323L1339 323.5L1339.3 325.9L1339.6 321.3L1339.9 322.1L1340.2 321.2L1340.5 322L1340.8 322.1L1341.1 324.3L1341.4 325.7L1341.7 326.3L1342 323.8L1342.3 325.6L1342.6 323.2L1342.9 324.8L1343.2 329L1343.5 330.7L1343.8 328.2L1344.1 323L1344.4 326L1344.7 331L1345 329.9L1345.3 328.6L1345.6 327.4L1345.9 325.9L1346.2 322.7L1346.5 324.3L1346.8 323L1347.1 326.9L1347.4 329.1L1347.7 326.6L1348 324.3L1348.3 323.6L1348.6 325.3L1348.9 328.3L1349.2 327.8L1349.5 319.5L1349.8 323.1L1350.1 331L1350.4 328.1L1350.7 327.2L1351 326.9L1351.3 323.5L1351.6 319L1351.9 325.3L1352.2 318.7L1352.5 323.8L1352.8 323.3L1353.1 323.3L1353.4 318.8L1353.7 322.1L1354 319.3L1354.3 318.1L1354.6 318.1L1354.9 319.6L1355.2 318.2L1355.5 319.2L1355.8 322.5L1356.1 321.3L1356.4 316.2L1356.7 319.9L1357 315.1L1357.3 312.3L1357.6 319.8L1357.9 316.1L1358.2 309.3L1358.5 314.6L1358.8 313.6L1359.1 314.5L1359.4 312.9L1359.7 303.1L1360 303.1L1360.3 311.1L1360.6 302.8L1360.9 300.5L1361.2 298.1L1361.5 295.8L1361.8 301L1362.1 301.2L1362.4 299.9L1362.7 298.9L1363 294.6L1363.3 300.5L1363.6 305.4L1363.9 303.8L1364.2 293.9L1364.5 297.7L1364.8 332L1365.1 293.8L1365.4 287.1L1365.7 288.8L1366 292.7L1366.3 290.6L1366.6 287.3L1366.9 290.6L1367.2 290.6L1367.5 286.7L1367.8 294.4L1368.1 297.1L1368.4 296.4L1368.7 285.8L1369 298.1L1369.3 300.1L1369.6 285.6L1369.9 288.7L1370.2 298.3L1370.5 330L1370.8 279.4L1371.1 284.1L1371.4 283.9L1371.7 286.4L1372 289.9L1372.3 298.9L1372.6 295.1L1372.9 294.1L1373.2 286.2L1373.5 294.2L1373.8 293.5L1374.1 290.3L1374.4 293.9L1374.7 289.4L1375 281.5L1375.3 281L1375.6 296.3L1375.9 294L1376.2 214L1376.5 214L1376.8 214L1377.1 289.1L1377.4 287.3L1377.7 283.8L1378 289.9L1378.3 289.1L1378.6 292.2L1378.9 275.9L1379.2 289.4L1379.5 294.4L1379.8 297.4L1380.1 290.3L1380.4 291.8L1380.7 285.4L1381 276.9L1381.3 297.2L1381.6 293.6L1381.9 291.4L1382.2 295.4L1382.5 284.2L1382.8 283.4L1383.1 296.9L1383.4 294.7L1383.7 303.1L1384 295.4L1384.3 301.3L1384.6 293L1384.9 291.8L1385.2 288.3L1385.5 292.1L1385.8 289.6L1386.1 283.5L1386.4 282.7L1386.7 290.9L1387 284.1L1387.3 285.7L1387.6 282.1L1387.9 288.7L1388.2 287L1388.5 295.1L1388.8 291.5L1389.1 293.6L1389.4 284.6L1389.7 290.6L1390 277.2L1390.3 289.6L1390.6 288.7L1390.9 293.3L1391.2 280.4L1391.5 284.7L1391.8 277.7L1392.1 282.7L1392.4 282.9L1392.7 280.7L1393 276.9L1393.3 287L1393.6 290.6L1393.9 287L1394.2 291.3L1394.5 288.7L1394.8 286.3L1395.1 284.3L1395.4 291.6L1395.7 285.1L1396 287.1L1396.3 286.1L1396.6 282.5L1396.9 287.4L1397.2 280.2L1397.5 285.6L1397.8 274.3L1398.1 276.5L1398.4 280.1L1398.7 284.5L1399 289.3L1399.3 282.8L1399.6 284.5L1399.9 282.1L1400.2 285.2L1400.5 290L1400.8 295.4L1401.1 292L1401.4 290.8L1401.7 281.3L1402 285.3L1402.3 282L1402.6 282.9L1402.9 289.5L1403.2 285.7L1403.5 282.9L1403.8 279.4L1404.1 282.6L1404.4 283.5L1404.7 290.9L1405 283.5L1405.3 288.2L1405.6 293.1L1405.9 285.4L1406.2 275.9L1406.5 280.2L1406.8 290.6L1407.1 286L1407.4 286.2L1407.7 291.1L1408 287.2L1408.3 275.1L1408.6 288.8L1408.9 280.7L1409.2 286.4L1409.5 287.9L1409.8 287.3L1410.1 278.4L1410.4 287.1L1410.7 283.8L1411 272L1411.3 277.1L1411.6 278.2L1411.9 284.3L1412.2 277.1L1412.5 273.8L1412.8 282.5L1413.1 290.2L1413.4 287.9L1413.7 282.3L1414 281.8L1414.3 282.6L1414.6 283.8L1414.9 288.3L1415.2 281.5L1415.5 289.4L1415.8 293.7L1416.1 287.9L1416.4 295.7L1416.7 289.2L1417 287L1417.3 294.3L1417.6 283.8L1417.9 293.2L1418.2 282.9L1418.5 284.9L1418.8 288.7L1419.1 284.5L1419.4 284L1419.7 279L1420 283.3L1420.3 288.6L1420.6 286.4L1420.9 290.7L1421.2 286.1L1421.5 288.4L1421.8 285.5L1422.1 293.1L1422.4 285.1L1422.7 286.1L1423 289.8L1423.3 279.6L1423.6 290L1423.9 289.4L1424.2 288L1424.5 288.3L1424.8 289.7L1425.1 285.4L1425.4 287.2L1425.7 281.1L1426 282.7L1426.3 287.2L1426.6 284.5L1426.9 290.3L1427.2 283.3L1427.5 281.7L1427.8 284.2L1428.1 281.9L1428.4 291.9L1428.7 293.7L1429 278.5L1429.3 286.6L1429.6 285.5L1429.9 286L1430.2 282.9L1430.5 287.6L1430.8 287.3L1431.1 290.4L1431.4 283.8L1431.7 279.7L1432 282.4L1432.3 278.8L1432.6 281.2L1432.9 291L1433.2 287.5L1433.5 287.9L1433.8 294.5L1434.1 297.6L1434.4 289.4L1434.7 286.5L1435 286.9L1435.3 283.6L1435.6 289.8L1435.9 288.3L1436.2 287.4L1436.5 287.5L1436.8 284.9L1437.1 289.6L1437.4 281.3L1437.7 282.7L1438 277.2L1438.3 278L1438.6 279.4L1438.9 284.3L1439.2 284.9L1439.5 293.8L1439.8 291L1440.1 288.1L1440.4 286.8L1440.7 283.3L1441 288.2L1441.3 293.7L1441.6 298.3L1441.9 301.6L1442.2 291.4L1442.5 285.1L1442.8 291.8L1443.1 291.6L1443.4 293.2L1443.7 298.5L1444 297.8L1444.3 295.7L1444.6 292.7L1444.9 283.8L1445.2 290.8L1445.5 288.2L1445.8 290.7L1446.1 288.3L1446.4 296.3L1446.7 285.5L1447 289.6L1447.3 290.9L1447.6 297.3L1447.9 299.2L1448.2 298.3L1448.5 287.9L1448.8 281.8L1449.1 291.5L1449.4 321L1449.7 296.6L1450 295.4L1450.3 291.2L1450.6 290.3L1450.9 293.4L1451.2 288.8L1451.5 292.9L1451.8 285L1452.1 284.9L1452.4 293.7L1452.7 290.1L1453 291.4L1453.3 285.7L1453.6 282.5L1453.9 287.4L1454.2 285.8L1454.5 291.7L1454.8 287.1L1455.1 288.1L1455.4 293.7L1455.7 284.9L1456 291.9L1456.3 290.4L1456.6 287L1456.9 290.8L1457.2 299.5L1457.5 291.1L1457.8 288.5L1458.1 288.9L1458.4 282.3L1458.7 280.2L1459 283L1459.3 288.5L1459.6 296.8L1459.9 287.6L1460.2 283.7L1460.5 288.4L1460.8 285.5L1461.1 292.3L1461.4 291.9L1461.7 288.7L1462 289.8L1462.3 287.7L1462.6 280.7L1462.9 280.8L1463.2 285.2L1463.5 291.2L1463.8 291.6L1464.1 300.6L1464.4 299.8L1464.7 297.2L1465 293.4L1465.3 290.1L1465.6 283.2L1465.9 274.1L1466.2 274.3L1466.5 289.6L1466.8 295.2L1467.1 284.9L1467.4 282.7L1467.7 295.1L1468 287.4L1468.3 294.5L1468.6 287L1468.9 305L1469.2 286.5L1469.5 278L1469.8 287.4L1470.1 285.7L1470.4 288.7L1470.7 283.3L1471 285.6L1471.3 288L1471.6 278.8L1471.9 286.9L1472.2 286.5L1472.5 296.7L1472.8 295.8L1473.1 293.5L1473.4 292.2L1473.7 290.5L1474 296.2L1474.3 287.2L1474.6 289.4L1474.9 289.2L1475.2 280.4L1475.5 289.4L1475.8 291L1476.1 283.4L1476.4 289.6L1476.7 283.4L1477 287.7L1477.3 286L1477.6 296.5L1477.9 290.4L1478.2 286.4L1478.5 290.8L1478.8 290.5L1479.1 291.3L1479.4 295.7L1479.7 294.1L1480 293.6L1480.3 297.1L1480.6 298.6L1480.9 279.8L1481.2 285.8L1481.5 288.5L1481.8 289.4L1482.1 297.3L1482.4 299.1L1482.7 296L1483 290.6L1483.3 293.8L1483.6 286.8L1483.9 293.1L1484.2 284L1484.5 301L1484.8 289.3L1485.1 294.2L1485.4 289.1L1485.7 295.4L1486 287.4L1486.3 294.9L1486.6 296.5L1486.9 301.1L1487.2 303.3L1487.5 287.7L1487.8 298.3L1488.1 302.4L1488.4 292.9L1488.7 288.8L1489 299.4L1489.3 293.3L1489.6 288.4L1489.9 284.8L1490.2 290.2L1490.5 293.3L1490.8 304.5L1491.1 301.5L1491.4 306.2L1491.7 299.4L1492 295.2L1492.3 299L1492.6 300.3L1492.9 295.7L1493.2 297L1493.5 298.3L1493.8 302.4L1494.1 300.2L1494.4 300.6L1494.7 295.1L1495 292.7L1495.3 300.3L1495.6 297.4L1495.9 301.2L1496.2 291.7L1496.5 303.9L1496.8 305.5L1497.1 296.5L1497.4 303L1497.7 295.7L1498 305.8L1498.3 301.1L1498.6 310.2L1498.9 298.9L1499.2 304.6L1499.5 300.1L1499.8 304.8L1500.1 303.6L1500.4 294.7L1500.7 301.4L1501 307L1501.3 302.2L1501.6 302L1501.9 298.5L1502.2 301.3L1502.5 297.2L1502.8 292.9L1503.1 298.7L1503.4 295.3L1503.7 296.1L1504 302.2L1504.3 300.9L1504.6 296.7L1504.9 290.2L1505.2 291.3L1505.5 294.8L1505.8 293.1L1506.1 297.6L1506.4 290.2L1506.7 300.8L1507 298.2L1507.3 300.5L1507.6 300.1L1507.9 304.1L1508.2 299.1L1508.5 303.9L1508.8 297.7L1509.1 308.8L1509.4 304.7L1509.7 307.8L1510 307.8L1510.3 300.4L1510.6 308.5L1510.9 304.5L1511.2 302L1511.5 303.7L1511.8 310L1512.1 301.7L1512.4 311.1L1512.7 317.7L1513 308.6L1513.3 310.4L1513.6 310.5L1513.9 303.3L1514.2 307.1L1514.5 304.8L1514.8 305.7L1515.1 301.3L1515.4 304.4L1515.7 308.4L1516 312.4L1516.3 309.3L1516.6 304.9L1516.9 312.5L1517.2 308.2L1517.5 308.6L1517.8 315.2L1518.1 316L1518.4 313.8L1518.7 310.6L1519 310.7L1519.3 313.6L1519.6 309.6L1519.9 314L1520.2 314.3L1520.5 313.8L1520.8 312L1521.1 317.9L1521.4 314.7L1521.7 309.7L1522 308.9L1522.3 310.7L1522.6 314L1522.9 310.6L1523.2 312.9L1523.5 310.2L1523.8 305.8L1524.1 309.4L1524.4 312.8L1524.7 315.7L1525 340L1525.3 304.8L1525.6 313L1525.9 308.1L1526.2 310.4L1526.5 313.9L1526.8 312.2L1527.1 314.7L1527.4 309.2L1527.7 310.4L1528 313.6L1528.3 311.6L1528.6 307.1L1528.9 313.1L1529.2 310.6L1529.5 313.4L1529.8 314L1530.1 310.6L1530.4 314.2L1530.7 313.6L1531 318.3L1531.3 306.4L1531.6 307.7L1531.9 313.8L1532.2 309.9L1532.5 316.1L1532.8 308.5L1533.1 309.2L1533.4 310.2L1533.7 310.5L1534 310.6L1534.3 306.8L1534.6 304.2L1534.9 309.1L1535.2 313.5L1535.5 313.3L1535.8 311.4L1536.1 311.2L1536.4 311.2L1536.7 305.5L1537 309.9L1537.3 307.4L1537.6 311.3L1537.9 306.8L1538.2 311.1L1538.5 307.5L1538.8 309.2L1539.1 309.9L1539.4 308.8L1539.7 313.6L1540 313.2L1540.3 314.6L1540.6 316.8L1540.9 317.8L1541.2 317.1L1541.5 315.3L1541.8 312.1L1542.1 318.6L1542.4 312.3L1542.7 311.3L1543 315.2L1543.3 318.8L1543.6 314.1L1543.9 316.9L1544.2 314.4L1544.5 316.6L1544.8 319.8L1545.1 320L1545.4 317.5L1545.7 317.6L1546 319.8L1546.3 317L1546.6 314.4L1546.9 313.3L1547.2 309.7L1547.5 317.9L1547.8 313L1548.1 319.3L1548.4 314.9L1548.7 309.8L1549 313L1549.3 315.4L1549.6 318.6L1549.9 319.2L1550.2 317.5L1550.5 314.6L1550.8 317.4L1551.1 315.8L1551.4 315.2L1551.7 318.2L1552 321.1L1552.3 326.8L1552.6 320L1552.9 331L1553.2 315.7L1553.5 315.3L1553.8 318L1554.1 321.3L1554.4 320.3L1554.7 324.9L1555 326.1L1555.3 319.9L1555.6 318L1555.9 318.8L1556.2 321.3L1556.5 319.6L1556.8 318.1L1557.1 320.8L1557.4 325.6L1557.7 325.1L1558 321.2L1558.3 321.3L1558.6 322.7L1558.9 317.9L1559.2 319.5L1559.5 323.9L1559.8 325.7L1560.1 322.3L1560.4 321.8L1560.7 322.2L1561 319L1561.3 329.2L1561.6 325.4L1561.9 324.6L1562.2 330.1L1562.5 326.2L1562.8 328.1L1563.1 325.8L1563.4 320.2L1563.7 321.2L1564 327.9L1564.3 325.2L1564.6 325.7L1564.9 321.3L1565.2 323.1L1565.5 323.4L1565.8 327L1566.1 326.7L1566.4 322.4L1566.7 327.4L1567 323.7L1567.3 326L1567.6 325.4L1567.9 327.2L1568.2 328.7L1568.5 322L1568.8 321.4L1569.1 323.7L1569.4 337L1569.7 323L1570 324.3L1570.3 325L1570.6 325.1L1570.9 325.2L1571.2 324.9L1571.5 326.2L1571.8 324.2L1572.1 321.7L1572.4 325.5L1572.7 326.2L1573 327.1L1573.3 328.2L1573.6 326.7L1573.9 324.1L1574.2 323.1L1574.5 318.5L1574.8 319.5L1575.1 320L1575.4 318.3L1575.7 325.4L1576 321.9L1576.3 322.6L1576.6 322.4L1576.9 322.3L1577.2 324.1L1577.5 321.8L1577.8 320.5L1578.1 322.7L1578.4 321.6L1578.7 318.5L1579 320.7L1579.3 322.4L1579.6 321.3L1579.9 323.7L1580.2 323.9L1580.5 324.1L1580.8 320.9L1581.1 323.6L1581.4 324.1L1581.7 327.5L1582 324.9L1582.3 326.1L1582.6 326.1L1582.9 326.1L1583.2 326.9L1583.5 326.5L1583.8 323.6L1584.1 326.1L1584.4 327.6L1584.7 328.5L1585 325.2L1585.3 325.9L1585.6 329.4L1585.9 330.7L1586.2 330.4L1586.5 329.5L1586.8 326.1L1587.1 327.9L1587.4 328.1L1587.7 329.9L1588 330.2L1588.3 328.7L1588.6 331.6L1588.9 330.7L1589.2 328.5L1589.5 329.1L1589.8 328.4L1590.1 327.3L1590.4 329.5L1590.7 329.1L1591 331L1591.3 331.4L1591.6 332.9L1591.9 329.9L1592.2 328.5L1592.5 329.3L1592.8 332.3L1593.1 330L1593.4 330.1L1593.7 332.3L1594 331.9L1594.3 331.8L1594.6 329.8L1594.9 329.7L1595.2 330.1L1595.5 328.7L1595.8 329.8L1596.1 331.9L1596.4 329.6L1596.7 332.8L1597 332.1L1597.3 332.4L1597.6 332.8L1597.9 331.2L1598.2 331.6L1598.5 333.8L1598.8 335.5L1599.1 278L1599.4 278L1599.7 278L1600 338.8L1600.3 341.9L1600.6 344L1600.9 342.9L1601.2 341.6L1601.5 343L1601.8 342.6L1602.1 341.9L1602.4 342.6L1602.7 342.7L1603 340.1L1603.3 341.2L1603.6 339.7L1603.9 340.3L1604.2 339.1L1604.5 338.5L1604.8 338.3L1605.1 338.6L1605.4 338.9L1605.7 338.4L1606 337.4L1606.3 338.1L1606.6 337.7L1606.9 336.8L1607.2 338L1607.5 336.7L1607.8 335.3L1608.1 336.4L1608.4 335.2L1608.7 333.2L1609 333.3L1609.3 334.5L1609.6 334.3L1609.9 335.8L1610.2 332.5L1610.5 333.9L1610.8 330.8L1611.1 330.6L1611.4 333.8L1611.7 333.3L1612 331.1L1612.3 330.8L1612.6 331.5L1612.9 331.3L1613.2 332.8L1613.5 333L1613.8 331.8L1614.1 332.8L1614.4 332.6L1614.7 334.7L1615 334.8L1615.3 334.4L1615.6 334.7L1615.9 333.8L1616.2 336.5L1616.5 337.4L1616.8 336.7L1617.1 337.3L1617.4 336.5L1617.7 337L1618 337.7L1618.3 338L1618.6 339.7L1618.9 340.2L1619.2 338.8L1619.5 337.6L1619.8 339.9L1620.1 341.9L1620.4 339.5L1620.7 338.7L1621 337.3L1621.3 338.7L1621.6 336.6L1621.9 335.8L1622.2 334.9L1622.5 334.8L1622.8 332.5L1623.1 333.7L1623.4 334.5L1623.7 332.7L1624 331.9L1624.3 331.9L1624.6 332.4L1624.9 332.3L1625.2 333.1L1625.5 336L1625.8 334.7L1626.1 335.8L1626.4 337.7L1626.7 336.9L1627 336.4L1627.3 336L1627.6 335.8L1627.9 335.9L1628.2 336L1628.5 336L1628.8 337L1629.1 336.8L1629.4 335.8L1629.7 335.5L1630 336.7L1630.3 336.7L1630.6 338.4L1630.9 337.8L1631.2 338.2L1631.5 336.7L1631.8 337.5L1632.1 337.9L1632.4 337.4L1632.7 337.7L1633 336.5L1633.3 337.5L1633.6 336.4L1633.9 336.3L1634.2 338.7L1634.5 340.8L1634.8 339.1L1635.1 338L1635.4 338.9L1635.7 339.3L1636 341L1636.3 337.9L1636.6 338.8L1636.9 340.4L1637.2 338.2L1637.5 339.8L1637.8 341.5L1638.1 341.9L1638.4 342L1638.7 340.9L1639 339.7L1639.3 339.5L1639.6 339.8L1639.9 341.6L1640.2 339.3L1640.5 341L1640.8 342L1641.1 340.2L1641.4 339.9L1641.7 342.8L1642 341.3L1642.3 340.1L1642.6 341L1642.9 341.8L1643.2 341.6L1643.5 338.8L1643.8 340.9L1644.1 341.7L1644.4 340.8L1644.7 340.4L1645 339.6L1645.3 340.7L1645.6 342.5L1645.9 343.1L1646.2 343.2L1646.5 343.2L1646.8 343.4L1647.1 343L1647.4 341.4L1647.7 342.5L1648 341.3L1648.3 341.4L1648.6 343.2L1648.9 340.9L1649.2 344.1L1649.5 343.5L1649.8 341.9L1650.1 342.5L1650.4 342.4L1650.7 343.4L1651 344.9L1651.3 344.3L1651.6 343.6L1651.9 343.6L1652.2 345L1652.5 343.8L1652.8 344L1653.1 345.1L1653.4 343.3L1653.7 344.2L1654 345.4L1654.3 346.3L1654.6 344.5L1654.9 343.3L1655.2 343.6L1655.5 343.3L1655.8 345L1656.1 344.1L1656.4 343.5L1656.7 344.3L1657 343.7L1657.3 343.7L1657.6 344L1657.9 344.1L1658.2 343.8L1658.5 343.8L1658.8 343.5L1659.1 341.2L1659.4 343.2L1659.7 340.8L1660 344.5L1660.3 342.4L1660.6 343.6L1660.9 343.4L1661.2 343.6L1661.5 343.7L1661.8 343.8L1662.1 343.6L1662.4 344.1L1662.7 343.6L1663 344.3L1663.3 343.3L1663.6 344L1663.9 343.5L1664.2 344.1L1664.5 343.8L1664.8 343.5L1665.1 343.9L1665.4 344.5L1665.7 343.7L1666 345.7L1666.3 345.5L1666.6 342.7L1666.9 342.2L1667.2 343.7L1667.5 343.7L1667.8 342.8L1668.1 341.9L1668.4 344.4L1668.7 344.8L1669 343.6L1669.3 342.7L1669.6 344.1L1669.9 344.8L1670.2 345.8L1670.5 343.5L1670.8 343.3L1671.1 342.6L1671.4 343.6L1671.7 341.3L1672 342.8L1672.3 345.3L1672.6 343.5L1672.9 342.5L1673.2 342.4L1673.5 313L1673.8 313L1674.1 342.4L1674.4 343.4L1674.7 342.5L1675 342.4L1675.3 343L1675.6 342.1L1675.9 340.3L1676.2 342.2L1676.5 342.7L1676.8 342.1L1677.1 342L1677.4 343.4L1677.7 344L1678 344.5L1678.3 341.7L1678.6 342.4L1678.9 344.6L1679.2 344L1679.5 341.9L1679.8 341.8L1680.1 343.5L1680.4 344L1680.7 342.9L1681 342.8L1681.3 341.3L1681.6 344.5L1681.9 343.6L1682.2 344L1682.5 343.9L1682.8 342.6L1683.1 345.5L1683.4 344.5L1683.7 344.6L1684 344.8L1684.3 344.8L1684.6 344.5L1684.9 344.3L1685.2 343.6L1685.5 344.4L1685.8 343.4L1686.1 344L1686.4 342.7L1686.7 343L1687 343.9L1687.3 343.9L1687.6 342.2L1687.9 342.6L1688.2 343.8L1688.5 343.6L1688.8 344.5L1689.1 344.1L1689.4 343.8L1689.7 343.1L1690 342.9L1690.3 342.9L1690.6 341.7L1690.9 341.4L1691.2 343.8L1691.5 340.6L1691.8 340.6L1692.1 339.3L1692.4 340.1L1692.7 338.2L1693 337.1L1693.3 336.8L1693.6 336.1L1693.9 336.6L1694.2 335.5L1694.5 334.5L1694.8 333.3L1695.1 331.6L1695.4 333.2L1695.7 332.5L1696 331.9L1696.3 332.4L1696.6 332.2L1696.9 332L1697.2 330.4L1697.5 329.1L1697.8 327.3L1698.1 328.1L1698.4 327.9L1698.7 327.8L1699 326.9L1699.3 325.7L1699.6 325L1699.9 324.4L1700.2 326L1700.5 326.5L1700.8 326.6L1701.1 326L1701.4 326.3L1701.7 327.8L1702 327.2L1702.3 329.2L1702.6 329.4L1702.9 330.2L1703.2 329.8L1703.5 329.8L1703.8 330.2L1704.1 329.9L1704.4 330.2L1704.7 330.3L1705 331L1705.3 330.2L1705.6 331.9L1705.9 330.7L1706.2 327.9L1706.5 329.6L1706.8 329.7L1707.1 331L1707.4 332.6L1707.7 333.5L1708 333.2L1708.3 334.3L1708.6 332.6L1708.9 332.9L1709.2 333.5L1709.5 334.1L1709.8 333.1L1710.1 333.1L1710.4 335.1L1710.7 335.6L1711 337L1711.3 335.4L1711.6 336.6L1711.9 336.1L1712.2 337.2L1712.5 337.8L1712.8 337L1713.1 338.8L1713.4 339L1713.7 339.4L1714 339.8L1714.3 339.6L1714.6 340.9L1714.9 339.9L1715.2 340.8L1715.5 340L1715.8 340.5L1716.1 340.2L1716.4 341.5L1716.7 339.9L1717 339.7L1717.3 340.3L1717.6 341L1717.9 342.2L1718.2 342.7L1718.5 342.4L1718.8 342.7L1719.1 342.9L1719.4 342.2L1719.7 342.7L1720 341.9L1720.3 340.5L1720.6 339.5L1720.9 339.5L1721.2 338.4L1721.5 337.6L1721.8 337.4L1722.1 336.2L1722.4 336.6L1722.7 337.4L1723 335.8L1723.3 335.6L1723.6 334.5L1723.9 336.4L1724.2 335.3L1724.5 335.1L1724.8 335.7L1725.1 336L1725.4 337.7L1725.7 336L1726 338.5L1726.3 338.9" fill="none" stroke="#f00" stroke-width="2.5" stroke-linejoin="round"/>
<line x1="1726" y1="110.1" x2="1726" y2="454.9" stroke="#1f77b4" stroke-width="2.0" stroke-dasharray="2.1 3.4"/>
<line x1="1244.8" y1="454.9" x2="1244.8" y2="449.9" stroke="#000" stroke-width="1.1"/>
<line x1="1319.2" y1="454.9" x2="1319.2" y2="449.9" stroke="#000" stroke-width="1.1"/>
<line x1="1393.6" y1="454.9" x2="1393.6" y2="449.9" stroke="#000" stroke-width="1.1"/>
<line x1="1468" y1="454.9" x2="1468" y2="449.9" stroke="#000" stroke-width="1.1"/>
<line x1="1542.4" y1="454.9" x2="1542.4" y2="449.9" stroke="#000" stroke-width="1.1"/>
<line x1="1616.8" y1="454.9" x2="1616.8" y2="449.9" stroke="#000" stroke-width="1.1"/>
<line x1="1691.2" y1="454.9" x2="1691.2" y2="449.9" stroke="#000" stroke-width="1.1"/>
<line x1="1765.6" y1="454.9" x2="1765.6" y2="449.9" stroke="#000" stroke-width="1.1"/>
<line x1="1205" y1="454.9" x2="1210" y2="454.9" stroke="#000" stroke-width="1.1"/>
<text x="1200.1" y="462.1" font-size="19.44" text-anchor="end" fill="#000">−20</text>
<line x1="1205" y1="411.8" x2="1210" y2="411.8" stroke="#000" stroke-width="1.1"/>
<text x="1200.1" y="419" font-size="19.44" text-anchor="end" fill="#000">−15</text>
<line x1="1205" y1="368.7" x2="1210" y2="368.7" stroke="#000" stroke-width="1.1"/>
<text x="1200.1" y="375.9" font-size="19.44" text-anchor="end" fill="#000">−10</text>
<line x1="1205" y1="325.6" x2="1210" y2="325.6" stroke="#000" stroke-width="1.1"/>
<text x="1200.1" y="332.8" font-size="19.44" text-anchor="end" fill="#000">−5</text>
<line x1="1205" y1="282.5" x2="1210" y2="282.5" stroke="#000" stroke-width="1.1"/>
<text x="1200.1" y="289.7" font-size="19.44" text-anchor="end" fill="#000">0</text>
<line x1="1205" y1="239.4" x2="1210" y2="239.4" stroke="#000" stroke-width="1.1"/>
<text x="1200.1" y="246.6" font-size="19.44" text-anchor="end" fill="#000">5</text>
<line x1="1205" y1="196.3" x2="1210" y2="196.3" stroke="#000" stroke-width="1.1"/>
<text x="1200.1" y="203.5" font-size="19.44" text-anchor="end" fill="#000">10</text>
<line x1="1205" y1="153.2" x2="1210" y2="153.2" stroke="#000" stroke-width="1.1"/>
<text x="1200.1" y="160.4" font-size="19.44" text-anchor="end" fill="#000">15</text>
<line x1="1205" y1="110.1" x2="1210" y2="110.1" stroke="#000" stroke-width="1.1"/>
<text x="1200.1" y="117.3" font-size="19.44" text-anchor="end" fill="#000">20</text>
<line x1="1800" y1="454.9" x2="1795" y2="454.9" stroke="#f00" stroke-width="1.1"/>
<text x="1805" y="462.1" font-size="19.44" text-anchor="start" fill="#f00">0</text>
<line x1="1800" y1="385.9" x2="1795" y2="385.9" stroke="#f00" stroke-width="1.1"/>
<text x="1805" y="393.1" font-size="19.44" text-anchor="start" fill="#f00">200</text>
<line x1="1800" y1="317" x2="1795" y2="317" stroke="#f00" stroke-width="1.1"/>
<text x="1805" y="324.2" font-size="19.44" text-anchor="start" fill="#f00">400</text>
<line x1="1800" y1="248" x2="1795" y2="248" stroke="#f00" stroke-width="1.1"/>
<text x="1805" y="255.2" font-size="19.44" text-anchor="start" fill="#f00">600</text>
<line x1="1800" y1="179.1" x2="1795" y2="179.1" stroke="#f00" stroke-width="1.1"/>
<text x="1805" y="186.3" font-size="19.44" text-anchor="start" fill="#f00">800</text>
<line x1="1800" y1="110.1" x2="1795" y2="110.1" stroke="#f00" stroke-width="1.1"/>
<text x="1805" y="117.3" font-size="19.44" text-anchor="start" fill="#f00">1000</text>
<path d="M1205 110.1H1800M1205 454.9H1800M1205 110.1V454.9" fill="none" stroke="#000" stroke-width="2" stroke-linecap="square"/>
<path d="M1800 110.1V454.9" fill="none" stroke="#f00" stroke-width="2" stroke-linecap="square"/>
<text x="1115.9" y="283.5" font-size="24.00" text-anchor="middle" fill="#000" transform="rotate(-90 1115.9 283.5)">IMF Bz</text>
<text x="1146.1" y="282" font-size="24.00" text-anchor="middle" fill="#000" transform="rotate(-90 1146.1 282)">( nT )</text>
<text x="1879.3" y="283.3" font-size="24.00" text-anchor="middle" fill="#f00" transform="rotate(-90 1879.3 283.3)">SW Velocity</text>
<text x="1912" y="283" font-size="24.00" text-anchor="middle" fill="#f00" transform="rotate(-90 1912 283)">( km s<tspan dy="-9.6" font-size="16.80">−1</tspan><tspan dy="9.6" font-size="24.00"> </tspan>)</text>
<line x1="1205" y1="512.4" x2="1800" y2="512.4" stroke="#000" stroke-width="2.0" stroke-dasharray="2.1 3.4"/>
<clipPath id="c5"><rect x="1205" y="478" width="595" height="343.9"/></clipPath>
<g clip-path="url(#c5)">
<path d="M1205.5 681L1205.8 695.2L1206.1 697.3L1206.4 667L1206.7 662.4L1207 658.8L1207.3 696.6L1207.6 685.1L1207.9 681.2L1208.2 687L1208.5 671.8L1208.8 677.2L1209.1 667.5L1209.4 684.8L1209.7 671.5L1210 683L1210.3 692.8L1210.6 682.1L1210.9 690.1L1211.2 669.8L1211.5 665.9L1211.8 680.4L1212.1 678.6L1212.4 665.3L1212.7 672.7L1213 692.3L1213.3 675.6L1213.6 680.2L1213.9 676.6L1214.2 682.2L1214.5 685L1214.8 688.2L1215.1 688L1215.4 691.3L1215.7 687.7L1216 684.4L1216.3 676.1L1216.6 646.9L1216.9 669.9L1217.2 670.2L1217.5 671.3L1217.8 660.3L1218.1 685L1218.4 661.7L1218.7 681.7L1219 678.6L1219.3 685.2L1219.6 691.2L1219.9 704.7L1220.2 700.5L1220.5 696.3L1220.8 699.6L1221.1 685.3L1221.4 682.8L1221.7 676.2L1222 683.3L1222.3 693.5L1222.6 683.3L1222.9 681.4L1223.2 674.2L1223.5 696.8L1223.8 684.4L1224.1 687.7L1224.4 680.2L1224.7 685.8L1225 662.4L1225.3 678.7L1225.6 673.9L1225.9 693.7L1226.2 690.8L1226.5 673.4L1226.8 658.2L1227.1 646L1227.4 670.1L1227.7 644.3L1228 695.5L1228.3 727L1228.6 727L1228.9 600.4L1229.2 578.1L1229.5 623.6L1229.8 596.4L1230.1 649.6L1230.4 625L1230.7 559.5L1231 576.8L1231.3 604.3L1231.6 649.2L1231.9 601.6L1232.2 597.1L1232.5 556L1232.8 635.6L1233.1 538.5L1233.4 598.6L1233.7 729L1234 729L1234.3 623.6L1234.6 639.2L1234.9 608.6L1235.2 528L1235.5 528L1235.8 585.5L1236.1 623.9L1236.4 593.3L1236.7 621.3L1237 601.5L1237.3 533L1237.6 533L1237.9 523.1L1238.2 572.6L1238.5 594.6L1238.8 610.2L1239.1 583L1239.4 534.2L1239.7 600.4L1240 568.7L1240.3 624L1240.6 629.7L1240.9 623.2L1241.2 665.2L1241.5 665.9L1241.8 619.6L1242.1 601.8L1242.4 665L1242.7 694L1243 655.6L1243.3 668.4L1243.6 660.6L1243.9 667.3L1244.2 711.8L1244.5 690.9L1244.8 682.8L1245.1 682L1245.4 665.9L1245.7 681.5L1246 701.7L1246.3 701.4L1246.6 678.8L1246.9 670L1247.2 686L1247.5 682.1L1247.8 679.7L1248.1 672L1248.4 688.2L1248.7 683L1249 681L1249.3 681.3L1249.6 685.7L1249.9 671L1250.2 667.6L1250.5 650.7L1250.8 678.9L1251.1 701.8L1251.4 696.8L1251.7 684.4L1252 670.1L1252.3 675.5L1252.6 673.7L1252.9 683.9L1253.2 679.5L1253.5 686.1L1253.8 678.5L1254.1 667.1L1254.4 697.1L1254.7 671.2L1255 667.2L1255.3 671.7L1255.6 674.6L1255.9 689.1L1256.2 688L1256.5 679.1L1256.8 687.2L1257.1 706.4L1257.4 691.7L1257.7 687.2L1258 691.3L1258.3 676.1L1258.6 710L1258.9 704L1259.2 682.2L1259.5 689.1L1259.8 664.4L1260.1 682.8L1260.4 682.1L1260.7 684.5L1261 674L1261.3 687.4L1261.6 669.7L1261.9 685.2L1262.2 672.2L1262.5 655.3L1262.8 663.4L1263.1 684.6L1263.4 656.9L1263.7 655.4L1264 666.5L1264.3 657.2L1264.6 660.1L1264.9 657.5L1265.2 669.7L1265.5 664.2L1265.8 676L1266.1 653.1L1266.4 675.8L1266.7 674.4L1267 668.8L1267.3 669.5L1267.6 661.6L1267.9 655.8L1268.2 678.6L1268.5 666.6L1268.8 654.6L1269.1 666.7L1269.4 667.2L1269.7 672.5L1270 661.9L1270.3 655.8L1270.6 652.7L1270.9 652.3L1271.2 668.1L1271.5 669.4L1271.8 673.1L1272.1 670.2L1272.4 660.5L1272.7 684.9L1273 666.6L1273.3 648.5L1273.6 668.5L1273.9 661.4L1274.2 660.8L1274.5 661.1L1274.8 666.4L1275.1 653.4L1275.4 657.6L1275.7 662.5L1276 675.5L1276.3 658L1276.6 656.9L1276.9 673.1L1277.2 670.9L1277.5 666.4L1277.8 657L1278.1 671.8L1278.4 664.5L1278.7 664.1L1279 664.1L1279.3 664.1L1279.6 671.1L1279.9 661.7L1280.2 640.6L1280.5 655L1280.8 660.6L1281.1 663.3L1281.4 656L1281.7 648.4L1282 664.6L1282.3 669.9L1282.6 647.9L1282.9 656.5L1283.2 653.5L1283.5 663.2L1283.8 658.7L1284.1 646.9L1284.4 670L1284.7 667.7L1285 658.8L1285.3 650.8L1285.6 647.1L1285.9 654.9L1286.2 639.9L1286.5 671.6L1286.8 654L1287.1 656.2L1287.4 652.8L1287.7 657.7L1288 665L1288.3 631.3L1288.6 656.7L1288.9 653.3L1289.2 664L1289.5 659L1289.8 638.4L1290.1 636.8L1290.4 660.2L1290.7 660.8L1291 649.2L1291.3 656.2L1291.6 643.6L1291.9 657.9L1292.2 646.5L1292.5 638.1L1292.8 646.6L1293.1 643.2L1293.4 650.9L1293.7 640.8L1294 642.4L1294.3 674.4L1294.6 661.4L1294.9 642.8L1295.2 644.6L1295.5 627.5L1295.8 658.1L1296.1 642L1296.4 654.8L1296.7 656.2L1297 654.4L1297.3 653.7L1297.6 655.4L1297.9 670.2L1298.2 650L1298.5 646.6L1298.8 608.6L1299.1 620.9L1299.4 613.6L1299.7 635L1300 645.4L1300.3 643.6L1300.6 611.7L1300.9 644.9L1301.2 640.6L1301.5 628.5L1301.8 606.7L1302.1 528L1302.4 528L1302.7 528L1303 609.2L1303.3 610.4L1303.6 604.1L1303.9 621.2L1304.2 616.8L1304.5 617.3L1304.8 608.1L1305.1 631.6L1305.4 637.6L1305.7 635.7L1306 595.8L1306.3 620.7L1306.6 631.3L1306.9 622.9L1307.2 628.2L1307.5 641.2L1307.8 636.1L1308.1 642.6L1308.4 656.5L1308.7 649.7L1309 638L1309.3 636.8L1309.6 636L1309.9 646L1310.2 639.3L1310.5 645.8L1310.8 633.9L1311.1 631.9L1311.4 647.6L1311.7 636.2L1312 627.8L1312.3 643.6L1312.6 661.6L1312.9 655.4L1313.2 697.9L1313.5 682.8L1313.8 670.1L1314.1 731L1314.4 731L1314.7 724.5L1315 710.8L1315.3 704.7L1315.6 684.4L1315.9 695.2L1316.2 682L1316.5 705.6L1316.8 696.1L1317.1 726L1317.4 726L1317.7 688.9L1318 676.2L1318.3 687.2L1318.6 707L1318.9 729.5L1319.2 696.3L1319.5 707.6L1319.8 680.1L1320.1 682L1320.4 649.2L1320.7 646.1L1321 679.2L1321.3 684.7L1321.6 680.5L1321.9 667.4L1322.2 613.6L1322.5 634.4L1322.8 626.1L1323.1 647.2L1323.4 647.1L1323.7 665.1L1324 678.3L1324.3 673L1324.6 659.8L1324.9 676.6L1325.2 648.2L1325.5 663L1325.8 639.9L1326.1 649.7L1326.4 661.9L1326.7 654.2L1327 634.4L1327.3 644.2L1327.6 657.8L1327.9 659.3L1328.2 685.1L1328.5 660.2L1328.8 650.7L1329.1 616.9L1329.4 628.2L1329.7 617.8L1330 658.5L1330.3 638.5L1330.6 618L1330.9 634.5L1331.2 636.6L1331.5 646.4L1331.8 645L1332.1 646.9L1332.4 637.3L1332.7 641L1333 610.4L1333.3 606.4L1333.6 625.4L1333.9 628.6L1334.2 611.9L1334.5 647.5L1334.8 638.6L1335.1 628.9L1335.4 637.8L1335.7 646.5L1336 611.3L1336.3 641L1336.6 638.3L1336.9 644.4L1337.2 645.7L1337.5 619.8L1337.8 648.4L1338.1 650.8L1338.4 660.5L1338.7 629.3L1339 647.5L1339.3 633.1L1339.6 627.9L1339.9 663.5L1340.2 644.1L1340.5 658.6L1340.8 654.3L1341.1 671.4L1341.4 656.6L1341.7 668L1342 678L1342.3 626.7L1342.6 655.4L1342.9 715L1343.2 715L1343.5 681.4L1343.8 671L1344.1 680.2L1344.4 675.2L1344.7 660.1L1345 688.2L1345.3 698L1345.6 688.9L1345.9 687.7L1346.2 673.4L1346.5 664.3L1346.8 681.5L1347.1 663.1L1347.4 668.3L1347.7 665.7L1348 656L1348.3 676.4L1348.6 671.4L1348.9 669.9L1349.2 695.5L1349.5 669L1349.8 656.9L1350.1 658.5L1350.4 673.1L1350.7 687.2L1351 671.5L1351.3 649.7L1351.6 633.5L1351.9 648.1L1352.2 675.5L1352.5 663.9L1352.8 642.1L1353.1 652.6L1353.4 639.3L1353.7 641.3L1354 655.2L1354.3 658.6L1354.6 651.3L1354.9 631.9L1355.2 646.5L1355.5 639.2L1355.8 627.5L1356.1 620.3L1356.4 627.7L1356.7 634.6L1357 632.3L1357.3 588.3L1357.6 616.9L1357.9 654.1L1358.2 616.1L1358.5 642.4L1358.8 644.3L1359.1 636.3L1359.4 655.2L1359.7 624.4L1360 630L1360.3 630.4L1360.6 642.3L1360.9 647.5L1361.2 679.9L1361.5 640L1361.8 647.8L1362.1 660.9L1362.4 641L1362.7 637.9L1363 658.4L1363.3 624L1363.6 647.6L1363.9 627.9L1364.2 633.8L1364.5 633.8L1364.8 659.6L1365.1 627.2L1365.4 604.9L1365.7 624.7L1366 619.5L1366.3 637.7L1366.6 650.1L1366.9 649.1L1367.2 622.3L1367.5 614L1367.8 642.6L1368.1 624L1368.4 756L1368.7 756L1369 756L1369.3 644.7L1369.6 647.2L1369.9 644.9L1370.2 644.1L1370.5 647.9L1370.8 634.1L1371.1 643.3L1371.4 633.5L1371.7 653L1372 646.1L1372.3 644.1L1372.6 649.9L1372.9 662.4L1373.2 662.7L1373.5 656.7L1373.8 643.5L1374.1 666.6L1374.4 639.5L1374.7 637.4L1375 672.8L1375.3 643L1375.6 659.4L1375.9 568L1376.2 568L1376.5 568L1376.8 651.8L1377.1 645.8L1377.4 641.5L1377.7 634L1378 658.3L1378.3 679.8L1378.6 646.6L1378.9 666.6L1379.2 668L1379.5 678.8L1379.8 678.2L1380.1 675.6L1380.4 657.3L1380.7 664.8L1381 661.4L1381.3 650.5L1381.6 668L1381.9 655.5L1382.2 675L1382.5 672.8L1382.8 650.1L1383.1 677L1383.4 669.6L1383.7 666.9L1384 634L1384.3 650.3L1384.6 651.7L1384.9 652.1L1385.2 648.1L1385.5 645.1L1385.8 676.6L1386.1 659L1386.4 635.8L1386.7 648.3L1387 651.3L1387.3 657.5L1387.6 661.2L1387.9 665.3L1388.2 656.9L1388.5 663.6L1388.8 701.7L1389.1 661.4L1389.4 643.1L1389.7 672.4L1390 661.1L1390.3 653.5L1390.6 646.2L1390.9 675.6L1391.2 653.6L1391.5 686.4L1391.8 689.4L1392.1 682.2L1392.4 663L1392.7 700.7L1393 655.8L1393.3 662.7L1393.6 650.1L1393.9 665.1L1394.2 668.3L1394.5 675.4L1394.8 664.1L1395.1 672.9L1395.4 662.3L1395.7 668L1396 655.6L1396.3 673.4L1396.6 675.2L1396.9 661.1L1397.2 665.3L1397.5 654.2L1397.8 684.5L1398.1 698.3L1398.4 677.6L1398.7 689.7L1399 679.1L1399.3 670.7L1399.6 655.8L1399.9 672.6L1400.2 655.1L1400.5 664.7L1400.8 674.6L1401.1 661L1401.4 653L1401.7 656.7L1402 672.2L1402.3 667.3L1402.6 678.4L1402.9 693.6L1403.2 664.4L1403.5 681.2L1403.8 675.6L1404.1 664.9L1404.4 661.7L1404.7 654.4L1405 666.7L1405.3 649L1405.6 638L1405.9 652L1406.2 666.9L1406.5 663.8L1406.8 659.1L1407.1 663.3L1407.4 679.7L1407.7 659.4L1408 670L1408.3 671.5L1408.6 655.7L1408.9 679.1L1409.2 666L1409.5 698.1L1409.8 669.5L1410.1 670.4L1410.4 699.6L1410.7 691.1L1411 674.9L1411.3 643.6L1411.6 683.2L1411.9 658.8L1412.2 677L1412.5 674.1L1412.8 676L1413.1 671.6L1413.4 667.2L1413.7 667L1414 671.4L1414.3 661.4L1414.6 665.3L1414.9 684.4L1415.2 657.1L1415.5 684.9L1415.8 685.9L1416.1 713.7L1416.4 692.7L1416.7 680.5L1417 683.4L1417.3 652.9L1417.6 679.4L1417.9 666.2L1418.2 693.9L1418.5 676L1418.8 679L1419.1 663.7L1419.4 668.4L1419.7 670.7L1420 682.8L1420.3 691L1420.6 673.1L1420.9 655L1421.2 652.2L1421.5 684.1L1421.8 686.6L1422.1 681.7L1422.4 677.9L1422.7 678.7L1423 675.5L1423.3 690.9L1423.6 680.3L1423.9 666.4L1424.2 667.7L1424.5 652.8L1424.8 682.8L1425.1 670L1425.4 672.8L1425.7 663.3L1426 667.8L1426.3 685.4L1426.6 681L1426.9 682.1L1427.2 694.8L1427.5 687.3L1427.8 672.1L1428.1 686.2L1428.4 665.9L1428.7 688.2L1429 683.3L1429.3 686.5L1429.6 683.5L1429.9 677.2L1430.2 660.6L1430.5 696.4L1430.8 674.5L1431.1 667.3L1431.4 680.5L1431.7 682.3L1432 674.1L1432.3 670.5L1432.6 685.4L1432.9 700.3L1433.2 682L1433.5 677.8L1433.8 689.8L1434.1 672.8L1434.4 658.6L1434.7 656.8L1435 667.1L1435.3 670.6L1435.6 649.5L1435.9 672.9L1436.2 677.8L1436.5 662.8L1436.8 673.9L1437.1 710.9L1437.4 676.2L1437.7 655.2L1438 657.8L1438.3 659L1438.6 659.6L1438.9 661.6L1439.2 667.7L1439.5 656.9L1439.8 672.8L1440.1 670.1L1440.4 673.5L1440.7 646.2L1441 680.9L1441.3 698.8L1441.6 675.7L1441.9 667.4L1442.2 665.7L1442.5 687.2L1442.8 645.9L1443.1 681.4L1443.4 654L1443.7 686.5L1444 676.7L1444.3 668L1444.6 651L1444.9 631.6L1445.2 630.6L1445.5 647.1L1445.8 675.6L1446.1 654.5L1446.4 631.8L1446.7 651L1447 648.8L1447.3 657.7L1447.6 647.9L1447.9 638.8L1448.2 646L1448.5 644.9L1448.8 674L1449.1 665.6L1449.4 669.5L1449.7 652L1450 546L1450.3 546L1450.6 546L1450.9 647L1451.2 654.4L1451.5 646.9L1451.8 661.6L1452.1 674.4L1452.4 659.5L1452.7 673.8L1453 669.4L1453.3 672.8L1453.6 677.7L1453.9 669.7L1454.2 666.8L1454.5 644.8L1454.8 652.2L1455.1 668.8L1455.4 702.7L1455.7 687.3L1456 666.7L1456.3 680.7L1456.6 697.8L1456.9 668.8L1457.2 683.5L1457.5 685.5L1457.8 665.1L1458.1 664.9L1458.4 651.7L1458.7 677.9L1459 690.7L1459.3 670.9L1459.6 684L1459.9 676.3L1460.2 673.6L1460.5 666.6L1460.8 667.3L1461.1 666.2L1461.4 676.9L1461.7 680.7L1462 676.4L1462.3 688.4L1462.6 662.9L1462.9 671.2L1463.2 746L1463.5 746L1463.8 684.6L1464.1 650.8L1464.4 676.6L1464.7 688.1L1465 677L1465.3 640.9L1465.6 694.9L1465.9 664.6L1466.2 666.5L1466.5 694L1466.8 666.6L1467.1 664.6L1467.4 686.9L1467.7 677.7L1468 678.2L1468.3 668.2L1468.6 666.9L1468.9 675.9L1469.2 645.9L1469.5 645L1469.8 654.6L1470.1 651.3L1470.4 681.9L1470.7 666.5L1471 666.1L1471.3 651L1471.6 674.9L1471.9 665.7L1472.2 660.2L1472.5 660.6L1472.8 658L1473.1 652.6L1473.4 666L1473.7 680.1L1474 692.7L1474.3 649.3L1474.6 662.8L1474.9 704.3L1475.2 682.7L1475.5 660.7L1475.8 672.4L1476.1 664.5L1476.4 684.1L1476.7 686.2L1477 674.8L1477.3 687.4L1477.6 687.4L1477.9 692.3L1478.2 688L1478.5 680.5L1478.8 669L1479.1 706.2L1479.4 687L1479.7 673.7L1480 671.1L1480.3 709.8L1480.6 699.2L1480.9 662.9L1481.2 689.5L1481.5 677.4L1481.8 677.5L1482.1 668.7L1482.4 685.9L1482.7 708.8L1483 662.9L1483.3 665.8L1483.6 720L1483.9 720L1484.2 657.6L1484.5 663L1484.8 670.7L1485.1 696.2L1485.4 652.3L1485.7 672.1L1486 690.7L1486.3 673L1486.6 700.2L1486.9 700.5L1487.2 690L1487.5 707.3L1487.8 696.2L1488.1 701.5L1488.4 665.2L1488.7 685.1L1489 673.3L1489.3 659.2L1489.6 674L1489.9 687L1490.2 675.1L1490.5 688.4L1490.8 701.7L1491.1 680.7L1491.4 677.9L1491.7 683.9L1492 684.5L1492.3 699.6L1492.6 651.5L1492.9 683.4L1493.2 675.1L1493.5 668.6L1493.8 711.4L1494.1 690L1494.4 679.2L1494.7 709.6L1495 696.1L1495.3 681.7L1495.6 692.1L1495.9 690.5L1496.2 667.5L1496.5 670.2L1496.8 673.6L1497.1 675.8L1497.4 688.1L1497.7 674.7L1498 669.6L1498.3 687.2L1498.6 687.9L1498.9 664.4L1499.2 672.6L1499.5 685.8L1499.8 710.7L1500.1 690.6L1500.4 690.2L1500.7 685.5L1501 684.9L1501.3 659.7L1501.6 699.6L1501.9 693.3L1502.2 699.8L1502.5 669.6L1502.8 671.4L1503.1 686L1503.4 677.4L1503.7 675.4L1504 710.1L1504.3 679.3L1504.6 683.4L1504.9 682L1505.2 664.1L1505.5 678.3L1505.8 708.4L1506.1 682.5L1506.4 698.9L1506.7 687.5L1507 689.6L1507.3 680.7L1507.6 689.7L1507.9 683.3L1508.2 707.2L1508.5 677.5L1508.8 679.8L1509.1 658L1509.4 697.5L1509.7 696.5L1510 696.6L1510.3 681L1510.6 692.6L1510.9 701.9L1511.2 681.3L1511.5 709.1L1511.8 685.7L1512.1 674.7L1512.4 700.3L1512.7 687.7L1513 685.2L1513.3 695.7L1513.6 698.8L1513.9 676.7L1514.2 686.3L1514.5 692.2L1514.8 693.4L1515.1 710.3L1515.4 684.2L1515.7 677L1516 666.8L1516.3 694L1516.6 675L1516.9 678.3L1517.2 667.9L1517.5 664.6L1517.8 682.2L1518.1 696.2L1518.4 669.4L1518.7 687.4L1519 686.3L1519.3 674.3L1519.6 676.7L1519.9 682.2L1520.2 674.8L1520.5 657.4L1520.8 693.9L1521.1 705.6L1521.4 681.4L1521.7 693.8L1522 698.7L1522.3 689L1522.6 662.7L1522.9 674L1523.2 669.8L1523.5 677.6L1523.8 664.3L1524.1 701.7L1524.4 673.3L1524.7 601L1525 601L1525.3 653.3L1525.6 681.9L1525.9 673.2L1526.2 708.6L1526.5 633.1L1526.8 702.1L1527.1 659.6L1527.4 673.8L1527.7 653L1528 688.2L1528.3 677.9L1528.6 673.9L1528.9 665.4L1529.2 688.3L1529.5 706.5L1529.8 678.4L1530.1 708L1530.4 698.1L1530.7 683.8L1531 672.8L1531.3 636L1531.6 690.2L1531.9 679L1532.2 701.7L1532.5 679.9L1532.8 704.7L1533.1 720.8L1533.4 689.4L1533.7 670.1L1534 653.5L1534.3 721.2L1534.6 699L1534.9 697.5L1535.2 704.8L1535.5 676.7L1535.8 667.1L1536.1 712.8L1536.4 685.9L1536.7 705.2L1537 712.5L1537.3 700L1537.6 696.3L1537.9 740L1538.2 740L1538.5 697.1L1538.8 696.7L1539.1 721.2L1539.4 742.9L1539.7 736.8L1540 697.6L1540.3 688.8L1540.6 698.4L1540.9 722.1L1541.2 713L1541.5 723.7L1541.8 703.5L1542.1 720.4L1542.4 706.9L1542.7 673.7L1543 687.7L1543.3 674.3L1543.6 722.2L1543.9 735L1544.2 735L1544.5 704.3L1544.8 690.3L1545.1 700.3L1545.4 719.6L1545.7 678.5L1546 686.9L1546.3 699.5L1546.6 659.3L1546.9 713.7L1547.2 685.7L1547.5 669.3L1547.8 679.9L1548.1 689.1L1548.4 689.4L1548.7 694.8L1549 679.2L1549.3 694.4L1549.6 696.1L1549.9 679.4L1550.2 695.7L1550.5 686.3L1550.8 700.6L1551.1 670L1551.4 694.6L1551.7 696.5L1552 695.4L1552.3 701.1L1552.6 694L1552.9 709.1L1553.2 682.7L1553.5 681.9L1553.8 674.1L1554.1 680.1L1554.4 684.2L1554.7 677.2L1555 697.1L1555.3 674.5L1555.6 670.3L1555.9 695.7L1556.2 681.7L1556.5 689.5L1556.8 683.6L1557.1 699.3L1557.4 691.6L1557.7 671.5L1558 656.8L1558.3 672.9L1558.6 674L1558.9 675.4L1559.2 652.7L1559.5 703.4L1559.8 703L1560.1 694.1L1560.4 688.1L1560.7 684.8L1561 686L1561.3 668.2L1561.6 650.3L1561.9 679.4L1562.2 689.2L1562.5 684L1562.8 694.1L1563.1 691.5L1563.4 679.9L1563.7 664.4L1564 664L1564.3 670.3L1564.6 679L1564.9 684.2L1565.2 675.3L1565.5 695.9L1565.8 706.2L1566.1 686.3L1566.4 684.9L1566.7 670.1L1567 696.5L1567.3 707L1567.6 689.4L1567.9 667.1L1568.2 682.9L1568.5 684L1568.8 687.7L1569.1 686.4L1569.4 674.3L1569.7 676L1570 675.1L1570.3 671.3L1570.6 678L1570.9 689.7L1571.2 670.2L1571.5 680.8L1571.8 686.5L1572.1 679.4L1572.4 676.6L1572.7 694.7L1573 690.3L1573.3 675.5L1573.6 684.1L1573.9 688.8L1574.2 683.5L1574.5 693.7L1574.8 691.9L1575.1 690.4L1575.4 677.2L1575.7 701.4L1576 683.6L1576.3 678.2L1576.6 696.7L1576.9 687.7L1577.2 669.6L1577.5 690.3L1577.8 676.2L1578.1 674L1578.4 684.1L1578.7 686.2L1579 691.1L1579.3 679L1579.6 679.6L1579.9 685.8L1580.2 693.7L1580.5 686.3L1580.8 699.8L1581.1 683.4L1581.4 693L1581.7 690.5L1582 690.3L1582.3 695.5L1582.6 701.3L1582.9 696.6L1583.2 682.1L1583.5 676.2L1583.8 665.3L1584.1 683.5L1584.4 673.8L1584.7 674.6L1585 700.7L1585.3 683.9L1585.6 670.6L1585.9 688.9L1586.2 690.6L1586.5 685.7L1586.8 678.1L1587.1 680.5L1587.4 680.3L1587.7 685L1588 682.6L1588.3 682.3L1588.6 695.2L1588.9 688.1L1589.2 681.1L1589.5 683.7L1589.8 682.2L1590.1 663L1590.4 679.1L1590.7 696.4L1591 683.5L1591.3 671.1L1591.6 678.2L1591.9 677.6L1592.2 691.9L1592.5 679L1592.8 674.5L1593.1 687.3L1593.4 672.4L1593.7 667.5L1594 670.7L1594.3 683.2L1594.6 674.5L1594.9 675.5L1595.2 674.1L1595.5 669.9L1595.8 671.4L1596.1 681.6L1596.4 679.1L1596.7 657.6L1597 674.5L1597.3 682.2L1597.6 663.6L1597.9 672.1L1598.2 638L1598.5 660.5L1598.8 653.5L1599.1 662.9L1599.4 521L1599.7 521L1600 521L1600.3 521L1600.6 779L1600.9 779L1601.2 758.8L1601.5 709.7L1601.8 746.3L1602.1 750.8L1602.4 737.7L1602.7 726.9L1603 748.5L1603.3 756.2L1603.6 741.3L1603.9 783.9L1604.2 740L1604.5 728.7L1604.8 718.5L1605.1 734.4L1605.4 746.7L1605.7 774.5L1606 751.1L1606.3 746.5L1606.6 738.8L1606.9 736L1607.2 757.1L1607.5 784L1607.8 784L1608.1 753.3L1608.4 748.7L1608.7 736.4L1609 719.7L1609.3 726L1609.6 715.1L1609.9 720.2L1610.2 680.2L1610.5 665.9L1610.8 691.2L1611.1 683L1611.4 677.1L1611.7 675.6L1612 675.6L1612.3 689.9L1612.6 703.9L1612.9 709.5L1613.2 685.5L1613.5 695.6L1613.8 692.5L1614.1 678.4L1614.4 686.2L1614.7 707.8L1615 692.7L1615.3 689.5L1615.6 716.9L1615.9 715.1L1616.2 714L1616.5 698.1L1616.8 703.5L1617.1 702.7L1617.4 703.2L1617.7 705.8L1618 696.3L1618.3 674.2L1618.6 703.9L1618.9 714.7L1619.2 700.4L1619.5 722.5L1619.8 707.3L1620.1 688.9L1620.4 679L1620.7 697.5L1621 691.1L1621.3 701.1L1621.6 703.3L1621.9 699L1622.2 701.4L1622.5 708.5L1622.8 688.6L1623.1 685.8L1623.4 681.2L1623.7 698.6L1624 668.5L1624.3 686L1624.6 697.5L1624.9 682.9L1625.2 690.2L1625.5 667.2L1625.8 676.3L1626.1 690L1626.4 708L1626.7 681.8L1627 684.6L1627.3 681.5L1627.6 680L1627.9 684.9L1628.2 688.4L1628.5 687.8L1628.8 681.6L1629.1 688.6L1629.4 679L1629.7 697.3L1630 697.4L1630.3 696.1L1630.6 691.4L1630.9 694L1631.2 712.8L1631.5 673.4L1631.8 678.7L1632.1 690.9L1632.4 694.9L1632.7 695.8L1633 696.5L1633.3 696.3L1633.6 679.3L1633.9 666.2L1634.2 690.6L1634.5 704.6L1634.8 686.6L1635.1 686.8L1635.4 684.9L1635.7 677L1636 670.8L1636.3 682.5L1636.6 693.7L1636.9 685.8L1637.2 699L1637.5 686.1L1637.8 698.6L1638.1 688.8L1638.4 693.9L1638.7 680.8L1639 663.1L1639.3 694.4L1639.6 686.1L1639.9 704.9L1640.2 703.1L1640.5 675.7L1640.8 703.6L1641.1 680.1L1641.4 698.8L1641.7 695.6L1642 689L1642.3 694.2L1642.6 680.8L1642.9 690.5L1643.2 677.6L1643.5 693.5L1643.8 690.2L1644.1 692.9L1644.4 670L1644.7 671.2L1645 678.6L1645.3 678.1L1645.6 666.3L1645.9 681.2L1646.2 674.7L1646.5 686L1646.8 685.2L1647.1 705.9L1647.4 690.5L1647.7 673.1L1648 693.1L1648.3 694.5L1648.6 672.5L1648.9 691.1L1649.2 688.4L1649.5 679.4L1649.8 688.6L1650.1 683.8L1650.4 681.3L1650.7 699.2L1651 695.6L1651.3 675.1L1651.6 688.5L1651.9 687.5L1652.2 706.1L1652.5 671.6L1652.8 679.4L1653.1 673.8L1653.4 675.9L1653.7 682.8L1654 671L1654.3 677.4L1654.6 660.1L1654.9 654.8L1655.2 686.1L1655.5 663.3L1655.8 668.7L1656.1 681.3L1656.4 679.5L1656.7 666.2L1657 677.8L1657.3 695.9L1657.6 651.7L1657.9 652.8L1658.2 661.8L1658.5 646.9L1658.8 658.3L1659.1 662.7L1659.4 683.9L1659.7 656.4L1660 662.5L1660.3 675.2L1660.6 651.3L1660.9 657L1661.2 684L1661.5 631.6L1661.8 658.3L1662.1 649.3L1662.4 663.9L1662.7 642.3L1663 654.9L1663.3 656.3L1663.6 659.7L1663.9 664.9L1664.2 670.7L1664.5 667L1664.8 664.3L1665.1 677.3L1665.4 651.7L1665.7 670.4L1666 661.7L1666.3 665.1L1666.6 648.4L1666.9 635.3L1667.2 642.7L1667.5 660.8L1667.8 649.3L1668.1 634.6L1668.4 688.9L1668.7 667.7L1669 635.3L1669.3 670.5L1669.6 687.2L1669.9 665.4L1670.2 650.9L1670.5 682.5L1670.8 686.2L1671.1 687.8L1671.4 648.8L1671.7 688.8L1672 710.8L1672.3 665L1672.6 675.7L1672.9 683.6L1673.2 680.7L1673.5 666.3L1673.8 575L1674.1 575L1674.4 575L1674.7 659.9L1675 663.8L1675.3 666.2L1675.6 669.5L1675.9 666.7L1676.2 694.4L1676.5 690.6L1676.8 643.5L1677.1 657.9L1677.4 652.8L1677.7 658.6L1678 669.9L1678.3 658.7L1678.6 664.6L1678.9 654.6L1679.2 688.1L1679.5 656.1L1679.8 664.1L1680.1 676.1L1680.4 671.9L1680.7 638.7L1681 650.5L1681.3 666.5L1681.6 639.7L1681.9 642.4L1682.2 658.5L1682.5 665L1682.8 634.3L1683.1 634.3L1683.4 652.1L1683.7 638.1L1684 679.5L1684.3 673.5L1684.6 673.4L1684.9 656L1685.2 645.5L1685.5 617.4L1685.8 651.7L1686.1 650L1686.4 638.4L1686.7 656.9L1687 648.5L1687.3 646L1687.6 651.2L1687.9 662.8L1688.2 653.7L1688.5 635.6L1688.8 631.4L1689.1 670.2L1689.4 664.2L1689.7 685.2L1690 657.9L1690.3 659.6L1690.6 655.7L1690.9 643.6L1691.2 631.2L1691.5 678.1L1691.8 649.7L1692.1 636.2L1692.4 660.8L1692.7 663.2L1693 681.9L1693.3 669.9L1693.6 647.2L1693.9 726L1694.2 726L1694.5 681.9L1694.8 625.7L1695.1 638.2L1695.4 643.2L1695.7 652L1696 650.7L1696.3 694.5L1696.6 668.7L1696.9 653.8L1697.2 671L1697.5 666.8L1697.8 662L1698.1 648.2L1698.4 672.2L1698.7 672.3L1699 683.3L1699.3 721.7L1699.6 677.3L1699.9 661L1700.2 668.1L1700.5 677.4L1700.8 688L1701.1 706.9L1701.4 703.3L1701.7 680.5L1702 707.5L1702.3 712.4L1702.6 714.1L1702.9 725.9L1703.2 717.3L1703.5 722.2L1703.8 722.8L1704.1 750.2L1704.4 744.4L1704.7 753.2L1705 759.3L1705.3 786.6L1705.6 783.7L1705.9 792.1L1706.2 798L1706.5 808.4L1706.8 818.6L1707.1 830.9L1707.4 843.8L1707.7 815.4L1708 794.7L1708.3 797L1708.6 797.2L1708.9 799L1709.2 752.9L1709.5 743.5L1709.8 743L1710.1 734.9L1710.4 738L1710.7 734.2L1711 722.5L1711.3 720.8L1711.6 706.5L1711.9 692.7L1712.2 706L1712.5 695.8L1712.8 719L1713.1 712.6L1713.4 712.3L1713.7 701.6L1714 723.8L1714.3 716.8L1714.6 725.7L1714.9 693.1L1715.2 723.1L1715.5 743L1715.8 722.5L1716.1 760L1716.4 760L1716.7 715.2L1717 699.7L1717.3 706.4L1717.6 689.6L1717.9 699.2L1718.2 701.8L1718.5 679.2L1718.8 673.4L1719.1 680.3L1719.4 678.1L1719.7 686.9L1720 657.6L1720.3 635.7L1720.6 665.1L1720.9 628L1721.2 652.6L1721.5 644L1721.8 638.1L1722.1 652.7L1722.4 643.6L1722.7 633.6L1723 632.9L1723.3 636.3L1723.6 613.3L1723.9 634L1724.2 638.4L1724.5 627.3L1724.8 624.7L1725.1 641.1L1725.4 640.4L1725.7 648.4L1726 676.8L1726.3 677.1" fill="none" stroke="#f00" stroke-width="2.3" stroke-linejoin="round"/>
<path d="M1205.9 518.4L1207.1 518L1208.3 517.5L1209.5 517.3L1209.7 517.3L1210.7 517L1211.9 516.4L1213.1 516.2L1214.3 516L1215.1 515.8L1215.5 516L1216.7 516.1L1217.9 515.7L1219.1 515.5L1219.6 515.6L1220.3 515.5L1221.5 515.6L1222.2 515.2L1222.7 515.2L1223.9 515.7L1224.1 515.8L1225.1 515.5L1226.2 515.4L1226.3 515.3L1227.5 514.5L1228.7 513.5L1229.2 513.2L1229.9 512.6L1231.1 511.4L1232.3 510L1232.4 510.1L1233.5 510.1L1234.7 508.6L1235.3 508.2L1235.9 508.3L1237.1 508.5L1237.4 508.8L1238.3 509.4L1239.2 510.1L1239.5 510.4L1240.7 510.9L1240.9 511L1241.9 511.9L1242.6 512.7L1243.1 513.2L1244.3 514.4L1244.4 515L1245.5 515.4L1246.5 515.7L1246.7 515.9L1247.9 515.2L1249.1 514.7L1249.2 514.6L1250.3 513.7L1251.5 512.6L1252.3 512.5L1252.7 512.5L1253.9 512.1L1255.1 512L1255.6 511.7L1256.3 512.3L1257.5 512L1258.7 511.7L1259.3 512.1L1259.9 512.6L1261.1 513.5L1262.3 513.7L1263.2 513.9L1263.5 514L1264.7 514.8L1265.9 514.4L1267.1 514.8L1268.3 514.6L1269.5 514.3L1270.7 514.1L1271.1 514.2L1271.9 513.8L1273.1 513.6L1274.3 513.4L1275.1 513.3L1275.5 513.1L1276.7 512.8L1277.9 512.6L1278.5 512.7L1279.1 512.8L1280.3 513.2L1280.8 513.3L1281.5 513.2L1282.5 514.1L1282.7 514L1283.9 514.5L1285 514.8L1285.1 515L1286.3 515L1287.5 515L1288.7 514.7L1289 515.1L1289.9 515L1291.1 514.9L1292.3 515.2L1293.5 515.2L1293.7 515.1L1294.7 515.2L1295.9 515.1L1297.1 514.9L1298.1 514.7L1298.3 515.1L1299.5 515.5L1300.7 515.7L1301.7 515.8L1301.9 515.9L1303.1 516.3L1304.3 516.5L1304.9 516.7L1305.5 516.9L1306.7 517.1L1307.9 517.6L1309.1 518.2L1310.3 518.6L1310.6 519.2L1311.5 520.1L1312.7 521.7L1313 521.6L1313.9 522.4L1315.1 523L1316.3 522.6L1316.7 522.2L1317.5 521.7L1317.9 520.9L1318.7 520.4L1319.4 519.4L1319.9 518.7L1321.1 518L1321.5 518.2L1322.3 517.6L1323.5 517.1L1323.8 517.3L1324.7 516.9L1325.9 515.8L1327.1 514.4L1327.5 514.4L1328.3 513L1328.9 512.5L1329.5 512L1330.7 510.8L1330.8 510.9L1331.9 510.5L1333.1 510.4L1334 510.1L1334.3 510.3L1335.5 510.3L1336.7 510.4L1337.7 510.1L1337.9 510.2L1339.1 510.7L1340.3 511.2L1340.7 511.3L1341.5 512.4L1342.2 513L1342.7 514.9L1343 515.9L1343.9 517.6L1345.1 517.5L1345.3 517.2L1346.3 516.6L1347 515.9L1347.5 515.2L1348.7 513.9L1348.8 514.2L1349.9 512.9L1350.8 511.8L1351.1 511.3L1352.3 510.7L1353.1 510.2L1353.5 509.4L1354.7 507.9L1355.4 507.3L1355.9 506.9L1357.1 506.1L1357.9 505.7L1358.3 505.3L1359.5 504.6L1360.5 504.2L1360.7 504.2L1361.9 504L1362.9 503.6L1363.1 503.7L1364.3 504.5L1365 504.4L1365.5 505.3L1366.7 506.5L1366.8 506.8L1367.9 508.1L1368.5 509.2L1369.1 510.6L1370 513L1370.3 513.9L1371.3 516.9L1371.5 517.6L1372.7 520.6L1373.9 522.7L1374.3 523.4L1375.1 524.7L1375.9 525.9L1376.3 526.1L1377.5 527.1L1377.6 527.4L1378.7 526.2L1379.3 525.7L1379.9 524.2L1381 521.6L1381.1 521.1L1382.3 519.8L1383.2 519L1383.5 519.4L1384.7 519.5L1385.9 520.2L1386.3 520.5L1387.1 520.7L1388.3 521.3L1389.5 522L1389.9 522.1L1390.7 522.4L1391.9 523.1L1393 523.9L1393.1 523.5L1394.3 523.9L1394.9 524.3L1395.5 524.2L1396.3 524L1396.7 523.4L1397.9 523.1L1399.1 524.4L1399.8 524.9L1400.3 525.5L1401.5 526.5L1401.9 526.8L1402.7 526.7L1403.9 526.9L1404.5 527.3L1405.1 527L1406.3 526.3L1407.5 525.8L1408 525.2L1408.7 524.4L1409.9 523.4L1411.1 522.6L1412 522.3L1412.3 521.9L1413.5 521.4L1414.7 520.8L1415.9 520.3L1417.1 520.5L1418.3 520.4L1419.1 520.5L1419.5 520.3L1420.7 521L1421.9 521.4L1422.1 521.1L1423.1 520.8L1424.3 521L1425.5 521.2L1425.7 521.7L1426.7 521.6L1427.9 520.5L1429.1 520.1L1430.3 519.3L1430.3 519.2L1431.5 518.2L1432.7 517.5L1433.9 516.9L1435.1 516.1L1435.4 516.1L1436.3 515.8L1437.5 515.7L1438.7 515.2L1439.9 514.7L1440.4 514.4L1441.1 514.4L1442.3 514.9L1443.5 514.9L1444.7 515.3L1444.8 515.3L1445.9 515.9L1447.1 516.9L1448.3 517.5L1449.1 517.9L1449.5 517.8L1450.7 518.2L1451.9 518.6L1453.1 518.9L1453.5 518.8L1454.3 518.9L1455.5 519.1L1456.7 518.7L1457.9 518.6L1458.4 518.5L1459.1 518.5L1460.3 518.2L1461.5 517.6L1462.7 517.2L1463.5 517.3L1463.9 517.3L1465.1 517.2L1466.3 517.2L1467.5 517.1L1468.2 517.4L1468.7 517.3L1469.9 517.4L1471.1 517.4L1472.3 518L1472.4 518L1473.5 518.1L1474.7 518.3L1475.9 518.6L1476.3 519.1L1477.1 519.7L1478.3 520.2L1479.5 520.3L1479.7 520.3L1480.7 521.3L1481.9 522.3L1482.4 522.7L1483.1 523.3L1484.3 524.4L1484.6 524.8L1485.5 525L1486.7 525.1L1487.2 525.3L1487.9 525.1L1489.1 524.5L1490.3 524.1L1490.5 524.3L1491.5 523L1492.7 522.7L1493.9 521.4L1494.2 520.9L1495.1 520.5L1496.3 519.3L1497.5 518.6L1498 518.4L1498.7 518.1L1499.9 517.8L1501.1 517.3L1501.5 517.3L1502.3 516.9L1503.5 517L1504.7 517.1L1505 517.4L1505.9 517L1507.1 517.1L1508.3 516.9L1509.4 517L1509.5 516.6L1510.7 516.6L1511.9 516.7L1513.1 517.1L1514.3 516.7L1515.5 517L1515.8 517L1516.7 517.1L1517.9 517L1519.1 516.8L1520.3 517.3L1521.5 517.1L1522.7 517.3L1523.1 517.1L1523.9 517.3L1525.1 517.6L1526.3 517.6L1527.5 517.4L1528.7 517.4L1529 517.5L1529.9 516.9L1531.1 516.8L1532.2 516.5L1532.3 516.4L1533.5 515.6L1533.9 515.4L1534.7 515.1L1535.6 514.8L1535.9 514.9L1537.1 515.7L1537.6 516.4L1538.3 517L1539.5 518.2L1539.6 517.9L1540.7 518.1L1541.9 518.8L1542.2 518.8L1543.1 518.9L1544.3 518.3L1545.5 517.9L1545.6 517.9L1546.7 517.2L1547.9 516.1L1549.1 516L1549.6 515.6L1550.3 515.5L1551.5 514.9L1552.7 514.4L1553.6 514.1L1553.9 514.3L1555.1 514.4L1556.3 514.1L1557.3 514.4L1557.5 514.4L1558.7 514.7L1559.9 515.2L1561.1 515L1561.1 515.1L1562.3 515.4L1563.5 515.7L1564.7 515.9L1565 516.1L1565.9 515.7L1567.1 515.9L1568.3 515.5L1569.2 515.5L1569.5 515.5L1570.7 515.5L1571.9 515.4L1573.1 515.3L1573.7 515.3L1574.3 515.1L1575.5 515L1576.7 514.7L1577.9 513.9L1578.1 513.8L1579.1 513.4L1580.3 512.9L1581.5 512.4L1582.5 512.2L1582.7 511.9L1583.9 511.5L1585.1 510.8L1586.3 509.8L1586.8 509.5L1587.5 509.3L1588.7 509.1L1589.9 509L1591.1 508.2L1591.2 508.2L1592.3 508.9L1593.5 508.6L1594.7 508.9L1595.7 508.6L1595.9 508.8L1597.1 509.3L1598.3 509.6L1599.5 510L1600.3 510.7L1600.7 510.8L1601.9 511.5L1603.1 511.5L1604.3 511.8L1605.5 512L1606.7 512.2L1607.3 512L1607.9 511.7L1609.1 511.2L1609.7 510.8L1610.3 511.1L1611.5 510.9L1612.5 510.3L1612.7 510.6L1613.9 510.5L1615.1 510.6L1616.1 510.8L1616.3 510.6L1617.5 511.1L1618.7 511.8L1619.9 511.6L1620.1 511.3L1621.1 511.6L1622.3 511.9L1623.5 512.5L1624 512.3L1624.7 513L1625.9 512.9L1627.1 513.3L1627.7 513.9L1628.3 514.2L1629.5 514.4L1630.7 514.5L1631.4 514.6L1631.9 514.4L1633.1 514.9L1634.3 514.8L1635.4 514.8L1635.5 514.8L1636.7 514.6L1637.9 514.4L1639.1 514.4L1640.1 514.3L1640.3 514.4L1641.5 514.3L1642.7 514L1643.9 513.7L1645.1 513L1645.2 513.2L1646.3 513L1647.5 512.6L1648.7 512.8L1649.9 512.4L1650.1 512.4L1651.1 512.5L1652.3 512.2L1653.5 511.7L1654.7 511.2L1654.7 511.2L1655.9 510.2L1657.1 510.3L1658.3 510L1659.1 510L1659.5 510.1L1660.7 509.9L1661.9 510.1L1663.1 509.8L1663.2 509.6L1664.3 510.1L1665.5 511L1666.6 511.3L1666.7 510.6L1667.9 511.7L1669.1 512.7L1669.6 513.3L1670.3 513.5L1671.5 513.6L1672.7 513.8L1673 514L1673.9 513.7L1675.1 513.5L1676.3 513.1L1677.3 512.3L1677.5 512L1678.7 511.1L1679.9 509.6L1681.1 509.2L1682 508.3L1682.3 508.3L1683.5 507.3L1684.7 506.7L1685.9 506.1L1686.1 505.8L1687.1 505.7L1688.3 505.4L1689.3 505.3L1689.5 505.1L1690.7 505.2L1691.9 505.3L1691.9 505.2L1693.1 505.1L1694.3 505.8L1695.5 506.6L1696.4 507.3L1696.7 507.3L1697.9 508.7L1698.3 509.2L1699.1 509.7L1700.3 510.8L1700.8 510.6L1701.5 510.9L1702.7 511.6L1703.9 512.2L1704.3 512.6L1705.1 513.2L1706.3 514.3L1707.5 514.9L1708.4 515.4L1708.7 515.4L1709.9 516.2L1711.1 516.4L1712.3 516.6L1713.5 516.9L1714.7 517.4L1715.9 517.3L1716.1 517.3L1717.1 517.5L1718.3 517L1719.5 516.8L1719.6 516.5L1720.7 516.1L1721.9 516.1L1722.1 516" fill="none" stroke="#000" stroke-width="2.1" stroke-linejoin="round"/>
</g>
<line x1="1726" y1="478" x2="1726" y2="821.9" stroke="#1f77b4" stroke-width="2.0" stroke-dasharray="2.1 3.4"/>
<line x1="1244.8" y1="821.9" x2="1244.8" y2="816.9" stroke="#000" stroke-width="1.1"/>
<line x1="1319.2" y1="821.9" x2="1319.2" y2="816.9" stroke="#000" stroke-width="1.1"/>
<line x1="1393.6" y1="821.9" x2="1393.6" y2="816.9" stroke="#000" stroke-width="1.1"/>
<line x1="1468" y1="821.9" x2="1468" y2="816.9" stroke="#000" stroke-width="1.1"/>
<line x1="1542.4" y1="821.9" x2="1542.4" y2="816.9" stroke="#000" stroke-width="1.1"/>
<line x1="1616.8" y1="821.9" x2="1616.8" y2="816.9" stroke="#000" stroke-width="1.1"/>
<line x1="1691.2" y1="821.9" x2="1691.2" y2="816.9" stroke="#000" stroke-width="1.1"/>
<line x1="1765.6" y1="821.9" x2="1765.6" y2="816.9" stroke="#000" stroke-width="1.1"/>
<line x1="1205" y1="512.4" x2="1210" y2="512.4" stroke="#000" stroke-width="1.1"/>
<text x="1200.1" y="519.6" font-size="19.44" text-anchor="end" fill="#000">0</text>
<line x1="1205" y1="581.2" x2="1210" y2="581.2" stroke="#000" stroke-width="1.1"/>
<text x="1200.1" y="588.4" font-size="19.44" text-anchor="end" fill="#000">−100</text>
<line x1="1205" y1="650" x2="1210" y2="650" stroke="#000" stroke-width="1.1"/>
<text x="1200.1" y="657.2" font-size="19.44" text-anchor="end" fill="#000">−200</text>
<line x1="1205" y1="718.7" x2="1210" y2="718.7" stroke="#000" stroke-width="1.1"/>
<text x="1200.1" y="725.9" font-size="19.44" text-anchor="end" fill="#000">−300</text>
<line x1="1205" y1="787.5" x2="1210" y2="787.5" stroke="#000" stroke-width="1.1"/>
<text x="1200.1" y="794.7" font-size="19.44" text-anchor="end" fill="#000">−400</text>
<line x1="1800" y1="821.9" x2="1795" y2="821.9" stroke="#f00" stroke-width="1.1"/>
<text x="1806.2" y="829.8" font-size="19.44" text-anchor="start" fill="#f00">10<tspan dy="-8.1" font-size="13.61">−2</tspan></text>
<line x1="1800" y1="796" x2="1797.2" y2="796" stroke="#f00" stroke-width="0.9"/>
<line x1="1800" y1="780.9" x2="1797.2" y2="780.9" stroke="#f00" stroke-width="0.9"/>
<line x1="1800" y1="770.1" x2="1797.2" y2="770.1" stroke="#f00" stroke-width="0.9"/>
<line x1="1800" y1="761.8" x2="1797.2" y2="761.8" stroke="#f00" stroke-width="0.9"/>
<line x1="1800" y1="755" x2="1797.2" y2="755" stroke="#f00" stroke-width="0.9"/>
<line x1="1800" y1="749.2" x2="1797.2" y2="749.2" stroke="#f00" stroke-width="0.9"/>
<line x1="1800" y1="744.3" x2="1797.2" y2="744.3" stroke="#f00" stroke-width="0.9"/>
<line x1="1800" y1="739.9" x2="1797.2" y2="739.9" stroke="#f00" stroke-width="0.9"/>
<line x1="1800" y1="735.9" x2="1795" y2="735.9" stroke="#f00" stroke-width="1.1"/>
<text x="1806.2" y="743.8" font-size="19.44" text-anchor="start" fill="#f00">10<tspan dy="-8.1" font-size="13.61">−1</tspan></text>
<line x1="1800" y1="710" x2="1797.2" y2="710" stroke="#f00" stroke-width="0.9"/>
<line x1="1800" y1="694.9" x2="1797.2" y2="694.9" stroke="#f00" stroke-width="0.9"/>
<line x1="1800" y1="684.2" x2="1797.2" y2="684.2" stroke="#f00" stroke-width="0.9"/>
<line x1="1800" y1="675.8" x2="1797.2" y2="675.8" stroke="#f00" stroke-width="0.9"/>
<line x1="1800" y1="669" x2="1797.2" y2="669" stroke="#f00" stroke-width="0.9"/>
<line x1="1800" y1="663.3" x2="1797.2" y2="663.3" stroke="#f00" stroke-width="0.9"/>
<line x1="1800" y1="658.3" x2="1797.2" y2="658.3" stroke="#f00" stroke-width="0.9"/>
<line x1="1800" y1="653.9" x2="1797.2" y2="653.9" stroke="#f00" stroke-width="0.9"/>
<line x1="1800" y1="650" x2="1795" y2="650" stroke="#f00" stroke-width="1.1"/>
<text x="1806.2" y="657.9" font-size="19.44" text-anchor="start" fill="#f00">10<tspan dy="-8.1" font-size="13.61">0</tspan></text>
<line x1="1800" y1="624.1" x2="1797.2" y2="624.1" stroke="#f00" stroke-width="0.9"/>
<line x1="1800" y1="608.9" x2="1797.2" y2="608.9" stroke="#f00" stroke-width="0.9"/>
<line x1="1800" y1="598.2" x2="1797.2" y2="598.2" stroke="#f00" stroke-width="0.9"/>
<line x1="1800" y1="589.9" x2="1797.2" y2="589.9" stroke="#f00" stroke-width="0.9"/>
<line x1="1800" y1="583" x2="1797.2" y2="583" stroke="#f00" stroke-width="0.9"/>
<line x1="1800" y1="577.3" x2="1797.2" y2="577.3" stroke="#f00" stroke-width="0.9"/>
<line x1="1800" y1="572.3" x2="1797.2" y2="572.3" stroke="#f00" stroke-width="0.9"/>
<line x1="1800" y1="567.9" x2="1797.2" y2="567.9" stroke="#f00" stroke-width="0.9"/>
<line x1="1800" y1="564" x2="1795" y2="564" stroke="#f00" stroke-width="1.1"/>
<text x="1806.2" y="571.9" font-size="19.44" text-anchor="start" fill="#f00">10<tspan dy="-8.1" font-size="13.61">1</tspan></text>
<line x1="1800" y1="538.1" x2="1797.2" y2="538.1" stroke="#f00" stroke-width="0.9"/>
<line x1="1800" y1="523" x2="1797.2" y2="523" stroke="#f00" stroke-width="0.9"/>
<line x1="1800" y1="512.2" x2="1797.2" y2="512.2" stroke="#f00" stroke-width="0.9"/>
<line x1="1800" y1="503.9" x2="1797.2" y2="503.9" stroke="#f00" stroke-width="0.9"/>
<line x1="1800" y1="497.1" x2="1797.2" y2="497.1" stroke="#f00" stroke-width="0.9"/>
<line x1="1800" y1="491.3" x2="1797.2" y2="491.3" stroke="#f00" stroke-width="0.9"/>
<line x1="1800" y1="486.3" x2="1797.2" y2="486.3" stroke="#f00" stroke-width="0.9"/>
<line x1="1800" y1="481.9" x2="1797.2" y2="481.9" stroke="#f00" stroke-width="0.9"/>
<line x1="1800" y1="478" x2="1795" y2="478" stroke="#f00" stroke-width="1.1"/>
<text x="1806.2" y="485.9" font-size="19.44" text-anchor="start" fill="#f00">10<tspan dy="-8.1" font-size="13.61">2</tspan></text>
<path d="M1205 478H1800M1205 821.9H1800M1205 478V821.9" fill="none" stroke="#000" stroke-width="2" stroke-linecap="square"/>
<path d="M1800 478V821.9" fill="none" stroke="#f00" stroke-width="2" stroke-linecap="square"/>
<text x="1104.9" y="653.4" font-size="24.00" text-anchor="middle" fill="#000" transform="rotate(-90 1104.9 653.4)">Dst</text>
<text x="1133" y="650.3" font-size="24.00" text-anchor="middle" fill="#000" transform="rotate(-90 1133 650.3)">( nT )</text>
<text x="1874.5" y="650.6" font-size="24.00" text-anchor="middle" fill="#f00" transform="rotate(-90 1874.5 650.6)">SW Pressure</text>
<text x="1905" y="651.2" font-size="24.00" text-anchor="middle" fill="#f00" transform="rotate(-90 1905 651.2)">( nPa )</text>
<line x1="1205" y1="931" x2="1800" y2="931" stroke="#000" stroke-width="2.0" stroke-dasharray="2.1 3.4"/>
<clipPath id="c6"><rect x="1205" y="845" width="595" height="171.9"/></clipPath>
<g clip-path="url(#c6)">
<path d="M1205.5 999.2L1205.8 1008L1206.1 994.4L1206.4 986L1206.7 995.1L1207 1012.2L1207.3 996.7L1207.6 1008.9L1207.9 998.2L1208.2 1006.1L1208.5 994.3L1208.8 1012.2L1209.1 993.2L1209.4 1010.4L1209.7 996.2L1210 1011.8L1210.3 995.8L1210.6 1007.5L1210.9 990.9L1211.2 1006.2L1211.5 996.7L1211.8 1007.1L1212.1 995.7L1212.4 1007.5L1212.7 997.5L1213 1007L1213.3 997.2L1213.6 1006.8L1213.9 995.7L1214.2 1007L1214.5 996.2L1214.8 1007.2L1215.1 996.5L1215.4 1009L1215.7 989L1216 1006.2L1216.3 996.4L1216.6 1006.5L1216.9 997.2L1217.2 1006.7L1217.5 994.1L1217.8 1006.1L1218.1 994.6L1218.4 1007.4L1218.7 998.6L1219 1008L1219.3 996.9L1219.6 1012.2L1219.9 998.7L1220.2 1012.2L1220.5 995.3L1220.8 1007.6L1221.1 993.1L1221.4 1006.6L1221.7 998.5L1222 1007.6L1222.3 995L1222.6 1006.3L1222.9 998L1223.2 1006.4L1223.5 994.1L1223.8 1007.7L1224.1 991.3L1224.4 1007.2L1224.7 989.8L1225 1009.7L1225.3 995.2L1225.6 1009.3L1225.9 991.6L1226.2 1011.7L1226.5 992.2L1226.8 1006.9L1227.1 993.2L1227.4 1007.3L1227.7 991.7L1228 1008.6L1228.3 987.9L1228.6 1008.8L1228.9 996.5L1229.2 1007.2L1229.5 996.3L1229.8 1008.7L1230.1 996.4L1230.4 1006.8L1230.7 992.8L1231 1008L1231.3 994.6L1231.6 1008L1231.9 998.5L1232.2 1008.2L1232.5 993.2L1232.8 1011.4L1233.1 998.8L1233.4 1006.2L1233.7 994.5L1234 1007.4L1234.3 989L1234.6 1007.2L1234.9 995.2L1235.2 1007.3L1235.5 997.9L1235.8 1007.9L1236.1 997.8L1236.4 1009.2L1236.7 993.8L1237 1009.1L1237.3 993.1L1237.6 1007.7L1237.9 997.1L1238.2 1006.7L1238.5 998.1L1238.8 1009.8L1239.1 997.1L1239.4 1008.4L1239.7 990.7L1240 1010L1240.3 993.7L1240.6 1007.3L1240.9 996.1L1241.2 1006.4L1241.5 996.3L1241.8 1007.3L1242.1 985.7L1242.4 1007L1242.7 986.6L1243 981.5L1243.3 987.1L1243.6 1008.6L1243.9 983.3L1244.2 1011.3L1244.5 987.9L1244.8 1009.5L1245.1 990.8L1245.4 1010.5L1245.7 988.1L1246 1012.2L1246.3 991.7L1246.6 1011.5L1246.9 996.9L1247.2 1007.8L1247.5 980.5L1247.8 1009.4L1248.1 999L1248.4 1006.5L1248.7 995.4L1249 1008.7L1249.3 993.6L1249.6 1006L1249.9 996L1250.2 1007.9L1250.5 997.6L1250.8 1006.7L1251.1 994.8L1251.4 1006.8L1251.7 998.5L1252 1007.5L1252.3 995.5L1252.6 1008.9L1252.9 996.4L1253.2 1008.7L1253.5 997.5L1253.8 1008.8L1254.1 997.4L1254.4 1006.4L1254.7 997.4L1255 1009.1L1255.3 996.1L1255.6 1009.8L1255.9 1020L1256.2 1020L1256.5 1020L1256.8 1009.7L1257.1 985.4L1257.4 1008.6L1257.7 991.1L1258 1009.9L1258.3 996.3L1258.6 1009.4L1258.9 990.6L1259.2 1009.7L1259.5 996L1259.8 1006.2L1260.1 998.5L1260.4 1007.8L1260.7 993.7L1261 1009.5L1261.3 992.7L1261.6 1007.2L1261.9 997.8L1262.2 1010.3L1262.5 993.6L1262.8 1008.4L1263.1 997.2L1263.4 1010.7L1263.7 994.8L1264 1009.2L1264.3 996.6L1264.6 1006.2L1264.9 994.5L1265.2 1009.9L1265.5 994.2L1265.8 1006.1L1266.1 996.4L1266.4 1007.9L1266.7 999L1267 1010.1L1267.3 996.3L1267.6 1009.9L1267.9 998.2L1268.2 1010.3L1268.5 999.1L1268.8 1009.4L1269.1 994.2L1269.4 1006.6L1269.7 997.7L1270 1008.1L1270.3 993.6L1270.6 1007.3L1270.9 994.9L1271.2 1007L1271.5 991.5L1271.8 1008.5L1272.1 994.3L1272.4 1006.3L1272.7 998.8L1273 1010.7L1273.3 997.1L1273.6 1011.8L1273.9 995.2L1274.2 1008.8L1274.5 994.5L1274.8 1011.4L1275.1 997.9L1275.4 1012.2L1275.7 996.9L1276 1012.2L1276.3 998.2L1276.6 1008.2L1276.9 995L1277.2 1007.6L1277.5 987.3L1277.8 1008.7L1278.1 998.1L1278.4 1008L1278.7 998.5L1279 1009.2L1279.3 990.8L1279.6 1009.4L1279.9 987.9L1280.2 1009.4L1280.5 989.5L1280.8 1008.1L1281.1 991.1L1281.4 1009.1L1281.7 991.9L1282 1010.1L1282.3 993L1282.6 1006.3L1282.9 993.3L1283.2 1008.5L1283.5 995.1L1283.8 1008.1L1284.1 998.4L1284.4 1008.5L1284.7 995.2L1285 1011.1L1285.3 998.1L1285.6 1010.2L1285.9 998.4L1286.2 1012.2L1286.5 998L1286.8 1012.2L1287.1 997.4L1287.4 1011.7L1287.7 999.4L1288 1009.9L1288.3 997.1L1288.6 1012.2L1288.9 997.4L1289.2 1010.3L1289.5 993L1289.8 1007.4L1290.1 993L1290.4 1006.7L1290.7 993.5L1291 1006L1291.3 997L1291.6 1008.4L1291.9 983.5L1292.2 1007.1L1292.5 997.3L1292.8 1007.5L1293.1 994.5L1293.4 1006.7L1293.7 994.5L1294 1007.6L1294.3 988.8L1294.6 1010.8L1294.9 991.9L1295.2 1009.1L1295.5 998.5L1295.8 1009.8L1296.1 999.4L1296.4 1007.2L1296.7 997.9L1297 1010.6L1297.3 998.6L1297.6 1009.1L1297.9 996.4L1298.2 1009.5L1298.5 993.9L1298.8 1007.2L1299.1 997.2L1299.4 1006.2L1299.7 997.9L1300 1008.5L1300.3 998.2L1300.6 1010.2L1300.9 995.4L1301.2 1011.7L1301.5 996.6L1301.8 1011L1302.1 995.9L1302.4 1007.9L1302.7 993.8L1303 1012.1L1303.3 997.5L1303.6 1012.2L1303.9 995.6L1304.2 1007.6L1304.5 985.8L1304.8 1006.4L1305.1 995.8L1305.4 1009.5L1305.7 997.6L1306 1009L1306.3 992.1L1306.6 1011.2L1306.9 992.2L1307.2 1008.4L1307.5 993.1L1307.8 1010.8L1308.1 995.9L1308.4 1012.2L1308.7 994.9L1309 1012.2L1309.3 995.4L1309.6 1009.4L1309.9 996.2L1310.2 1007.1L1310.5 998.2L1310.8 1009.3L1311.1 994.2L1311.4 1012.2L1311.7 992.3L1312 1012.2L1312.3 992.9L1312.6 1009.8L1312.9 991.3L1313.2 1007.4L1313.5 996.4L1313.8 1007.3L1314.1 993.5L1314.4 1008.4L1314.7 997.7L1315 1006.2L1315.3 998.3L1315.6 1006.2L1315.9 997.9L1316.2 1010.9L1316.5 995.3L1316.8 1011.3L1317.1 991.7L1317.4 1007.3L1317.7 988.2L1318 1009.6L1318.3 989.8L1318.6 1009.6L1318.9 999.1L1319.2 1009.6L1319.5 997.5L1319.8 1009L1320.1 998.1L1320.4 1009.3L1320.7 997.9L1321 1011.5L1321.3 997.8L1321.6 1010.5L1321.9 995.5L1322.2 1012.2L1322.5 990.1L1322.8 1006L1323.1 993L1323.4 1011.7L1323.7 991.6L1324 1007L1324.3 987.4L1324.6 1007.6L1324.9 983.2L1325.2 1006.5L1325.5 982.6L1325.8 1006.1L1326.1 984.4L1326.4 1006L1326.7 983.3L1327 1007.7L1327.3 988.6L1327.6 1006.7L1327.9 992.8L1328.2 1006.8L1328.5 996.4L1328.8 1006.6L1329.1 998.5L1329.4 1006.3L1329.7 998.2L1330 1009L1330.3 999.1L1330.6 1007.5L1330.9 998.7L1331.2 1011L1331.5 997.1L1331.8 1007.8L1332.1 995.9L1332.4 1010L1332.7 997.1L1333 1009.9L1333.3 995.8L1333.6 1008.6L1333.9 994.8L1334.2 1008.9L1334.5 997.2L1334.8 1007L1335.1 995.2L1335.4 1007L1335.7 997.4L1336 1007L1336.3 993.9L1336.6 1008.5L1336.9 995.1L1337.2 1006.5L1337.5 997.6L1337.8 1008.7L1338.1 997.2L1338.4 1006.1L1338.7 998.2L1339 1010L1339.3 1020L1339.6 1020L1339.9 1020L1340.2 1012.2L1340.5 994.2L1340.8 1009.8L1341.1 989.3L1341.4 1009.6L1341.7 993.5L1342 1006.1L1342.3 994.6L1342.6 1007L1342.9 997.5L1343.2 1008.1L1343.5 996.6L1343.8 1008.2L1344.1 996.4L1344.4 1006.8L1344.7 998.7L1345 1007.8L1345.3 995.4L1345.6 1008L1345.9 993.1L1346.2 1009L1346.5 991.9L1346.8 1006.7L1347.1 994.7L1347.4 1006.3L1347.7 998.2L1348 1007.6L1348.3 996.5L1348.6 1007L1348.9 997.7L1349.2 1007.3L1349.5 995.5L1349.8 1007L1350.1 994.6L1350.4 1008.4L1350.7 993.1L1351 1006.9L1351.3 986.1L1351.6 1008.7L1351.9 989.8L1352.2 1007.7L1352.5 987.9L1352.8 1007.4L1353.1 994L1353.4 1007.2L1353.7 998.9L1354 1008.7L1354.3 997.5L1354.6 1006.5L1354.9 996.5L1355.2 1006.2L1355.5 992.6L1355.8 1007.8L1356.1 994L1356.4 1008.9L1356.7 994.8L1357 1009.1L1357.3 998.6L1357.6 1009.7L1357.9 995.4L1358.2 1006.9L1358.5 993.8L1358.8 1012.2L1359.1 993.6L1359.4 1009.7L1359.7 996.7L1360 1009.4L1360.3 996.2L1360.6 1011.5L1360.9 991.2L1361.2 1008.5L1361.5 996L1361.8 1009.6L1362.1 998.6L1362.4 1007.2L1362.7 996L1363 1009L1363.3 996.9L1363.6 1007L1363.9 994.5L1364.2 1007.7L1364.5 993.1L1364.8 1006L1365.1 991.4L1365.4 1007.8L1365.7 989.7L1366 1007.9L1366.3 988.9L1366.6 1007.5L1366.9 991.8L1367.2 1009.9L1367.5 990.7L1367.8 1007.1L1368.1 993.1L1368.4 1007.5L1368.7 990.6L1369 1007.8L1369.3 990.2L1369.6 1006.2L1369.9 991.1L1370.2 1006.5L1370.5 992.6L1370.8 1009.5L1371.1 997.5L1371.4 1007.8L1371.7 993.1L1372 1009.3L1372.3 998.6L1372.6 1009L1372.9 995.8L1373.2 1007.5L1373.5 996.3L1373.8 1007.6L1374.1 998L1374.4 1008.1L1374.7 996.8L1375 1008.7L1375.3 995.5L1375.6 1010L1375.9 997.6L1376.2 1008.4L1376.5 995.1L1376.8 1012.2L1377.1 998.2L1377.4 1012.2L1377.7 996.5L1378 1008.9L1378.3 997.3L1378.6 1008.7L1378.9 995.8L1379.2 1007L1379.5 997.3L1379.8 1011L1380.1 994.7L1380.4 1012.2L1380.7 996.2L1381 1012L1381.3 995.1L1381.6 1011L1381.9 993L1382.2 1012.2L1382.5 998.7L1382.8 1011.9L1383.1 996L1383.4 1008.9L1383.7 995.6L1384 1007.6L1384.3 994.5L1384.6 1008.9L1384.9 998.3L1385.2 1007.3L1385.5 993.2L1385.8 1006.2L1386.1 998.5L1386.4 1006.5L1386.7 986L1387 1007.5L1387.3 990.6L1387.6 1007L1387.9 988L1388.2 1009.2L1388.5 993.6L1388.8 1006.5L1389.1 996.6L1389.4 1007.1L1389.7 992.8L1390 1009.4L1390.3 992.5L1390.6 1008.3L1390.9 987.4L1391.2 1008.8L1391.5 989.7L1391.8 1012.2L1392.1 989.3L1392.4 1012.2L1392.7 988.4L1393 1010.8L1393.3 996.5L1393.6 1008.7L1393.9 997.8L1394.2 1007.5L1394.5 997.8L1394.8 1008.2L1395.1 997.7L1395.4 1008L1395.7 995.2L1396 1006.7L1396.3 990.4L1396.6 1006.5L1396.9 996.3L1397.2 1008.3L1397.5 998L1397.8 1008.2L1398.1 997.1L1398.4 1006.9L1398.7 996.9L1399 1008.2L1399.3 992.1L1399.6 1008.4L1399.9 995.4L1400.2 1009.3L1400.5 992.2L1400.8 1007.3L1401.1 994.8L1401.4 1009.1L1401.7 997.8L1402 1009.9L1402.3 997.5L1402.6 1010.8L1402.9 996.6L1403.2 1007.8L1403.5 997.5L1403.8 1012.2L1404.1 993.4L1404.4 1011.6L1404.7 996.8L1405 1009L1405.3 997.3L1405.6 1008.1L1405.9 994L1406.2 1008.6L1406.5 996.8L1406.8 1008.7L1407.1 996L1407.4 1007.7L1407.7 998.2L1408 1007.7L1408.3 997.5L1408.6 1006L1408.9 991.2L1409.2 1007.2L1409.5 996L1409.8 1008.8L1410.1 995.6L1410.4 1009.6L1410.7 997.4L1411 1006.7L1411.3 999.2L1411.6 1009.2L1411.9 992.1L1412.2 1008.4L1412.5 989.9L1412.8 1008.2L1413.1 989.5L1413.4 1007L1413.7 994.3L1414 1006.2L1414.3 1020L1414.6 1020L1414.9 1020L1415.2 1007.4L1415.5 993.7L1415.8 1007.6L1416.1 989.6L1416.4 1007.6L1416.7 989.8L1417 1009.6L1417.3 998.1L1417.6 1006.8L1417.9 995.8L1418.2 1008.4L1418.5 993.9L1418.8 1009L1419.1 988.9L1419.4 1008.9L1419.7 994.2L1420 1006.4L1420.3 998.2L1420.6 1007.5L1420.9 995.8L1421.2 1009.7L1421.5 997.7L1421.8 1009.9L1422.1 989.7L1422.4 1012.2L1422.7 993.3L1423 1012.2L1423.3 991.4L1423.6 1012.2L1423.9 981L1424.2 1010L1424.5 988.5L1424.8 1009.4L1425.1 984.8L1425.4 1012.2L1425.7 986.5L1426 1007.5L1426.3 989.1L1426.6 1006.4L1426.9 990.6L1427.2 1006.1L1427.5 990.7L1427.8 1008L1428.1 989.3L1428.4 1006.1L1428.7 983.6L1429 1009.4L1429.3 982.4L1429.6 1007.8L1429.9 984.8L1430.2 1009.2L1430.5 984.6L1430.8 1006.1L1431.1 988.2L1431.4 1010.2L1431.7 990.3L1432 1010.3L1432.3 991.2L1432.6 1010L1432.9 995.1L1433.2 1007.9L1433.5 988.1L1433.8 1010.6L1434.1 992.6L1434.4 1009.9L1434.7 992.2L1435 1010.4L1435.3 995.2L1435.6 1012.2L1435.9 991.6L1436.2 1008L1436.5 992.7L1436.8 1006.1L1437.1 993.1L1437.4 1008.5L1437.7 994.1L1438 1008.8L1438.3 998.9L1438.6 1010.9L1438.9 997.7L1439.2 1007L1439.5 991.6L1439.8 1006.1L1440.1 994.4L1440.4 1007.1L1440.7 990.2L1441 1008.1L1441.3 995.8L1441.6 1008.9L1441.9 996.8L1442.2 1008.5L1442.5 998.4L1442.8 1006.4L1443.1 996.5L1443.4 1006L1443.7 991.3L1444 1008.9L1444.3 998.7L1444.6 1010.1L1444.9 994.3L1445.2 1011.4L1445.5 992.5L1445.8 1011.1L1446.1 997.3L1446.4 1006.6L1446.7 996.9L1447 1009.9L1447.3 994.9L1447.6 1011.9L1447.9 993L1448.2 1012.2L1448.5 992.6L1448.8 1010.8L1449.1 990.5L1449.4 1006.7L1449.7 989.4L1450 1010.3L1450.3 994.4L1450.6 1010.2L1450.9 995.8L1451.2 1007.6L1451.5 992.5L1451.8 1007.5L1452.1 986.3L1452.4 1007.3L1452.7 986.3L1453 1009.5L1453.3 994L1453.6 1008.3L1453.9 998.8L1454.2 1006.2L1454.5 997.9L1454.8 1008.9L1455.1 995.3L1455.4 1010.1L1455.7 997.2L1456 1007.9L1456.3 996.4L1456.6 1006.3L1456.9 993.9L1457.2 1009.2L1457.5 995.1L1457.8 1011.2L1458.1 989.5L1458.4 1009.9L1458.7 984.3L1459 1006.3L1459.3 983.8L1459.6 1006.9L1459.9 984.3L1460.2 1009.9L1460.5 989.3L1460.8 1007.4L1461.1 991L1461.4 1008.6L1461.7 990.5L1462 1008.1L1462.3 989L1462.6 1006.7L1462.9 992.4L1463.2 1007.9L1463.5 987.9L1463.8 1007.3L1464.1 986.6L1464.4 1008L1464.7 983.7L1465 1007.7L1465.3 987.4L1465.6 1007.2L1465.9 993.4L1466.2 1010.6L1466.5 990.6L1466.8 1012.1L1467.1 990.3L1467.4 1009.6L1467.7 994.6L1468 1006.3L1468.3 995.1L1468.6 1010.1L1468.9 995.6L1469.2 1011.5L1469.5 995.3L1469.8 1010.5L1470.1 995.3L1470.4 1007.6L1470.7 993.8L1471 1008.6L1471.3 992.5L1471.6 1007.7L1471.9 989.9L1472.2 1010L1472.5 990.2L1472.8 1008.1L1473.1 996.8L1473.4 1011.1L1473.7 998L1474 1006.3L1474.3 998.4L1474.6 1006.4L1474.9 997.6L1475.2 1007.7L1475.5 997.8L1475.8 1006.1L1476.1 995.5L1476.4 1008.6L1476.7 994.4L1477 1012.2L1477.3 993.9L1477.6 1011.2L1477.9 997.8L1478.2 1011.8L1478.5 991.3L1478.8 1010.9L1479.1 991.5L1479.4 1009.5L1479.7 997.7L1480 1008.2L1480.3 995.6L1480.6 1006.3L1480.9 993.1L1481.2 1006.6L1481.5 987.8L1481.8 1006.4L1482.1 992.8L1482.4 1007.9L1482.7 995.7L1483 1008.9L1483.3 997L1483.6 1007.9L1483.9 994.4L1484.2 1009.4L1484.5 990.3L1484.8 1008.3L1485.1 992.4L1485.4 1006.5L1485.7 998.5L1486 1008.5L1486.3 996.9L1486.6 1006.1L1486.9 994.4L1487.2 1009.3L1487.5 997.2L1487.8 1008.6L1488.1 995L1488.4 1020L1488.7 1020L1489 1020L1489.3 996.6L1489.6 1007.2L1489.9 997.5L1490.2 1006.2L1490.5 984.7L1490.8 1006.8L1491.1 995.3L1491.4 1009.1L1491.7 997.9L1492 1012.2L1492.3 997.3L1492.6 1009.7L1492.9 996.4L1493.2 1006.6L1493.5 991.7L1493.8 1006.3L1494.1 994L1494.4 1010.3L1494.7 998L1495 1011.2L1495.3 997.5L1495.6 1009L1495.9 995.6L1496.2 1007.2L1496.5 987.3L1496.8 1008.7L1497.1 996.5L1497.4 1011.4L1497.7 997.8L1498 1007.6L1498.3 996.4L1498.6 1006.9L1498.9 998.6L1499.2 1008.3L1499.5 998.4L1499.8 1012.2L1500.1 996.9L1500.4 1012.2L1500.7 991.1L1501 1012.1L1501.3 995.4L1501.6 1010.1L1501.9 994.3L1502.2 1007.3L1502.5 996.6L1502.8 1006.7L1503.1 994.1L1503.4 1007.4L1503.7 995.7L1504 1009L1504.3 996.1L1504.6 1006.6L1504.9 993.8L1505.2 1008.1L1505.5 990.5L1505.8 1007.8L1506.1 989.8L1506.4 1007.9L1506.7 989.8L1507 1006.8L1507.3 990.1L1507.6 1010.7L1507.9 985.5L1508.2 1010.6L1508.5 986.3L1508.8 1012.2L1509.1 987.4L1509.4 1012.2L1509.7 989.3L1510 1009.1L1510.3 986.9L1510.6 1009.4L1510.9 987.1L1511.2 1011.9L1511.5 990.8L1511.8 1007.1L1512.1 996L1512.4 1006L1512.7 996.3L1513 1011.2L1513.3 993.6L1513.6 1011.3L1513.9 996.4L1514.2 1012.2L1514.5 994.9L1514.8 1012.2L1515.1 992.3L1515.4 1012.2L1515.7 995.1L1516 1010.4L1516.3 998.4L1516.6 1011.2L1516.9 998.5L1517.2 1008.1L1517.5 993.9L1517.8 1007.3L1518.1 991.7L1518.4 1006.9L1518.7 994.5L1519 1006.3L1519.3 991.5L1519.6 1010.5L1519.9 994.7L1520.2 1006.7L1520.5 995.8L1520.8 1007.5L1521.1 999.1L1521.4 1007.7L1521.7 996L1522 1006.1L1522.3 996.2L1522.6 1007.3L1522.9 993.7L1523.2 1008L1523.5 990.8L1523.8 1006.3L1524.1 992.9L1524.4 1007.8L1524.7 998.2L1525 1009.9L1525.3 991.3L1525.6 1006.3L1525.9 998.2L1526.2 1006.9L1526.5 995.5L1526.8 1007.7L1527.1 997.3L1527.4 1006.5L1527.7 996.4L1528 1007.3L1528.3 992.9L1528.6 1007L1528.9 997.4L1529.2 1010.5L1529.5 991.6L1529.8 1011.6L1530.1 992.8L1530.4 1008.9L1530.7 983.1L1531 1006.6L1531.3 993.5L1531.6 1009.3L1531.9 994.9L1532.2 1010.9L1532.5 996.2L1532.8 1006.1L1533.1 997.2L1533.4 1007.4L1533.7 995.6L1534 1008.4L1534.3 998.2L1534.6 1007.9L1534.9 995L1535.2 1006.4L1535.5 997.5L1535.8 1006.8L1536.1 990.8L1536.4 1009.8L1536.7 996.5L1537 1006.1L1537.3 997.1L1537.6 1007L1537.9 998L1538.2 1009.9L1538.5 994.3L1538.8 1006.3L1539.1 997L1539.4 1006.6L1539.7 996.5L1540 1007.2L1540.3 998.2L1540.6 1008L1540.9 994L1541.2 1008.1L1541.5 991.8L1541.8 1007.6L1542.1 994L1542.4 1007L1542.7 991.3L1543 1006.4L1543.3 995.4L1543.6 1010.6L1543.9 997.3L1544.2 1012.2L1544.5 998.1L1544.8 1012L1545.1 995.1L1545.4 1009.9L1545.7 999.1L1546 1012.2L1546.3 995.4L1546.6 1012.2L1546.9 995L1547.2 1006.4L1547.5 999.2L1547.8 1007.3L1548.1 992L1548.4 1008L1548.7 995.2L1549 1009.8L1549.3 998.7L1549.6 1007.1L1549.9 995.4L1550.2 1007.8L1550.5 999.2L1550.8 1011.5L1551.1 992.6L1551.4 1012.2L1551.7 995.2L1552 1012.2L1552.3 997L1552.6 1009.8L1552.9 993.2L1553.2 1007.2L1553.5 992L1553.8 1006.3L1554.1 996L1554.4 1008.2L1554.7 997.8L1555 1010.3L1555.3 992.4L1555.6 1012.2L1555.9 991.1L1556.2 1012.2L1556.5 991.8L1556.8 1010.2L1557.1 997.8L1557.4 1011.6L1557.7 997.1L1558 1011L1558.3 995.5L1558.6 1008.5L1558.9 991.7L1559.2 1007L1559.5 992.6L1559.8 1008.9L1560.1 987.2L1560.4 1008.3L1560.7 987L1561 1007.8L1561.3 994.3L1561.6 1008.2L1561.9 997.7L1562.2 1007L1562.5 993.6L1562.8 1008.7L1563.1 993.6L1563.4 1006.6L1563.7 995.3L1564 1006L1564.3 991.9L1564.6 1006.3L1564.9 995L1565.2 1007L1565.5 993.4L1565.8 1007.3L1566.1 993.8L1566.4 1011L1566.7 992.1L1567 1011.3L1567.3 995.3L1567.6 1009.5L1567.9 993.1L1568.2 1009.9L1568.5 992.6L1568.8 1007.7L1569.1 996.8L1569.4 1008.3L1569.7 996.2L1570 1011.4L1570.3 994.4L1570.6 1010.1L1570.9 998.4L1571.2 1009.1L1571.5 994.8L1571.8 1012.2L1572.1 994.9L1572.4 1012.2L1572.7 996.3L1573 1012.2L1573.3 993.6L1573.6 1011.4L1573.9 998L1574.2 1006.3L1574.5 995.9L1574.8 1007.4L1575.1 998.8L1575.4 1007L1575.7 998.5L1576 1006.3L1576.3 995.1L1576.6 1008.6L1576.9 996.7L1577.2 1009.7L1577.5 996.5L1577.8 1006.1L1578.1 988.3L1578.4 1007.6L1578.7 991.4L1579 1008.1L1579.3 996.3L1579.6 1007.5L1579.9 997.7L1580.2 1006.6L1580.5 995.4L1580.8 1006.2L1581.1 998.4L1581.4 1010.8L1581.7 995.5L1582 1006.2L1582.3 996.7L1582.6 1007.3L1582.9 996.7L1583.2 1007.7L1583.5 995.4L1583.8 1006.8L1584.1 994.3L1584.4 1006.2L1584.7 993.1L1585 1007.7L1585.3 993.8L1585.6 1009.9L1585.9 989.8L1586.2 1006.1L1586.5 989.2L1586.8 1007.7L1587.1 993L1587.4 1007.1L1587.7 992.2L1588 1008.1L1588.3 991.3L1588.6 1008L1588.9 994L1589.2 1009.7L1589.5 998.3L1589.8 1007.5L1590.1 996.5L1590.4 1008.7L1590.7 997.7L1591 1008.9L1591.3 997.2L1591.6 1012.2L1591.9 998.7L1592.2 1012.2L1592.5 997.1L1592.8 1012.2L1593.1 997.3L1593.4 1009.8L1593.7 994.3L1594 1006.4L1594.3 997.4L1594.6 1007.8L1594.9 992.7L1595.2 1007.9L1595.5 995.9L1595.8 1008.1L1596.1 992.8L1596.4 1006.9L1596.7 991.5L1597 1008L1597.3 981.6L1597.6 982L1597.9 981.3L1598.2 1006.9L1598.5 985L1598.8 1007.2L1599.1 988.3L1599.4 1007.5L1599.7 991.9L1600 1012.1L1600.3 995.4L1600.6 1007.2L1600.9 989.7L1601.2 1007.4L1601.5 988.9L1601.8 1006.6L1602.1 992L1602.4 1007.7L1602.7 993L1603 1011.5L1603.3 998.7L1603.6 1011.2L1603.9 996.5L1604.2 1007L1604.5 998.1L1604.8 1007.1L1605.1 998.5L1605.4 1007.9L1605.7 996.3L1606 1006.6L1606.3 994.6L1606.6 1007.6L1606.9 994.1L1607.2 1007.3L1607.5 990.7L1607.8 1009.1L1608.1 990.3L1608.4 1009.2L1608.7 989.8L1609 1009.3L1609.3 993.1L1609.6 1006.8L1609.9 980L1610.2 1007.1L1610.5 990.6L1610.8 1008.4L1611.1 991.9L1611.4 1006.1L1611.7 993.1L1612 1008.2L1612.3 999L1612.6 1009.4L1612.9 993.5L1613.2 1006.3L1613.5 992.4L1613.8 1008.2L1614.1 993.9L1614.4 1008.7L1614.7 993.6L1615 1007.3L1615.3 998.5L1615.6 1008.2L1615.9 995.4L1616.2 1008.7L1616.5 991.1L1616.8 1008.5L1617.1 991.8L1617.4 1007L1617.7 989.8L1618 1008.2L1618.3 994L1618.6 1006.8L1618.9 995.7L1619.2 1008.4L1619.5 992.5L1619.8 1008.5L1620.1 990L1620.4 1007.1L1620.7 992.4L1621 1007.4L1621.3 989.6L1621.6 1011.5L1621.9 994.4L1622.2 1006.3L1622.5 995.5L1622.8 1007.7L1623.1 997.5L1623.4 1007.6L1623.7 996.1L1624 1006.1L1624.3 994.6L1624.6 1009L1624.9 995.7L1625.2 1010.2L1625.5 993.3L1625.8 1011.4L1626.1 991L1626.4 1008.9L1626.7 991.6L1627 1007.2L1627.3 991.8L1627.6 1007.8L1627.9 998L1628.2 1007.9L1628.5 993.8L1628.8 1007.5L1629.1 998.4L1629.4 1006.1L1629.7 990.1L1630 1007.2L1630.3 988.8L1630.6 1011.5L1630.9 987.4L1631.2 1007.9L1631.5 985.4L1631.8 1007.1L1632.1 988.7L1632.4 1006.5L1632.7 985.9L1633 1011.8L1633.3 990.8L1633.6 1010.8L1633.9 998L1634.2 1010.4L1634.5 990.6L1634.8 1008.7L1635.1 992.6L1635.4 1009L1635.7 991.8L1636 1007.2L1636.3 993.7L1636.6 1010L1636.9 994.8L1637.2 1009.1L1637.5 991.1L1637.8 1006.7L1638.1 989.9L1638.4 1007.7L1638.7 994.8L1639 1010.8L1639.3 995.8L1639.6 1011.5L1639.9 994.6L1640.2 1007.2L1640.5 998.8L1640.8 1007.4L1641.1 996.9L1641.4 1009.3L1641.7 997.9L1642 1008.9L1642.3 995.7L1642.6 1012.2L1642.9 993.1L1643.2 1011.7L1643.5 991.5L1643.8 1010.4L1644.1 997.5L1644.4 1008L1644.7 997.6L1645 1010.9L1645.3 998.6L1645.6 1012L1645.9 997.3L1646.2 1010.6L1646.5 989.8L1646.8 1006.7L1647.1 991.3L1647.4 1010.6L1647.7 991.1L1648 1011.3L1648.3 992.2L1648.6 1012.2L1648.9 996.7L1649.2 1012L1649.5 996.9L1649.8 1006.8L1650.1 998L1650.4 1010L1650.7 997.1L1651 1009.4L1651.3 998.1L1651.6 1007.3L1651.9 991.3L1652.2 1009.5L1652.5 990.5L1652.8 1006.7L1653.1 992.2L1653.4 1009.2L1653.7 992.8L1654 1010.6L1654.3 992L1654.6 1007.7L1654.9 993.6L1655.2 1007.1L1655.5 993.2L1655.8 1006.5L1656.1 994L1656.4 1010.3L1656.7 997.4L1657 1006.4L1657.3 998.6L1657.6 1010.8L1657.9 982.3L1658.2 1010.3L1658.5 993.2L1658.8 1012.2L1659.1 998.6L1659.4 1011.1L1659.7 994.8L1660 1006.4L1660.3 996.8L1660.6 1008.4L1660.9 992.5L1661.2 1007.4L1661.5 992.9L1661.8 1010.7L1662.1 993.7L1662.4 1009.7L1662.7 992.6L1663 1009.7L1663.3 998.8L1663.6 1006.9L1663.9 997.3L1664.2 1008L1664.5 992.6L1664.8 1007L1665.1 998.7L1665.4 1006.8L1665.7 998.1L1666 1008.9L1666.3 997.9L1666.6 1009.1L1666.9 992.9L1667.2 1010.6L1667.5 992.7L1667.8 1011.7L1668.1 994.7L1668.4 1009.5L1668.7 997.2L1669 1006.4L1669.3 991.3L1669.6 1006.5L1669.9 992.1L1670.2 1007.8L1670.5 998.6L1670.8 1006L1671.1 997.9L1671.4 1012.2L1671.7 994.3L1672 1007.3L1672.3 992.5L1672.6 1007.5L1672.9 989.9L1673.2 1006.7L1673.5 987.8L1673.8 1007.3L1674.1 982.2L1674.4 1006.2L1674.7 986.4L1675 1006L1675.3 990.1L1675.6 1006.1L1675.9 991.7L1676.2 1007.9L1676.5 994.5L1676.8 1007.1L1677.1 994.1L1677.4 1008.5L1677.7 986.9L1678 1006.5L1678.3 992.7L1678.6 1006.5L1678.9 994L1679.2 1009.1L1679.5 995.6L1679.8 1012.2L1680.1 995L1680.4 1009.5L1680.7 993L1681 1009.6L1681.3 995.2L1681.6 1006.9L1681.9 996.6L1682.2 1006.1L1682.5 993.1L1682.8 1010.4L1683.1 996.6L1683.4 1012.2L1683.7 995.7L1684 1006.6L1684.3 991.7L1684.6 1009.8L1684.9 988.7L1685.2 1012.2L1685.5 989.9L1685.8 1008.3L1686.1 992.6L1686.4 1006.1L1686.7 994.1L1687 1010.1L1687.3 984.2L1687.6 1006.7L1687.9 993.1L1688.2 1006.1L1688.5 983.9L1688.8 1006.2L1689.1 996.5L1689.4 1006.9L1689.7 997.1L1690 1006.9L1690.3 996.8L1690.6 1007.7L1690.9 997.7L1691.2 1007.1L1691.5 990.5L1691.8 1008L1692.1 991.5L1692.4 1012.2L1692.7 988.7L1693 1006.8L1693.3 987.3L1693.6 1007.9L1693.9 995.1L1694.2 1006.9L1694.5 996.9L1694.8 1011.6L1695.1 997.6L1695.4 1006.7L1695.7 996.9L1696 1009.7L1696.3 995.2L1696.6 1006.5L1696.9 998.1L1697.2 1006.7L1697.5 998.9L1697.8 1007.5L1698.1 996L1698.4 1007.6L1698.7 993.8L1699 1006.9L1699.3 986.8L1699.6 1006.2L1699.9 988.6L1700.2 1009.1L1700.5 988.9L1700.8 1007L1701.1 985.4L1701.4 1009.3L1701.7 987.5L1702 1009.9L1702.3 988.3L1702.6 1006.8L1702.9 992.1L1703.2 1007.4L1703.5 993.9L1703.8 1006.3L1704.1 993L1704.4 1009L1704.7 989.5L1705 1007.5L1705.3 990.9L1705.6 1008.3L1705.9 988.9L1706.2 1007.7L1706.5 995.8L1706.8 1009.8L1707.1 999.1L1707.4 1007.2L1707.7 993L1708 1007.4L1708.3 992.5L1708.6 1007.5L1708.9 998.9L1709.2 1007.5L1709.5 994.8L1709.8 1008.6L1710.1 998.5L1710.4 1007.1L1710.7 996.2L1711 1008.3L1711.3 997.6L1711.6 1010.9L1711.9 998L1712.2 1007L1712.5 994.6L1712.8 1010.8L1713.1 993.6L1713.4 1008.2L1713.7 997.1L1714 1011.3L1714.3 997.3L1714.6 1011.2L1714.9 995.1L1715.2 1009.3L1715.5 995.1L1715.8 1006.1L1716.1 994.2L1716.4 1006.5L1716.7 991.5L1717 1010.4L1717.3 993.9L1717.6 1011.4L1717.9 998.5L1718.2 1008.4L1718.5 997.7L1718.8 1007.2L1719.1 997.7L1719.4 1009.9L1719.7 996.4L1720 1008.8L1720.3 994.9L1720.6 1008L1720.9 995.5L1721.2 1009.4L1721.5 995.1L1721.8 1012.2L1722.1 991.4L1722.4 1012.2L1722.7 987.6L1723 1010.4L1723.3 989.4L1723.6 1006.8L1723.9 995L1724.2 1006.9L1724.5 996L1724.8 1008.3L1725.1 997.1" fill="none" stroke="#000" stroke-width="2.0" stroke-linejoin="round"/>
</g>
<line x1="1726" y1="845" x2="1726" y2="1016.9" stroke="#1f77b4" stroke-width="2.0" stroke-dasharray="2.1 3.4"/>
<line x1="1244.8" y1="1016.9" x2="1244.8" y2="1011.9" stroke="#000" stroke-width="1.1"/>
<text x="1244.1" y="1037.1" font-size="19.44" text-anchor="middle" fill="#000">08</text>
<line x1="1319.2" y1="1016.9" x2="1319.2" y2="1011.9" stroke="#000" stroke-width="1.1"/>
<text x="1318.5" y="1037.1" font-size="19.44" text-anchor="middle" fill="#000">09</text>
<line x1="1393.6" y1="1016.9" x2="1393.6" y2="1011.9" stroke="#000" stroke-width="1.1"/>
<text x="1392.9" y="1037.1" font-size="19.44" text-anchor="middle" fill="#000">10</text>
<line x1="1468" y1="1016.9" x2="1468" y2="1011.9" stroke="#000" stroke-width="1.1"/>
<text x="1467.3" y="1037.1" font-size="19.44" text-anchor="middle" fill="#000">11</text>
<line x1="1542.4" y1="1016.9" x2="1542.4" y2="1011.9" stroke="#000" stroke-width="1.1"/>
<text x="1541.7" y="1037.1" font-size="19.44" text-anchor="middle" fill="#000">12</text>
<line x1="1616.8" y1="1016.9" x2="1616.8" y2="1011.9" stroke="#000" stroke-width="1.1"/>
<text x="1616.1" y="1037.1" font-size="19.44" text-anchor="middle" fill="#000">13</text>
<line x1="1691.2" y1="1016.9" x2="1691.2" y2="1011.9" stroke="#000" stroke-width="1.1"/>
<text x="1690.5" y="1037.1" font-size="19.44" text-anchor="middle" fill="#000">14</text>
<line x1="1765.6" y1="1016.9" x2="1765.6" y2="1011.9" stroke="#000" stroke-width="1.1"/>
<text x="1764.9" y="1037.1" font-size="19.44" text-anchor="middle" fill="#000">15</text>
<line x1="1205" y1="1016.9" x2="1210" y2="1016.9" stroke="#000" stroke-width="1.1"/>
<line x1="1800" y1="1016.9" x2="1795" y2="1016.9" stroke="#000" stroke-width="1.1"/>
<text x="1199.2" y="1025.7" font-size="19.44" text-anchor="end" fill="#000">10<tspan dy="-8.1" font-size="13.61">−1</tspan></text>
<line x1="1205" y1="1004" x2="1207.8" y2="1004" stroke="#000" stroke-width="0.9"/>
<line x1="1800" y1="1004" x2="1797.2" y2="1004" stroke="#000" stroke-width="0.9"/>
<line x1="1205" y1="996.4" x2="1207.8" y2="996.4" stroke="#000" stroke-width="0.9"/>
<line x1="1800" y1="996.4" x2="1797.2" y2="996.4" stroke="#000" stroke-width="0.9"/>
<line x1="1205" y1="991" x2="1207.8" y2="991" stroke="#000" stroke-width="0.9"/>
<line x1="1800" y1="991" x2="1797.2" y2="991" stroke="#000" stroke-width="0.9"/>
<line x1="1205" y1="986.9" x2="1207.8" y2="986.9" stroke="#000" stroke-width="0.9"/>
<line x1="1800" y1="986.9" x2="1797.2" y2="986.9" stroke="#000" stroke-width="0.9"/>
<line x1="1205" y1="983.5" x2="1207.8" y2="983.5" stroke="#000" stroke-width="0.9"/>
<line x1="1800" y1="983.5" x2="1797.2" y2="983.5" stroke="#000" stroke-width="0.9"/>
<line x1="1205" y1="980.6" x2="1207.8" y2="980.6" stroke="#000" stroke-width="0.9"/>
<line x1="1800" y1="980.6" x2="1797.2" y2="980.6" stroke="#000" stroke-width="0.9"/>
<line x1="1205" y1="978.1" x2="1207.8" y2="978.1" stroke="#000" stroke-width="0.9"/>
<line x1="1800" y1="978.1" x2="1797.2" y2="978.1" stroke="#000" stroke-width="0.9"/>
<line x1="1205" y1="975.9" x2="1207.8" y2="975.9" stroke="#000" stroke-width="0.9"/>
<line x1="1800" y1="975.9" x2="1797.2" y2="975.9" stroke="#000" stroke-width="0.9"/>
<line x1="1205" y1="973.9" x2="1210" y2="973.9" stroke="#000" stroke-width="1.1"/>
<line x1="1800" y1="973.9" x2="1795" y2="973.9" stroke="#000" stroke-width="1.1"/>
<text x="1199.2" y="982.7" font-size="19.44" text-anchor="end" fill="#000">10<tspan dy="-8.1" font-size="13.61">0</tspan></text>
<line x1="1205" y1="961" x2="1207.8" y2="961" stroke="#000" stroke-width="0.9"/>
<line x1="1800" y1="961" x2="1797.2" y2="961" stroke="#000" stroke-width="0.9"/>
<line x1="1205" y1="953.4" x2="1207.8" y2="953.4" stroke="#000" stroke-width="0.9"/>
<line x1="1800" y1="953.4" x2="1797.2" y2="953.4" stroke="#000" stroke-width="0.9"/>
<line x1="1205" y1="948.1" x2="1207.8" y2="948.1" stroke="#000" stroke-width="0.9"/>
<line x1="1800" y1="948.1" x2="1797.2" y2="948.1" stroke="#000" stroke-width="0.9"/>
<line x1="1205" y1="943.9" x2="1207.8" y2="943.9" stroke="#000" stroke-width="0.9"/>
<line x1="1800" y1="943.9" x2="1797.2" y2="943.9" stroke="#000" stroke-width="0.9"/>
<line x1="1205" y1="940.5" x2="1207.8" y2="940.5" stroke="#000" stroke-width="0.9"/>
<line x1="1800" y1="940.5" x2="1797.2" y2="940.5" stroke="#000" stroke-width="0.9"/>
<line x1="1205" y1="937.6" x2="1207.8" y2="937.6" stroke="#000" stroke-width="0.9"/>
<line x1="1800" y1="937.6" x2="1797.2" y2="937.6" stroke="#000" stroke-width="0.9"/>
<line x1="1205" y1="935.1" x2="1207.8" y2="935.1" stroke="#000" stroke-width="0.9"/>
<line x1="1800" y1="935.1" x2="1797.2" y2="935.1" stroke="#000" stroke-width="0.9"/>
<line x1="1205" y1="932.9" x2="1207.8" y2="932.9" stroke="#000" stroke-width="0.9"/>
<line x1="1800" y1="932.9" x2="1797.2" y2="932.9" stroke="#000" stroke-width="0.9"/>
<line x1="1205" y1="931" x2="1210" y2="931" stroke="#000" stroke-width="1.1"/>
<line x1="1800" y1="931" x2="1795" y2="931" stroke="#000" stroke-width="1.1"/>
<text x="1199.2" y="939.8" font-size="19.44" text-anchor="end" fill="#000">10<tspan dy="-8.1" font-size="13.61">1</tspan></text>
<line x1="1205" y1="918" x2="1207.8" y2="918" stroke="#000" stroke-width="0.9"/>
<line x1="1800" y1="918" x2="1797.2" y2="918" stroke="#000" stroke-width="0.9"/>
<line x1="1205" y1="910.4" x2="1207.8" y2="910.4" stroke="#000" stroke-width="0.9"/>
<line x1="1800" y1="910.4" x2="1797.2" y2="910.4" stroke="#000" stroke-width="0.9"/>
<line x1="1205" y1="905.1" x2="1207.8" y2="905.1" stroke="#000" stroke-width="0.9"/>
<line x1="1800" y1="905.1" x2="1797.2" y2="905.1" stroke="#000" stroke-width="0.9"/>
<line x1="1205" y1="900.9" x2="1207.8" y2="900.9" stroke="#000" stroke-width="0.9"/>
<line x1="1800" y1="900.9" x2="1797.2" y2="900.9" stroke="#000" stroke-width="0.9"/>
<line x1="1205" y1="897.5" x2="1207.8" y2="897.5" stroke="#000" stroke-width="0.9"/>
<line x1="1800" y1="897.5" x2="1797.2" y2="897.5" stroke="#000" stroke-width="0.9"/>
<line x1="1205" y1="894.6" x2="1207.8" y2="894.6" stroke="#000" stroke-width="0.9"/>
<line x1="1800" y1="894.6" x2="1797.2" y2="894.6" stroke="#000" stroke-width="0.9"/>
<line x1="1205" y1="892.1" x2="1207.8" y2="892.1" stroke="#000" stroke-width="0.9"/>
<line x1="1800" y1="892.1" x2="1797.2" y2="892.1" stroke="#000" stroke-width="0.9"/>
<line x1="1205" y1="889.9" x2="1207.8" y2="889.9" stroke="#000" stroke-width="0.9"/>
<line x1="1800" y1="889.9" x2="1797.2" y2="889.9" stroke="#000" stroke-width="0.9"/>
<line x1="1205" y1="888" x2="1210" y2="888" stroke="#000" stroke-width="1.1"/>
<line x1="1800" y1="888" x2="1795" y2="888" stroke="#000" stroke-width="1.1"/>
<text x="1199.2" y="896.8" font-size="19.44" text-anchor="end" fill="#000">10<tspan dy="-8.1" font-size="13.61">2</tspan></text>
<line x1="1205" y1="875" x2="1207.8" y2="875" stroke="#000" stroke-width="0.9"/>
<line x1="1800" y1="875" x2="1797.2" y2="875" stroke="#000" stroke-width="0.9"/>
<line x1="1205" y1="867.5" x2="1207.8" y2="867.5" stroke="#000" stroke-width="0.9"/>
<line x1="1800" y1="867.5" x2="1797.2" y2="867.5" stroke="#000" stroke-width="0.9"/>
<line x1="1205" y1="862.1" x2="1207.8" y2="862.1" stroke="#000" stroke-width="0.9"/>
<line x1="1800" y1="862.1" x2="1797.2" y2="862.1" stroke="#000" stroke-width="0.9"/>
<line x1="1205" y1="857.9" x2="1207.8" y2="857.9" stroke="#000" stroke-width="0.9"/>
<line x1="1800" y1="857.9" x2="1797.2" y2="857.9" stroke="#000" stroke-width="0.9"/>
<line x1="1205" y1="854.5" x2="1207.8" y2="854.5" stroke="#000" stroke-width="0.9"/>
<line x1="1800" y1="854.5" x2="1797.2" y2="854.5" stroke="#000" stroke-width="0.9"/>
<line x1="1205" y1="851.7" x2="1207.8" y2="851.7" stroke="#000" stroke-width="0.9"/>
<line x1="1800" y1="851.7" x2="1797.2" y2="851.7" stroke="#000" stroke-width="0.9"/>
<line x1="1205" y1="849.2" x2="1207.8" y2="849.2" stroke="#000" stroke-width="0.9"/>
<line x1="1800" y1="849.2" x2="1797.2" y2="849.2" stroke="#000" stroke-width="0.9"/>
<line x1="1205" y1="847" x2="1207.8" y2="847" stroke="#000" stroke-width="0.9"/>
<line x1="1800" y1="847" x2="1797.2" y2="847" stroke="#000" stroke-width="0.9"/>
<line x1="1205" y1="845" x2="1210" y2="845" stroke="#000" stroke-width="1.1"/>
<line x1="1800" y1="845" x2="1795" y2="845" stroke="#000" stroke-width="1.1"/>
<text x="1199.2" y="853.8" font-size="19.44" text-anchor="end" fill="#000">10<tspan dy="-8.1" font-size="13.61">3</tspan></text>
<path d="M1205 845H1800M1205 1016.9H1800M1205 845V1016.9" fill="none" stroke="#000" stroke-width="2" stroke-linecap="square"/>
<path d="M1800 845V1016.9" fill="none" stroke="#000" stroke-width="2" stroke-linecap="square"/>
<text x="1106.4" y="932" font-size="24.00" text-anchor="middle" fill="#000" transform="rotate(-90 1106.4 932)" id="yl6a">&gt;10 MeV Proton Flux</text>
<text x="1138.7" y="1018.8" font-size="24.00" text-anchor="start" fill="#000" transform="rotate(-90 1138.7 1018.8)" id="yl6b">( cm<tspan dy="-9.6" font-size="16.80">2</tspan><tspan dy="9.6" font-size="24.00"> </tspan>s<tspan dy="-9.6" font-size="16.80">−1</tspan><tspan dy="9.6" font-size="24.00"> </tspan>sr<tspan dy="-9.6" font-size="16.80">−1</tspan><tspan dy="9.6" font-size="24.00"> </tspan>)</text>
<text x="1502" y="1065.5" font-size="24.10" text-anchor="middle" fill="#000" id="xr">October 2019 (UT)</text></svg>
</body></html>
